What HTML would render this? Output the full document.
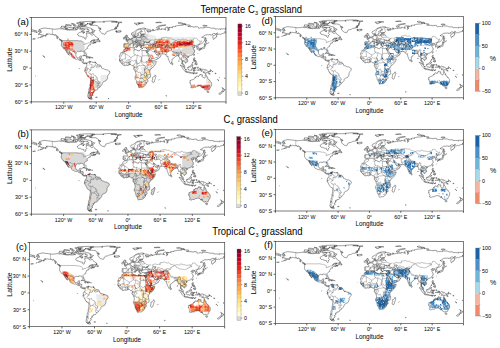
<!DOCTYPE html><html><head><meta charset="utf-8"><style>html,body{margin:0;padding:0;background:#fff;width:500px;height:348px;overflow:hidden}svg{display:block}text{font-family:"Liberation Sans", sans-serif;fill:#000}</style></head><body>
<svg width="500" height="348" viewBox="0 0 500 348">
<defs>
<pattern id="pR" patternUnits="userSpaceOnUse" width="22.20" height="22.20"><path fill="#c00225" d="M0.00,0.00h1.85v1.85h-1.85zM0.00,1.85h1.85v1.85h-1.85zM0.00,9.25h1.85v1.85h-1.85zM0.00,16.65h1.85v1.85h-1.85zM1.85,0.00h1.85v1.85h-1.85zM1.85,5.55h1.85v1.85h-1.85zM1.85,12.95h1.85v1.85h-1.85zM1.85,20.35h1.85v1.85h-1.85zM3.70,3.70h1.85v1.85h-1.85zM3.70,7.40h1.85v1.85h-1.85zM3.70,12.95h1.85v1.85h-1.85zM3.70,20.35h1.85v1.85h-1.85zM5.55,1.85h1.85v1.85h-1.85zM5.55,3.70h1.85v1.85h-1.85zM5.55,7.40h1.85v1.85h-1.85zM5.55,9.25h1.85v1.85h-1.85zM5.55,14.80h1.85v1.85h-1.85zM7.40,1.85h1.85v1.85h-1.85zM7.40,7.40h1.85v1.85h-1.85zM7.40,11.10h1.85v1.85h-1.85zM7.40,12.95h1.85v1.85h-1.85zM9.25,1.85h1.85v1.85h-1.85zM9.25,9.25h1.85v1.85h-1.85zM9.25,14.80h1.85v1.85h-1.85zM11.10,5.55h1.85v1.85h-1.85zM11.10,7.40h1.85v1.85h-1.85zM11.10,12.95h1.85v1.85h-1.85zM11.10,14.80h1.85v1.85h-1.85zM12.95,1.85h1.85v1.85h-1.85zM12.95,3.70h1.85v1.85h-1.85zM12.95,9.25h1.85v1.85h-1.85zM12.95,18.50h1.85v1.85h-1.85zM12.95,20.35h1.85v1.85h-1.85zM14.80,0.00h1.85v1.85h-1.85zM14.80,5.55h1.85v1.85h-1.85zM14.80,7.40h1.85v1.85h-1.85zM14.80,9.25h1.85v1.85h-1.85zM14.80,11.10h1.85v1.85h-1.85zM14.80,12.95h1.85v1.85h-1.85zM14.80,16.65h1.85v1.85h-1.85zM14.80,20.35h1.85v1.85h-1.85zM16.65,0.00h1.85v1.85h-1.85zM18.50,0.00h1.85v1.85h-1.85zM18.50,1.85h1.85v1.85h-1.85zM18.50,11.10h1.85v1.85h-1.85zM18.50,12.95h1.85v1.85h-1.85zM18.50,14.80h1.85v1.85h-1.85zM18.50,20.35h1.85v1.85h-1.85zM20.35,1.85h1.85v1.85h-1.85zM20.35,11.10h1.85v1.85h-1.85zM20.35,12.95h1.85v1.85h-1.85zM20.35,14.80h1.85v1.85h-1.85z"/><path fill="#e6211e" d="M0.00,3.70h1.85v1.85h-1.85zM0.00,7.40h1.85v1.85h-1.85zM0.00,12.95h1.85v1.85h-1.85zM1.85,7.40h1.85v1.85h-1.85zM1.85,11.10h1.85v1.85h-1.85zM3.70,9.25h1.85v1.85h-1.85zM3.70,11.10h1.85v1.85h-1.85zM3.70,14.80h1.85v1.85h-1.85zM5.55,0.00h1.85v1.85h-1.85zM5.55,5.55h1.85v1.85h-1.85zM5.55,11.10h1.85v1.85h-1.85zM5.55,12.95h1.85v1.85h-1.85zM5.55,16.65h1.85v1.85h-1.85zM5.55,18.50h1.85v1.85h-1.85zM7.40,0.00h1.85v1.85h-1.85zM7.40,9.25h1.85v1.85h-1.85zM7.40,16.65h1.85v1.85h-1.85zM7.40,18.50h1.85v1.85h-1.85zM7.40,20.35h1.85v1.85h-1.85zM9.25,3.70h1.85v1.85h-1.85zM9.25,5.55h1.85v1.85h-1.85zM9.25,7.40h1.85v1.85h-1.85zM9.25,16.65h1.85v1.85h-1.85zM9.25,20.35h1.85v1.85h-1.85zM11.10,0.00h1.85v1.85h-1.85zM11.10,9.25h1.85v1.85h-1.85zM11.10,20.35h1.85v1.85h-1.85zM12.95,11.10h1.85v1.85h-1.85zM14.80,14.80h1.85v1.85h-1.85zM16.65,1.85h1.85v1.85h-1.85zM16.65,5.55h1.85v1.85h-1.85zM16.65,7.40h1.85v1.85h-1.85zM16.65,9.25h1.85v1.85h-1.85zM16.65,11.10h1.85v1.85h-1.85zM16.65,16.65h1.85v1.85h-1.85zM16.65,20.35h1.85v1.85h-1.85zM18.50,5.55h1.85v1.85h-1.85zM20.35,7.40h1.85v1.85h-1.85z"/><path fill="#800026" d="M0.00,5.55h1.85v1.85h-1.85zM0.00,11.10h1.85v1.85h-1.85zM0.00,14.80h1.85v1.85h-1.85zM0.00,18.50h1.85v1.85h-1.85zM0.00,20.35h1.85v1.85h-1.85zM1.85,3.70h1.85v1.85h-1.85zM1.85,16.65h1.85v1.85h-1.85zM3.70,0.00h1.85v1.85h-1.85zM3.70,1.85h1.85v1.85h-1.85zM3.70,16.65h1.85v1.85h-1.85zM3.70,18.50h1.85v1.85h-1.85zM7.40,5.55h1.85v1.85h-1.85zM7.40,14.80h1.85v1.85h-1.85zM9.25,18.50h1.85v1.85h-1.85zM11.10,11.10h1.85v1.85h-1.85zM11.10,16.65h1.85v1.85h-1.85zM11.10,18.50h1.85v1.85h-1.85zM12.95,0.00h1.85v1.85h-1.85zM12.95,7.40h1.85v1.85h-1.85zM14.80,18.50h1.85v1.85h-1.85zM16.65,12.95h1.85v1.85h-1.85zM18.50,3.70h1.85v1.85h-1.85zM18.50,7.40h1.85v1.85h-1.85zM18.50,9.25h1.85v1.85h-1.85zM18.50,16.65h1.85v1.85h-1.85zM18.50,18.50h1.85v1.85h-1.85zM20.35,0.00h1.85v1.85h-1.85zM20.35,3.70h1.85v1.85h-1.85zM20.35,9.25h1.85v1.85h-1.85zM20.35,16.65h1.85v1.85h-1.85z"/><path fill="#fc5b2e" d="M1.85,1.85h1.85v1.85h-1.85zM1.85,18.50h1.85v1.85h-1.85zM3.70,5.55h1.85v1.85h-1.85zM5.55,20.35h1.85v1.85h-1.85zM9.25,0.00h1.85v1.85h-1.85zM9.25,11.10h1.85v1.85h-1.85zM11.10,3.70h1.85v1.85h-1.85zM12.95,5.55h1.85v1.85h-1.85zM12.95,12.95h1.85v1.85h-1.85zM12.95,14.80h1.85v1.85h-1.85zM12.95,16.65h1.85v1.85h-1.85zM14.80,1.85h1.85v1.85h-1.85zM16.65,14.80h1.85v1.85h-1.85zM16.65,18.50h1.85v1.85h-1.85zM20.35,5.55h1.85v1.85h-1.85zM20.35,18.50h1.85v1.85h-1.85z"/></pattern><pattern id="pr" patternUnits="userSpaceOnUse" width="22.20" height="22.20"><path fill="#e6211e" d="M0.00,0.00h1.85v1.85h-1.85zM0.00,1.85h1.85v1.85h-1.85zM0.00,7.40h1.85v1.85h-1.85zM0.00,9.25h1.85v1.85h-1.85zM0.00,12.95h1.85v1.85h-1.85zM0.00,20.35h1.85v1.85h-1.85zM1.85,11.10h1.85v1.85h-1.85zM1.85,12.95h1.85v1.85h-1.85zM1.85,14.80h1.85v1.85h-1.85zM3.70,0.00h1.85v1.85h-1.85zM3.70,1.85h1.85v1.85h-1.85zM3.70,14.80h1.85v1.85h-1.85zM3.70,18.50h1.85v1.85h-1.85zM5.55,1.85h1.85v1.85h-1.85zM5.55,3.70h1.85v1.85h-1.85zM5.55,9.25h1.85v1.85h-1.85zM5.55,16.65h1.85v1.85h-1.85zM5.55,18.50h1.85v1.85h-1.85zM5.55,20.35h1.85v1.85h-1.85zM7.40,0.00h1.85v1.85h-1.85zM7.40,1.85h1.85v1.85h-1.85zM7.40,9.25h1.85v1.85h-1.85zM9.25,1.85h1.85v1.85h-1.85zM9.25,3.70h1.85v1.85h-1.85zM9.25,7.40h1.85v1.85h-1.85zM9.25,12.95h1.85v1.85h-1.85zM9.25,14.80h1.85v1.85h-1.85zM9.25,20.35h1.85v1.85h-1.85zM11.10,0.00h1.85v1.85h-1.85zM11.10,1.85h1.85v1.85h-1.85zM11.10,7.40h1.85v1.85h-1.85zM11.10,14.80h1.85v1.85h-1.85zM11.10,18.50h1.85v1.85h-1.85zM12.95,7.40h1.85v1.85h-1.85zM12.95,12.95h1.85v1.85h-1.85zM12.95,14.80h1.85v1.85h-1.85zM12.95,16.65h1.85v1.85h-1.85zM12.95,18.50h1.85v1.85h-1.85zM14.80,0.00h1.85v1.85h-1.85zM14.80,1.85h1.85v1.85h-1.85zM14.80,3.70h1.85v1.85h-1.85zM14.80,7.40h1.85v1.85h-1.85zM14.80,9.25h1.85v1.85h-1.85zM14.80,14.80h1.85v1.85h-1.85zM16.65,3.70h1.85v1.85h-1.85zM16.65,5.55h1.85v1.85h-1.85zM16.65,11.10h1.85v1.85h-1.85zM16.65,12.95h1.85v1.85h-1.85zM16.65,18.50h1.85v1.85h-1.85zM18.50,7.40h1.85v1.85h-1.85zM18.50,9.25h1.85v1.85h-1.85zM18.50,20.35h1.85v1.85h-1.85zM20.35,7.40h1.85v1.85h-1.85zM20.35,11.10h1.85v1.85h-1.85zM20.35,20.35h1.85v1.85h-1.85z"/><path fill="#c00225" d="M0.00,3.70h1.85v1.85h-1.85zM0.00,5.55h1.85v1.85h-1.85zM0.00,14.80h1.85v1.85h-1.85zM1.85,1.85h1.85v1.85h-1.85zM3.70,20.35h1.85v1.85h-1.85zM5.55,0.00h1.85v1.85h-1.85zM7.40,14.80h1.85v1.85h-1.85zM11.10,20.35h1.85v1.85h-1.85zM16.65,1.85h1.85v1.85h-1.85zM16.65,7.40h1.85v1.85h-1.85zM18.50,3.70h1.85v1.85h-1.85z"/><path fill="#fd9740" d="M0.00,11.10h1.85v1.85h-1.85zM1.85,16.65h1.85v1.85h-1.85zM1.85,20.35h1.85v1.85h-1.85zM3.70,3.70h1.85v1.85h-1.85zM3.70,9.25h1.85v1.85h-1.85zM3.70,11.10h1.85v1.85h-1.85zM3.70,12.95h1.85v1.85h-1.85zM7.40,7.40h1.85v1.85h-1.85zM7.40,12.95h1.85v1.85h-1.85zM7.40,20.35h1.85v1.85h-1.85zM9.25,0.00h1.85v1.85h-1.85zM9.25,5.55h1.85v1.85h-1.85zM9.25,9.25h1.85v1.85h-1.85zM9.25,18.50h1.85v1.85h-1.85zM11.10,5.55h1.85v1.85h-1.85zM11.10,9.25h1.85v1.85h-1.85zM12.95,11.10h1.85v1.85h-1.85zM16.65,9.25h1.85v1.85h-1.85zM16.65,14.80h1.85v1.85h-1.85zM18.50,1.85h1.85v1.85h-1.85zM18.50,11.10h1.85v1.85h-1.85zM18.50,16.65h1.85v1.85h-1.85z"/><path fill="#fc5b2e" d="M0.00,18.50h1.85v1.85h-1.85zM1.85,0.00h1.85v1.85h-1.85zM1.85,3.70h1.85v1.85h-1.85zM1.85,9.25h1.85v1.85h-1.85zM1.85,18.50h1.85v1.85h-1.85zM3.70,16.65h1.85v1.85h-1.85zM5.55,5.55h1.85v1.85h-1.85zM7.40,3.70h1.85v1.85h-1.85zM7.40,11.10h1.85v1.85h-1.85zM7.40,16.65h1.85v1.85h-1.85zM11.10,12.95h1.85v1.85h-1.85zM11.10,16.65h1.85v1.85h-1.85zM12.95,1.85h1.85v1.85h-1.85zM12.95,3.70h1.85v1.85h-1.85zM12.95,20.35h1.85v1.85h-1.85zM14.80,11.10h1.85v1.85h-1.85zM14.80,18.50h1.85v1.85h-1.85zM14.80,20.35h1.85v1.85h-1.85zM16.65,0.00h1.85v1.85h-1.85zM16.65,16.65h1.85v1.85h-1.85zM16.65,20.35h1.85v1.85h-1.85zM18.50,0.00h1.85v1.85h-1.85zM18.50,5.55h1.85v1.85h-1.85zM18.50,12.95h1.85v1.85h-1.85zM18.50,14.80h1.85v1.85h-1.85zM20.35,0.00h1.85v1.85h-1.85zM20.35,1.85h1.85v1.85h-1.85zM20.35,3.70h1.85v1.85h-1.85zM20.35,5.55h1.85v1.85h-1.85zM20.35,9.25h1.85v1.85h-1.85zM20.35,14.80h1.85v1.85h-1.85z"/></pattern><pattern id="pO" patternUnits="userSpaceOnUse" width="22.20" height="22.20"><path fill="#fd9740" d="M0.00,0.00h1.85v1.85h-1.85zM0.00,16.65h1.85v1.85h-1.85zM1.85,1.85h1.85v1.85h-1.85zM1.85,3.70h1.85v1.85h-1.85zM3.70,3.70h1.85v1.85h-1.85zM3.70,11.10h1.85v1.85h-1.85zM3.70,14.80h1.85v1.85h-1.85zM5.55,0.00h1.85v1.85h-1.85zM5.55,1.85h1.85v1.85h-1.85zM7.40,11.10h1.85v1.85h-1.85zM7.40,12.95h1.85v1.85h-1.85zM7.40,18.50h1.85v1.85h-1.85zM9.25,3.70h1.85v1.85h-1.85zM9.25,18.50h1.85v1.85h-1.85zM11.10,3.70h1.85v1.85h-1.85zM12.95,0.00h1.85v1.85h-1.85zM12.95,11.10h1.85v1.85h-1.85zM12.95,12.95h1.85v1.85h-1.85zM14.80,9.25h1.85v1.85h-1.85zM14.80,11.10h1.85v1.85h-1.85zM14.80,18.50h1.85v1.85h-1.85zM14.80,20.35h1.85v1.85h-1.85zM16.65,9.25h1.85v1.85h-1.85zM16.65,20.35h1.85v1.85h-1.85zM18.50,16.65h1.85v1.85h-1.85zM20.35,9.25h1.85v1.85h-1.85zM20.35,12.95h1.85v1.85h-1.85z"/><path fill="#fed470" d="M0.00,3.70h1.85v1.85h-1.85zM0.00,18.50h1.85v1.85h-1.85zM1.85,20.35h1.85v1.85h-1.85zM5.55,7.40h1.85v1.85h-1.85zM5.55,16.65h1.85v1.85h-1.85zM7.40,3.70h1.85v1.85h-1.85zM9.25,5.55h1.85v1.85h-1.85zM11.10,18.50h1.85v1.85h-1.85zM14.80,0.00h1.85v1.85h-1.85zM14.80,5.55h1.85v1.85h-1.85zM14.80,16.65h1.85v1.85h-1.85zM16.65,16.65h1.85v1.85h-1.85z"/><path fill="#e6211e" d="M0.00,5.55h1.85v1.85h-1.85zM0.00,7.40h1.85v1.85h-1.85zM0.00,11.10h1.85v1.85h-1.85zM0.00,14.80h1.85v1.85h-1.85zM1.85,0.00h1.85v1.85h-1.85zM1.85,5.55h1.85v1.85h-1.85zM3.70,0.00h1.85v1.85h-1.85zM3.70,7.40h1.85v1.85h-1.85zM3.70,12.95h1.85v1.85h-1.85zM3.70,18.50h1.85v1.85h-1.85zM5.55,3.70h1.85v1.85h-1.85zM5.55,11.10h1.85v1.85h-1.85zM5.55,14.80h1.85v1.85h-1.85zM5.55,20.35h1.85v1.85h-1.85zM7.40,7.40h1.85v1.85h-1.85zM7.40,14.80h1.85v1.85h-1.85zM7.40,16.65h1.85v1.85h-1.85zM9.25,0.00h1.85v1.85h-1.85zM9.25,7.40h1.85v1.85h-1.85zM9.25,11.10h1.85v1.85h-1.85zM11.10,1.85h1.85v1.85h-1.85zM11.10,7.40h1.85v1.85h-1.85zM11.10,9.25h1.85v1.85h-1.85zM11.10,11.10h1.85v1.85h-1.85zM12.95,1.85h1.85v1.85h-1.85zM12.95,5.55h1.85v1.85h-1.85zM12.95,9.25h1.85v1.85h-1.85zM12.95,14.80h1.85v1.85h-1.85zM12.95,20.35h1.85v1.85h-1.85zM16.65,3.70h1.85v1.85h-1.85zM16.65,5.55h1.85v1.85h-1.85zM16.65,7.40h1.85v1.85h-1.85zM16.65,12.95h1.85v1.85h-1.85zM16.65,14.80h1.85v1.85h-1.85zM18.50,7.40h1.85v1.85h-1.85zM20.35,3.70h1.85v1.85h-1.85zM20.35,14.80h1.85v1.85h-1.85zM20.35,18.50h1.85v1.85h-1.85z"/><path fill="#fc5b2e" d="M0.00,9.25h1.85v1.85h-1.85zM0.00,12.95h1.85v1.85h-1.85zM1.85,11.10h1.85v1.85h-1.85zM1.85,14.80h1.85v1.85h-1.85zM1.85,16.65h1.85v1.85h-1.85zM3.70,1.85h1.85v1.85h-1.85zM3.70,5.55h1.85v1.85h-1.85zM3.70,9.25h1.85v1.85h-1.85zM3.70,16.65h1.85v1.85h-1.85zM3.70,20.35h1.85v1.85h-1.85zM5.55,12.95h1.85v1.85h-1.85zM5.55,18.50h1.85v1.85h-1.85zM7.40,0.00h1.85v1.85h-1.85zM7.40,5.55h1.85v1.85h-1.85zM7.40,20.35h1.85v1.85h-1.85zM9.25,14.80h1.85v1.85h-1.85zM9.25,16.65h1.85v1.85h-1.85zM11.10,0.00h1.85v1.85h-1.85zM11.10,5.55h1.85v1.85h-1.85zM11.10,12.95h1.85v1.85h-1.85zM11.10,14.80h1.85v1.85h-1.85zM11.10,16.65h1.85v1.85h-1.85zM11.10,20.35h1.85v1.85h-1.85zM12.95,3.70h1.85v1.85h-1.85zM12.95,7.40h1.85v1.85h-1.85zM12.95,16.65h1.85v1.85h-1.85zM14.80,1.85h1.85v1.85h-1.85zM14.80,3.70h1.85v1.85h-1.85zM14.80,7.40h1.85v1.85h-1.85zM14.80,14.80h1.85v1.85h-1.85zM16.65,0.00h1.85v1.85h-1.85zM16.65,1.85h1.85v1.85h-1.85zM16.65,11.10h1.85v1.85h-1.85zM18.50,0.00h1.85v1.85h-1.85zM18.50,1.85h1.85v1.85h-1.85zM18.50,3.70h1.85v1.85h-1.85zM18.50,5.55h1.85v1.85h-1.85zM18.50,9.25h1.85v1.85h-1.85zM18.50,11.10h1.85v1.85h-1.85zM18.50,18.50h1.85v1.85h-1.85zM20.35,0.00h1.85v1.85h-1.85zM20.35,1.85h1.85v1.85h-1.85zM20.35,5.55h1.85v1.85h-1.85zM20.35,7.40h1.85v1.85h-1.85zM20.35,11.10h1.85v1.85h-1.85zM20.35,16.65h1.85v1.85h-1.85zM20.35,20.35h1.85v1.85h-1.85z"/></pattern><pattern id="po" patternUnits="userSpaceOnUse" width="22.20" height="22.20"><path fill="#e6211e" d="M0.00,0.00h1.85v1.85h-1.85zM0.00,1.85h1.85v1.85h-1.85zM1.85,7.40h1.85v1.85h-1.85zM3.70,16.65h1.85v1.85h-1.85zM5.55,12.95h1.85v1.85h-1.85zM9.25,20.35h1.85v1.85h-1.85zM12.95,3.70h1.85v1.85h-1.85zM14.80,20.35h1.85v1.85h-1.85zM16.65,0.00h1.85v1.85h-1.85zM16.65,14.80h1.85v1.85h-1.85zM18.50,20.35h1.85v1.85h-1.85z"/><path fill="#fd9740" d="M0.00,3.70h1.85v1.85h-1.85zM0.00,9.25h1.85v1.85h-1.85zM0.00,18.50h1.85v1.85h-1.85zM0.00,20.35h1.85v1.85h-1.85zM1.85,20.35h1.85v1.85h-1.85zM3.70,0.00h1.85v1.85h-1.85zM3.70,20.35h1.85v1.85h-1.85zM5.55,3.70h1.85v1.85h-1.85zM5.55,11.10h1.85v1.85h-1.85zM5.55,18.50h1.85v1.85h-1.85zM5.55,20.35h1.85v1.85h-1.85zM7.40,9.25h1.85v1.85h-1.85zM7.40,18.50h1.85v1.85h-1.85zM7.40,20.35h1.85v1.85h-1.85zM9.25,0.00h1.85v1.85h-1.85zM9.25,16.65h1.85v1.85h-1.85zM9.25,18.50h1.85v1.85h-1.85zM11.10,1.85h1.85v1.85h-1.85zM11.10,9.25h1.85v1.85h-1.85zM11.10,11.10h1.85v1.85h-1.85zM11.10,12.95h1.85v1.85h-1.85zM11.10,14.80h1.85v1.85h-1.85zM12.95,5.55h1.85v1.85h-1.85zM12.95,11.10h1.85v1.85h-1.85zM12.95,12.95h1.85v1.85h-1.85zM14.80,1.85h1.85v1.85h-1.85zM14.80,9.25h1.85v1.85h-1.85zM14.80,18.50h1.85v1.85h-1.85zM16.65,1.85h1.85v1.85h-1.85zM16.65,3.70h1.85v1.85h-1.85zM16.65,5.55h1.85v1.85h-1.85zM16.65,9.25h1.85v1.85h-1.85zM16.65,11.10h1.85v1.85h-1.85zM18.50,5.55h1.85v1.85h-1.85zM18.50,7.40h1.85v1.85h-1.85zM18.50,9.25h1.85v1.85h-1.85zM18.50,14.80h1.85v1.85h-1.85zM18.50,16.65h1.85v1.85h-1.85zM18.50,18.50h1.85v1.85h-1.85zM20.35,3.70h1.85v1.85h-1.85zM20.35,9.25h1.85v1.85h-1.85zM20.35,11.10h1.85v1.85h-1.85zM20.35,14.80h1.85v1.85h-1.85z"/><path fill="#fc5b2e" d="M0.00,5.55h1.85v1.85h-1.85zM1.85,1.85h1.85v1.85h-1.85zM1.85,18.50h1.85v1.85h-1.85zM3.70,14.80h1.85v1.85h-1.85zM3.70,18.50h1.85v1.85h-1.85zM5.55,0.00h1.85v1.85h-1.85zM7.40,1.85h1.85v1.85h-1.85zM7.40,5.55h1.85v1.85h-1.85zM7.40,7.40h1.85v1.85h-1.85zM7.40,12.95h1.85v1.85h-1.85zM9.25,9.25h1.85v1.85h-1.85zM9.25,11.10h1.85v1.85h-1.85zM9.25,12.95h1.85v1.85h-1.85zM11.10,0.00h1.85v1.85h-1.85zM11.10,16.65h1.85v1.85h-1.85zM11.10,20.35h1.85v1.85h-1.85zM12.95,14.80h1.85v1.85h-1.85zM12.95,18.50h1.85v1.85h-1.85zM14.80,0.00h1.85v1.85h-1.85zM14.80,5.55h1.85v1.85h-1.85zM14.80,14.80h1.85v1.85h-1.85zM16.65,7.40h1.85v1.85h-1.85zM16.65,20.35h1.85v1.85h-1.85zM20.35,0.00h1.85v1.85h-1.85zM20.35,7.40h1.85v1.85h-1.85zM20.35,12.95h1.85v1.85h-1.85z"/><path fill="#fed470" d="M0.00,7.40h1.85v1.85h-1.85zM0.00,11.10h1.85v1.85h-1.85zM0.00,12.95h1.85v1.85h-1.85zM0.00,14.80h1.85v1.85h-1.85zM1.85,3.70h1.85v1.85h-1.85zM1.85,5.55h1.85v1.85h-1.85zM1.85,12.95h1.85v1.85h-1.85zM1.85,14.80h1.85v1.85h-1.85zM3.70,7.40h1.85v1.85h-1.85zM3.70,11.10h1.85v1.85h-1.85zM3.70,12.95h1.85v1.85h-1.85zM5.55,5.55h1.85v1.85h-1.85zM5.55,7.40h1.85v1.85h-1.85zM5.55,9.25h1.85v1.85h-1.85zM5.55,16.65h1.85v1.85h-1.85zM7.40,0.00h1.85v1.85h-1.85zM7.40,3.70h1.85v1.85h-1.85zM7.40,11.10h1.85v1.85h-1.85zM7.40,14.80h1.85v1.85h-1.85zM9.25,1.85h1.85v1.85h-1.85zM9.25,3.70h1.85v1.85h-1.85zM9.25,5.55h1.85v1.85h-1.85zM9.25,7.40h1.85v1.85h-1.85zM9.25,14.80h1.85v1.85h-1.85zM11.10,3.70h1.85v1.85h-1.85zM11.10,5.55h1.85v1.85h-1.85zM11.10,7.40h1.85v1.85h-1.85zM12.95,20.35h1.85v1.85h-1.85zM14.80,12.95h1.85v1.85h-1.85zM16.65,16.65h1.85v1.85h-1.85zM18.50,1.85h1.85v1.85h-1.85zM18.50,12.95h1.85v1.85h-1.85z"/></pattern><pattern id="py" patternUnits="userSpaceOnUse" width="22.20" height="22.20"><path fill="#ffec9d" d="M0.00,0.00h1.85v1.85h-1.85zM0.00,5.55h1.85v1.85h-1.85zM0.00,12.95h1.85v1.85h-1.85zM0.00,16.65h1.85v1.85h-1.85zM1.85,3.70h1.85v1.85h-1.85zM1.85,14.80h1.85v1.85h-1.85zM1.85,18.50h1.85v1.85h-1.85zM3.70,7.40h1.85v1.85h-1.85zM5.55,7.40h1.85v1.85h-1.85zM5.55,16.65h1.85v1.85h-1.85zM7.40,7.40h1.85v1.85h-1.85zM7.40,9.25h1.85v1.85h-1.85zM9.25,12.95h1.85v1.85h-1.85zM9.25,14.80h1.85v1.85h-1.85zM11.10,11.10h1.85v1.85h-1.85zM11.10,12.95h1.85v1.85h-1.85zM11.10,18.50h1.85v1.85h-1.85zM12.95,0.00h1.85v1.85h-1.85zM12.95,1.85h1.85v1.85h-1.85zM12.95,11.10h1.85v1.85h-1.85zM12.95,18.50h1.85v1.85h-1.85zM12.95,20.35h1.85v1.85h-1.85zM14.80,3.70h1.85v1.85h-1.85zM14.80,5.55h1.85v1.85h-1.85zM14.80,11.10h1.85v1.85h-1.85zM14.80,16.65h1.85v1.85h-1.85zM14.80,20.35h1.85v1.85h-1.85zM16.65,1.85h1.85v1.85h-1.85zM16.65,14.80h1.85v1.85h-1.85zM16.65,16.65h1.85v1.85h-1.85zM18.50,0.00h1.85v1.85h-1.85zM18.50,11.10h1.85v1.85h-1.85zM18.50,18.50h1.85v1.85h-1.85zM20.35,14.80h1.85v1.85h-1.85z"/><path fill="#fd9740" d="M0.00,9.25h1.85v1.85h-1.85zM0.00,20.35h1.85v1.85h-1.85zM3.70,20.35h1.85v1.85h-1.85zM5.55,1.85h1.85v1.85h-1.85zM7.40,0.00h1.85v1.85h-1.85zM9.25,5.55h1.85v1.85h-1.85zM9.25,7.40h1.85v1.85h-1.85zM9.25,16.65h1.85v1.85h-1.85zM12.95,3.70h1.85v1.85h-1.85zM14.80,1.85h1.85v1.85h-1.85zM14.80,12.95h1.85v1.85h-1.85zM16.65,12.95h1.85v1.85h-1.85zM18.50,5.55h1.85v1.85h-1.85z"/><path fill="#fed470" d="M0.00,18.50h1.85v1.85h-1.85zM1.85,1.85h1.85v1.85h-1.85zM1.85,5.55h1.85v1.85h-1.85zM1.85,7.40h1.85v1.85h-1.85zM1.85,12.95h1.85v1.85h-1.85zM1.85,16.65h1.85v1.85h-1.85zM1.85,20.35h1.85v1.85h-1.85zM3.70,0.00h1.85v1.85h-1.85zM3.70,1.85h1.85v1.85h-1.85zM3.70,3.70h1.85v1.85h-1.85zM3.70,9.25h1.85v1.85h-1.85zM3.70,14.80h1.85v1.85h-1.85zM3.70,16.65h1.85v1.85h-1.85zM3.70,18.50h1.85v1.85h-1.85zM5.55,0.00h1.85v1.85h-1.85zM5.55,3.70h1.85v1.85h-1.85zM5.55,5.55h1.85v1.85h-1.85zM5.55,12.95h1.85v1.85h-1.85zM5.55,14.80h1.85v1.85h-1.85zM5.55,18.50h1.85v1.85h-1.85zM5.55,20.35h1.85v1.85h-1.85zM7.40,1.85h1.85v1.85h-1.85zM7.40,5.55h1.85v1.85h-1.85zM7.40,12.95h1.85v1.85h-1.85zM7.40,14.80h1.85v1.85h-1.85zM7.40,16.65h1.85v1.85h-1.85zM7.40,18.50h1.85v1.85h-1.85zM7.40,20.35h1.85v1.85h-1.85zM9.25,18.50h1.85v1.85h-1.85zM11.10,5.55h1.85v1.85h-1.85zM11.10,7.40h1.85v1.85h-1.85zM11.10,9.25h1.85v1.85h-1.85zM12.95,7.40h1.85v1.85h-1.85zM12.95,12.95h1.85v1.85h-1.85zM12.95,14.80h1.85v1.85h-1.85zM12.95,16.65h1.85v1.85h-1.85zM14.80,0.00h1.85v1.85h-1.85zM14.80,7.40h1.85v1.85h-1.85zM14.80,9.25h1.85v1.85h-1.85zM14.80,14.80h1.85v1.85h-1.85zM16.65,3.70h1.85v1.85h-1.85zM16.65,5.55h1.85v1.85h-1.85zM16.65,11.10h1.85v1.85h-1.85zM16.65,18.50h1.85v1.85h-1.85zM16.65,20.35h1.85v1.85h-1.85zM18.50,3.70h1.85v1.85h-1.85zM18.50,7.40h1.85v1.85h-1.85zM18.50,9.25h1.85v1.85h-1.85zM18.50,12.95h1.85v1.85h-1.85zM18.50,20.35h1.85v1.85h-1.85zM20.35,1.85h1.85v1.85h-1.85zM20.35,5.55h1.85v1.85h-1.85zM20.35,7.40h1.85v1.85h-1.85zM20.35,11.10h1.85v1.85h-1.85zM20.35,16.65h1.85v1.85h-1.85zM20.35,18.50h1.85v1.85h-1.85zM20.35,20.35h1.85v1.85h-1.85z"/></pattern><pattern id="pY" patternUnits="userSpaceOnUse" width="22.20" height="22.20"><path fill="#ffec9d" d="M0.00,3.70h1.85v1.85h-1.85zM0.00,7.40h1.85v1.85h-1.85zM0.00,11.10h1.85v1.85h-1.85zM1.85,7.40h1.85v1.85h-1.85zM3.70,0.00h1.85v1.85h-1.85zM3.70,3.70h1.85v1.85h-1.85zM3.70,9.25h1.85v1.85h-1.85zM3.70,12.95h1.85v1.85h-1.85zM5.55,7.40h1.85v1.85h-1.85zM7.40,5.55h1.85v1.85h-1.85zM7.40,12.95h1.85v1.85h-1.85zM7.40,18.50h1.85v1.85h-1.85zM9.25,1.85h1.85v1.85h-1.85zM9.25,14.80h1.85v1.85h-1.85zM11.10,1.85h1.85v1.85h-1.85zM11.10,9.25h1.85v1.85h-1.85zM12.95,7.40h1.85v1.85h-1.85zM12.95,11.10h1.85v1.85h-1.85zM14.80,3.70h1.85v1.85h-1.85zM14.80,5.55h1.85v1.85h-1.85zM14.80,7.40h1.85v1.85h-1.85zM14.80,14.80h1.85v1.85h-1.85zM16.65,5.55h1.85v1.85h-1.85zM16.65,9.25h1.85v1.85h-1.85zM16.65,16.65h1.85v1.85h-1.85zM16.65,18.50h1.85v1.85h-1.85zM16.65,20.35h1.85v1.85h-1.85zM18.50,0.00h1.85v1.85h-1.85zM18.50,12.95h1.85v1.85h-1.85zM18.50,20.35h1.85v1.85h-1.85zM20.35,9.25h1.85v1.85h-1.85zM20.35,11.10h1.85v1.85h-1.85zM20.35,12.95h1.85v1.85h-1.85z"/><path fill="#fed470" d="M0.00,12.95h1.85v1.85h-1.85zM0.00,14.80h1.85v1.85h-1.85zM1.85,12.95h1.85v1.85h-1.85zM3.70,1.85h1.85v1.85h-1.85zM5.55,0.00h1.85v1.85h-1.85zM5.55,12.95h1.85v1.85h-1.85zM5.55,20.35h1.85v1.85h-1.85zM7.40,0.00h1.85v1.85h-1.85zM7.40,1.85h1.85v1.85h-1.85zM9.25,3.70h1.85v1.85h-1.85zM9.25,12.95h1.85v1.85h-1.85zM12.95,5.55h1.85v1.85h-1.85zM12.95,12.95h1.85v1.85h-1.85zM12.95,14.80h1.85v1.85h-1.85zM20.35,7.40h1.85v1.85h-1.85z"/></pattern><pattern id="pB" patternUnits="userSpaceOnUse" width="22.20" height="22.20"><path fill="#70b4d8" d="M0.00,0.00h1.85v1.85h-1.85zM5.55,7.40h1.85v1.85h-1.85zM7.40,5.55h1.85v1.85h-1.85zM12.95,20.35h1.85v1.85h-1.85zM20.35,11.10h1.85v1.85h-1.85z"/><path fill="#1d62a6" d="M0.00,1.85h1.85v1.85h-1.85zM0.00,3.70h1.85v1.85h-1.85zM0.00,9.25h1.85v1.85h-1.85zM0.00,11.10h1.85v1.85h-1.85zM0.00,14.80h1.85v1.85h-1.85zM0.00,16.65h1.85v1.85h-1.85zM0.00,18.50h1.85v1.85h-1.85zM0.00,20.35h1.85v1.85h-1.85zM1.85,0.00h1.85v1.85h-1.85zM1.85,1.85h1.85v1.85h-1.85zM1.85,5.55h1.85v1.85h-1.85zM1.85,7.40h1.85v1.85h-1.85zM1.85,9.25h1.85v1.85h-1.85zM1.85,12.95h1.85v1.85h-1.85zM1.85,14.80h1.85v1.85h-1.85zM1.85,16.65h1.85v1.85h-1.85zM1.85,20.35h1.85v1.85h-1.85zM3.70,0.00h1.85v1.85h-1.85zM3.70,1.85h1.85v1.85h-1.85zM3.70,3.70h1.85v1.85h-1.85zM3.70,5.55h1.85v1.85h-1.85zM3.70,9.25h1.85v1.85h-1.85zM3.70,11.10h1.85v1.85h-1.85zM3.70,14.80h1.85v1.85h-1.85zM3.70,16.65h1.85v1.85h-1.85zM3.70,18.50h1.85v1.85h-1.85zM5.55,0.00h1.85v1.85h-1.85zM5.55,1.85h1.85v1.85h-1.85zM5.55,3.70h1.85v1.85h-1.85zM5.55,5.55h1.85v1.85h-1.85zM5.55,11.10h1.85v1.85h-1.85zM5.55,12.95h1.85v1.85h-1.85zM5.55,16.65h1.85v1.85h-1.85zM5.55,18.50h1.85v1.85h-1.85zM7.40,0.00h1.85v1.85h-1.85zM7.40,3.70h1.85v1.85h-1.85zM7.40,7.40h1.85v1.85h-1.85zM7.40,9.25h1.85v1.85h-1.85zM7.40,11.10h1.85v1.85h-1.85zM7.40,12.95h1.85v1.85h-1.85zM7.40,18.50h1.85v1.85h-1.85zM9.25,0.00h1.85v1.85h-1.85zM9.25,1.85h1.85v1.85h-1.85zM9.25,3.70h1.85v1.85h-1.85zM9.25,5.55h1.85v1.85h-1.85zM9.25,7.40h1.85v1.85h-1.85zM9.25,11.10h1.85v1.85h-1.85zM9.25,12.95h1.85v1.85h-1.85zM9.25,18.50h1.85v1.85h-1.85zM9.25,20.35h1.85v1.85h-1.85zM11.10,3.70h1.85v1.85h-1.85zM11.10,5.55h1.85v1.85h-1.85zM11.10,9.25h1.85v1.85h-1.85zM11.10,16.65h1.85v1.85h-1.85zM11.10,20.35h1.85v1.85h-1.85zM12.95,0.00h1.85v1.85h-1.85zM12.95,5.55h1.85v1.85h-1.85zM12.95,7.40h1.85v1.85h-1.85zM12.95,9.25h1.85v1.85h-1.85zM12.95,11.10h1.85v1.85h-1.85zM12.95,12.95h1.85v1.85h-1.85zM12.95,14.80h1.85v1.85h-1.85zM12.95,16.65h1.85v1.85h-1.85zM14.80,0.00h1.85v1.85h-1.85zM14.80,1.85h1.85v1.85h-1.85zM14.80,5.55h1.85v1.85h-1.85zM14.80,9.25h1.85v1.85h-1.85zM14.80,11.10h1.85v1.85h-1.85zM14.80,12.95h1.85v1.85h-1.85zM14.80,16.65h1.85v1.85h-1.85zM14.80,18.50h1.85v1.85h-1.85zM14.80,20.35h1.85v1.85h-1.85zM16.65,0.00h1.85v1.85h-1.85zM16.65,3.70h1.85v1.85h-1.85zM16.65,5.55h1.85v1.85h-1.85zM16.65,7.40h1.85v1.85h-1.85zM16.65,11.10h1.85v1.85h-1.85zM16.65,12.95h1.85v1.85h-1.85zM16.65,18.50h1.85v1.85h-1.85zM16.65,20.35h1.85v1.85h-1.85zM18.50,0.00h1.85v1.85h-1.85zM18.50,1.85h1.85v1.85h-1.85zM18.50,3.70h1.85v1.85h-1.85zM18.50,5.55h1.85v1.85h-1.85zM18.50,7.40h1.85v1.85h-1.85zM18.50,9.25h1.85v1.85h-1.85zM18.50,11.10h1.85v1.85h-1.85zM18.50,12.95h1.85v1.85h-1.85zM18.50,16.65h1.85v1.85h-1.85zM20.35,0.00h1.85v1.85h-1.85zM20.35,1.85h1.85v1.85h-1.85zM20.35,3.70h1.85v1.85h-1.85zM20.35,5.55h1.85v1.85h-1.85zM20.35,9.25h1.85v1.85h-1.85zM20.35,18.50h1.85v1.85h-1.85z"/><path fill="#4b8fc6" d="M0.00,5.55h1.85v1.85h-1.85zM0.00,12.95h1.85v1.85h-1.85zM1.85,3.70h1.85v1.85h-1.85zM1.85,11.10h1.85v1.85h-1.85zM1.85,18.50h1.85v1.85h-1.85zM3.70,7.40h1.85v1.85h-1.85zM3.70,12.95h1.85v1.85h-1.85zM5.55,14.80h1.85v1.85h-1.85zM7.40,1.85h1.85v1.85h-1.85zM7.40,14.80h1.85v1.85h-1.85zM7.40,20.35h1.85v1.85h-1.85zM9.25,14.80h1.85v1.85h-1.85zM11.10,12.95h1.85v1.85h-1.85zM11.10,14.80h1.85v1.85h-1.85zM11.10,18.50h1.85v1.85h-1.85zM12.95,1.85h1.85v1.85h-1.85zM12.95,3.70h1.85v1.85h-1.85zM12.95,18.50h1.85v1.85h-1.85zM14.80,3.70h1.85v1.85h-1.85zM14.80,7.40h1.85v1.85h-1.85zM14.80,14.80h1.85v1.85h-1.85zM16.65,1.85h1.85v1.85h-1.85zM16.65,9.25h1.85v1.85h-1.85zM16.65,14.80h1.85v1.85h-1.85zM16.65,16.65h1.85v1.85h-1.85zM18.50,14.80h1.85v1.85h-1.85zM18.50,18.50h1.85v1.85h-1.85zM18.50,20.35h1.85v1.85h-1.85zM20.35,14.80h1.85v1.85h-1.85zM20.35,16.65h1.85v1.85h-1.85z"/></pattern><pattern id="pb" patternUnits="userSpaceOnUse" width="22.20" height="22.20"><path fill="#4b8fc6" d="M0.00,0.00h1.85v1.85h-1.85zM0.00,12.95h1.85v1.85h-1.85zM1.85,3.70h1.85v1.85h-1.85zM1.85,11.10h1.85v1.85h-1.85zM1.85,12.95h1.85v1.85h-1.85zM3.70,9.25h1.85v1.85h-1.85zM3.70,12.95h1.85v1.85h-1.85zM3.70,16.65h1.85v1.85h-1.85zM3.70,18.50h1.85v1.85h-1.85zM5.55,5.55h1.85v1.85h-1.85zM5.55,12.95h1.85v1.85h-1.85zM5.55,14.80h1.85v1.85h-1.85zM5.55,18.50h1.85v1.85h-1.85zM7.40,11.10h1.85v1.85h-1.85zM7.40,14.80h1.85v1.85h-1.85zM9.25,0.00h1.85v1.85h-1.85zM9.25,1.85h1.85v1.85h-1.85zM9.25,3.70h1.85v1.85h-1.85zM9.25,16.65h1.85v1.85h-1.85zM9.25,20.35h1.85v1.85h-1.85zM11.10,1.85h1.85v1.85h-1.85zM11.10,3.70h1.85v1.85h-1.85zM11.10,9.25h1.85v1.85h-1.85zM12.95,3.70h1.85v1.85h-1.85zM12.95,11.10h1.85v1.85h-1.85zM12.95,12.95h1.85v1.85h-1.85zM12.95,16.65h1.85v1.85h-1.85zM14.80,5.55h1.85v1.85h-1.85zM14.80,7.40h1.85v1.85h-1.85zM14.80,16.65h1.85v1.85h-1.85zM16.65,1.85h1.85v1.85h-1.85zM16.65,3.70h1.85v1.85h-1.85zM16.65,11.10h1.85v1.85h-1.85zM16.65,12.95h1.85v1.85h-1.85zM18.50,5.55h1.85v1.85h-1.85zM18.50,9.25h1.85v1.85h-1.85zM18.50,18.50h1.85v1.85h-1.85zM20.35,7.40h1.85v1.85h-1.85zM20.35,9.25h1.85v1.85h-1.85zM20.35,12.95h1.85v1.85h-1.85z"/><path fill="#1d62a6" d="M0.00,5.55h1.85v1.85h-1.85zM0.00,11.10h1.85v1.85h-1.85zM0.00,16.65h1.85v1.85h-1.85zM0.00,20.35h1.85v1.85h-1.85zM1.85,1.85h1.85v1.85h-1.85zM1.85,7.40h1.85v1.85h-1.85zM1.85,9.25h1.85v1.85h-1.85zM1.85,14.80h1.85v1.85h-1.85zM1.85,16.65h1.85v1.85h-1.85zM1.85,18.50h1.85v1.85h-1.85zM3.70,3.70h1.85v1.85h-1.85zM3.70,7.40h1.85v1.85h-1.85zM5.55,0.00h1.85v1.85h-1.85zM5.55,9.25h1.85v1.85h-1.85zM5.55,20.35h1.85v1.85h-1.85zM7.40,1.85h1.85v1.85h-1.85zM7.40,5.55h1.85v1.85h-1.85zM7.40,16.65h1.85v1.85h-1.85zM7.40,18.50h1.85v1.85h-1.85zM7.40,20.35h1.85v1.85h-1.85zM9.25,7.40h1.85v1.85h-1.85zM9.25,9.25h1.85v1.85h-1.85zM9.25,12.95h1.85v1.85h-1.85zM9.25,14.80h1.85v1.85h-1.85zM9.25,18.50h1.85v1.85h-1.85zM11.10,0.00h1.85v1.85h-1.85zM11.10,5.55h1.85v1.85h-1.85zM11.10,11.10h1.85v1.85h-1.85zM11.10,14.80h1.85v1.85h-1.85zM11.10,16.65h1.85v1.85h-1.85zM11.10,18.50h1.85v1.85h-1.85zM12.95,5.55h1.85v1.85h-1.85zM12.95,7.40h1.85v1.85h-1.85zM14.80,0.00h1.85v1.85h-1.85zM14.80,3.70h1.85v1.85h-1.85zM14.80,9.25h1.85v1.85h-1.85zM14.80,11.10h1.85v1.85h-1.85zM14.80,14.80h1.85v1.85h-1.85zM14.80,20.35h1.85v1.85h-1.85zM16.65,0.00h1.85v1.85h-1.85zM16.65,9.25h1.85v1.85h-1.85zM16.65,14.80h1.85v1.85h-1.85zM18.50,0.00h1.85v1.85h-1.85zM18.50,11.10h1.85v1.85h-1.85zM18.50,12.95h1.85v1.85h-1.85zM18.50,14.80h1.85v1.85h-1.85zM18.50,16.65h1.85v1.85h-1.85zM20.35,5.55h1.85v1.85h-1.85zM20.35,14.80h1.85v1.85h-1.85zM20.35,20.35h1.85v1.85h-1.85z"/><path fill="#70b4d8" d="M0.00,14.80h1.85v1.85h-1.85zM3.70,0.00h1.85v1.85h-1.85zM3.70,11.10h1.85v1.85h-1.85zM5.55,3.70h1.85v1.85h-1.85zM7.40,0.00h1.85v1.85h-1.85zM7.40,7.40h1.85v1.85h-1.85zM7.40,12.95h1.85v1.85h-1.85zM9.25,11.10h1.85v1.85h-1.85zM11.10,7.40h1.85v1.85h-1.85zM11.10,20.35h1.85v1.85h-1.85zM12.95,9.25h1.85v1.85h-1.85zM12.95,14.80h1.85v1.85h-1.85zM12.95,20.35h1.85v1.85h-1.85zM16.65,5.55h1.85v1.85h-1.85zM16.65,20.35h1.85v1.85h-1.85zM18.50,3.70h1.85v1.85h-1.85zM18.50,7.40h1.85v1.85h-1.85zM18.50,20.35h1.85v1.85h-1.85zM20.35,0.00h1.85v1.85h-1.85zM20.35,3.70h1.85v1.85h-1.85zM20.35,16.65h1.85v1.85h-1.85z"/></pattern><pattern id="pc" patternUnits="userSpaceOnUse" width="22.20" height="22.20"><path fill="#1d62a6" d="M0.00,1.85h1.85v1.85h-1.85zM3.70,3.70h1.85v1.85h-1.85zM3.70,9.25h1.85v1.85h-1.85zM3.70,11.10h1.85v1.85h-1.85zM3.70,18.50h1.85v1.85h-1.85zM3.70,20.35h1.85v1.85h-1.85zM5.55,7.40h1.85v1.85h-1.85zM5.55,18.50h1.85v1.85h-1.85zM7.40,3.70h1.85v1.85h-1.85zM7.40,7.40h1.85v1.85h-1.85zM7.40,9.25h1.85v1.85h-1.85zM9.25,0.00h1.85v1.85h-1.85zM9.25,1.85h1.85v1.85h-1.85zM9.25,11.10h1.85v1.85h-1.85zM11.10,7.40h1.85v1.85h-1.85zM12.95,1.85h1.85v1.85h-1.85zM12.95,7.40h1.85v1.85h-1.85zM12.95,14.80h1.85v1.85h-1.85zM14.80,18.50h1.85v1.85h-1.85zM16.65,0.00h1.85v1.85h-1.85zM16.65,16.65h1.85v1.85h-1.85zM16.65,20.35h1.85v1.85h-1.85z"/><path fill="#4b8fc6" d="M0.00,3.70h1.85v1.85h-1.85zM0.00,5.55h1.85v1.85h-1.85zM0.00,12.95h1.85v1.85h-1.85zM0.00,16.65h1.85v1.85h-1.85zM0.00,18.50h1.85v1.85h-1.85zM1.85,20.35h1.85v1.85h-1.85zM3.70,0.00h1.85v1.85h-1.85zM3.70,7.40h1.85v1.85h-1.85zM3.70,14.80h1.85v1.85h-1.85zM3.70,16.65h1.85v1.85h-1.85zM5.55,11.10h1.85v1.85h-1.85zM7.40,5.55h1.85v1.85h-1.85zM7.40,20.35h1.85v1.85h-1.85zM9.25,5.55h1.85v1.85h-1.85zM9.25,7.40h1.85v1.85h-1.85zM9.25,12.95h1.85v1.85h-1.85zM9.25,14.80h1.85v1.85h-1.85zM9.25,18.50h1.85v1.85h-1.85zM9.25,20.35h1.85v1.85h-1.85zM11.10,14.80h1.85v1.85h-1.85zM11.10,20.35h1.85v1.85h-1.85zM12.95,5.55h1.85v1.85h-1.85zM12.95,9.25h1.85v1.85h-1.85zM14.80,0.00h1.85v1.85h-1.85zM14.80,3.70h1.85v1.85h-1.85zM14.80,7.40h1.85v1.85h-1.85zM14.80,11.10h1.85v1.85h-1.85zM14.80,12.95h1.85v1.85h-1.85zM16.65,9.25h1.85v1.85h-1.85zM18.50,0.00h1.85v1.85h-1.85zM18.50,1.85h1.85v1.85h-1.85zM18.50,11.10h1.85v1.85h-1.85zM20.35,0.00h1.85v1.85h-1.85zM20.35,1.85h1.85v1.85h-1.85zM20.35,3.70h1.85v1.85h-1.85zM20.35,11.10h1.85v1.85h-1.85zM20.35,18.50h1.85v1.85h-1.85z"/><path fill="#a9d8e7" d="M1.85,0.00h1.85v1.85h-1.85zM1.85,18.50h1.85v1.85h-1.85zM3.70,1.85h1.85v1.85h-1.85zM5.55,1.85h1.85v1.85h-1.85zM5.55,9.25h1.85v1.85h-1.85zM7.40,14.80h1.85v1.85h-1.85zM7.40,18.50h1.85v1.85h-1.85zM11.10,5.55h1.85v1.85h-1.85zM14.80,20.35h1.85v1.85h-1.85zM16.65,7.40h1.85v1.85h-1.85zM18.50,20.35h1.85v1.85h-1.85zM20.35,16.65h1.85v1.85h-1.85z"/><path fill="#70b4d8" d="M1.85,7.40h1.85v1.85h-1.85zM1.85,14.80h1.85v1.85h-1.85zM9.25,9.25h1.85v1.85h-1.85zM11.10,1.85h1.85v1.85h-1.85zM11.10,9.25h1.85v1.85h-1.85zM11.10,11.10h1.85v1.85h-1.85zM11.10,18.50h1.85v1.85h-1.85zM12.95,16.65h1.85v1.85h-1.85zM12.95,18.50h1.85v1.85h-1.85zM14.80,1.85h1.85v1.85h-1.85zM14.80,16.65h1.85v1.85h-1.85zM16.65,11.10h1.85v1.85h-1.85zM16.65,12.95h1.85v1.85h-1.85zM18.50,5.55h1.85v1.85h-1.85zM18.50,7.40h1.85v1.85h-1.85zM18.50,12.95h1.85v1.85h-1.85zM18.50,14.80h1.85v1.85h-1.85zM20.35,12.95h1.85v1.85h-1.85zM20.35,20.35h1.85v1.85h-1.85z"/></pattern>
<clipPath id="land" clipPathUnits="userSpaceOnUse"><path d="M-168,-65.6 -166,-66.2 -163.7,-66.6 -161.8,-66.1 -163.8,-67.7 -166.2,-68.3 -164,-69 -163,-69.6 -160.5,-70.3 -156.6,-71.3 -152.5,-70.9 -149,-70.5 -145,-70.1 -141,-69.6 -137,-69 -134.5,-69.6 -132,-69.6 -129.5,-70 -127,-70.2 -125,-69.5 -122,-69.8 -118.5,-69 -114.5,-68.3 -111,-67.8 -108.5,-67.4 -106.5,-68.2 -104.5,-67.8 -101,-67.8 -98.5,-67.8 -97,-68.5 -95.5,-68.2 -94,-69.5 -94.5,-71.8 -92.5,-71.5 -91.5,-70 -89.5,-69 -88,-68.4 -85.8,-69.5 -84.5,-69.8 -82,-69.4 -81.3,-68.4 -83,-67.3 -85.5,-66.5 -87.5,-66 -86.5,-64.8 -88.5,-64 -90.5,-63.4 -92.5,-62.2 -94.2,-61 -94.7,-59.5 -93,-58.5 -92.3,-57.1 -90,-57 -88,-56.3 -85.5,-55.3 -82.4,-55.1 -82.2,-53.3 -81.4,-52.2 -80,-51.3 -79,-51.8 -78.8,-53.5 -79.2,-54.6 -77.3,-55.6 -76.6,-56.8 -77.3,-58 -78.3,-58.8 -77.5,-60.1 -78,-61.3 -77.8,-62.4 -75,-62.2 -72.5,-61.6 -71.2,-61 -69.7,-60.8 -69.3,-59.2 -68.2,-58.6 -66.5,-58.8 -65.2,-59.8 -64.5,-60.3 -63.5,-58.7 -62,-57.6 -61.3,-56.2 -59.3,-55.2 -57.8,-54.2 -56,-53.2 -55.8,-52 -57.2,-51.4 -59.2,-50.6 -61.5,-50.1 -64.5,-50.2 -66.5,-49.9 -68.5,-49 -70,-47.8 -71,-46.9 -69.5,-47.6 -68,-48.6 -65,-49.2 -64.3,-48.6 -65.3,-47.9 -64.8,-46.9 -64.3,-46.1 -62.8,-45.7 -61.2,-45.6 -60.2,-46 -61,-45.3 -63.5,-44.6 -65.6,-43.6 -66.1,-44.3 -64.5,-45.3 -66.2,-45.2 -67.2,-44.6 -68.8,-44.3 -70.2,-43.6 -70.8,-42.8 -70.6,-42 -70,-41.8 -70.6,-41.5 -72,-41.3 -73.8,-40.8 -74,-40.2 -74.5,-39.3 -75.5,-38.9 -75.1,-38.3 -75.9,-37.3 -76.3,-36.9 -75.8,-36 -75.5,-35.2 -76.5,-34.8 -77.6,-34.2 -78.9,-33.6 -80,-32.7 -81.2,-31.5 -81.4,-30.2 -80.5,-28.3 -80,-26.5 -80.3,-25.3 -81.1,-25.2 -81.7,-25.9 -82.2,-26.8 -82.7,-27.9 -82.6,-28.9 -83.4,-29.7 -84.3,-30 -85.3,-29.7 -86.3,-30.4 -88,-30.5 -89.4,-30.2 -89.2,-29.3 -90,-29.1 -91.4,-29.4 -92.8,-29.7 -94,-29.7 -95.1,-29.2 -96.5,-28.4 -97.3,-27.5 -97.4,-26 -97.7,-24.5 -97.8,-22.8 -97.4,-21.4 -96.5,-19.8 -95.9,-18.8 -94.6,-18.2 -93,-18.4 -91.6,-18.5 -90.7,-19.3 -90.4,-20.8 -89.5,-21.3 -87.8,-21.5 -86.8,-21.2 -87.4,-20.3 -87.6,-19.3 -87.8,-18.3 -88.3,-18.5 -88.3,-17.5 -88.2,-16.6 -88.9,-15.9 -88.1,-15.7 -87.2,-15.8 -86,-15.9 -84.5,-15.8 -83.4,-15.2 -83.3,-14.2 -83.6,-12.9 -83.7,-11.6 -83.7,-10.9 -83,-10 -82.2,-9.2 -81.4,-8.8 -80.4,-9.2 -79.5,-9.6 -78.4,-9.4 -77.4,-8.7 -77.9,-7.2 -78.4,-8 -78.9,-8.5 -79.7,-8.7 -80.4,-8 -80.4,-7.3 -81.3,-7.7 -81.8,-8.2 -82.9,-8 -83.6,-8.4 -84,-9.3 -84.8,-9.6 -85.7,-9.9 -85.7,-11 -86.5,-11.8 -87.4,-12.9 -87.8,-13.4 -88.6,-13.3 -89.6,-13.5 -90.6,-13.9 -91.7,-14.1 -92.3,-14.6 -93.4,-15.6 -94.7,-16.2 -96.5,-15.7 -98.2,-16.1 -99.7,-16.7 -101.4,-17.6 -102.7,-18 -104,-18.8 -105.3,-19.9 -105.4,-21 -105.7,-22.3 -106.6,-23.3 -107.9,-24.5 -109,-25.6 -109.4,-26.6 -110.6,-27.7 -111.2,-28.6 -112.2,-29.1 -112.9,-30.4 -113.8,-31.4 -114.8,-31.8 -114.6,-30.2 -113.6,-29.1 -112.8,-28 -111.8,-26.7 -111.2,-25.5 -110.7,-24.3 -109.9,-23.9 -109.4,-23.2 -110.2,-22.9 -111.4,-24.4 -112.2,-24.7 -112.2,-26 -113.5,-26.8 -114.5,-27.7 -114.1,-28.6 -115.5,-29.7 -116.3,-30.8 -116.8,-31.7 -117.1,-32.5 -117.4,-33.3 -118.5,-34 -119.6,-34.4 -120.6,-34.6 -120.8,-35.5 -121.9,-36.6 -122.4,-37.4 -123,-38.2 -123.8,-39.4 -124.3,-40.4 -124.2,-41.9 -124.5,-42.8 -124.1,-44.3 -123.9,-46 -124.1,-47.3 -124.7,-48.4 -123.2,-48.1 -122.6,-47.3 -122.4,-48.2 -122.8,-49 -123.9,-49.7 -125,-50.4 -126.7,-50.9 -127.5,-51.7 -128.1,-52.6 -129.2,-53.6 -130.4,-54.5 -130.9,-55.3 -131.8,-56.1 -133.2,-57.2 -134.2,-58.2 -135.5,-59 -136.5,-58.4 -138,-59 -139.5,-59.7 -141,-60 -143.5,-60 -146,-60.6 -148,-60.8 -149,-60 -150.6,-59.4 -151.7,-59.2 -151.8,-60.7 -150,-61.2 -152.3,-60.4 -153.8,-59 -154.2,-58.2 -156.3,-57.4 -157.6,-56.6 -159.5,-55.6 -161.4,-55.3 -163,-54.7 -164.7,-54.4 -163,-55.2 -161,-55.9 -159,-56.9 -157.5,-57.8 -157.2,-58.8 -158.5,-58.8 -160.3,-59 -161.9,-58.7 -162.1,-59.9 -163.8,-59.8 -165.3,-60.5 -165,-61.4 -166,-61.6 -165.2,-62.5 -164.4,-63.2 -162.5,-63.5 -161,-64 -161.3,-64.6 -163,-64.6 -165,-64.5 -166.5,-64.8 -166.6,-65.3 -168,-65.6ZM-77.4,-8.7 -76.7,-8.6 -76,-9.5 -75.5,-10.6 -74.6,-11 -73.5,-11.3 -72.4,-11.9 -71.6,-12.4 -71.1,-12 -71.9,-11.6 -71.6,-10.9 -71.9,-10.4 -71.6,-9.4 -71,-9.9 -71.3,-11.1 -70.2,-11.5 -69.8,-12.4 -69,-11.5 -68.1,-10.6 -66.2,-10.6 -65,-10.1 -63.5,-10.6 -62,-10.7 -62.7,-10.2 -61.6,-9.9 -60.8,-9.4 -60,-8.6 -59.1,-8 -58.4,-7.3 -57.6,-6.5 -57.1,-5.9 -55.9,-5.8 -54,-5.7 -52.9,-5.4 -51.8,-4.6 -51.3,-4.2 -50.5,-2 -49.9,-1.7 -50.2,-0.5 -49.2,0.1 -48.5,1 -47,0.8 -45.5,1.3 -44.4,2.2 -43.4,2.4 -41.5,2.9 -39.8,2.9 -38.5,3.7 -37.2,4.8 -35.6,5.1 -35,6.7 -34.8,7.5 -35.1,9 -36.2,10.3 -37.2,11.3 -38,12.6 -38.9,13.8 -39,15 -38.9,16.5 -39.3,17.9 -39.8,19.6 -40.8,20.9 -41.8,22.4 -43.1,22.9 -44.6,23.4 -45.4,23.8 -46.9,24.5 -48.1,25.5 -48.6,26.6 -48.5,28 -49.6,29.2 -50.7,30.9 -51.6,31.8 -52.5,33 -53.4,33.8 -54.6,34.9 -56.2,34.9 -57.2,35.2 -57.1,36.3 -56.7,36.9 -57.7,38.2 -59.2,38.7 -61.2,38.9 -62.3,38.8 -62.1,39.9 -62.3,40.7 -63.8,41.2 -65.1,41.1 -65,42.1 -64.3,42.4 -63.7,42.8 -64.8,43 -65.3,44.5 -65.6,45 -67.3,45.6 -67.6,46.3 -66.6,47 -65.6,47.2 -66.1,48.1 -67.8,49.9 -68.7,50.3 -69.1,51 -68.6,52.3 -69.5,52.2 -70.8,52.9 -70.8,53.6 -71.4,53.9 -72.6,53.5 -73.7,52.8 -74.9,52.3 -75.3,51.6 -75.5,50.4 -75.6,48.7 -74.7,48.2 -75.6,46.6 -74.7,45.8 -74.4,44.1 -73.2,44.5 -72.7,42.4 -73.4,42.1 -73.7,43.4 -74.3,43.2 -73.7,39.9 -73.2,39.3 -73.5,38.3 -73.6,37.2 -73.2,37.1 -72.6,35.5 -71.9,33.9 -71.4,32.4 -71.7,30.9 -71.4,28.9 -70.9,27.6 -70.7,25.7 -70.4,23.6 -70.1,21.4 -70.2,19.8 -70.4,18.3 -71.4,17.8 -71.5,17.4 -73.4,16.4 -75.2,15.3 -76,14.6 -76.4,13.8 -76.3,13.5 -77.1,12.2 -78.1,10.4 -79,8.4 -79.8,7.2 -80.5,6.5 -81.2,6.1 -80.9,5.7 -81.4,4.7 -81.1,4 -80.3,3.4 -79.8,2.7 -80.4,2.7 -81,2.2 -80.8,1 -80.1,0 -80,-0.8 -79.5,-1 -78.9,-1.4 -78.7,-1.8 -78.4,-2.6 -77.9,-2.7 -77.1,-3.8 -77.5,-4.1 -77.3,-4.7 -77.5,-5.6 -77.3,-6.7 -77.9,-7.2 -77.4,-8.7ZM-5.9,-35.8 -6.2,-35.1 -6.8,-34 -7.7,-33.6 -8.7,-33.2 -9.3,-32.6 -9.8,-31.2 -9.6,-30 -10.4,-29.1 -11.7,-28.1 -12.9,-27.9 -13.6,-27.3 -14.4,-26.3 -14.8,-25.1 -15.4,-24.4 -16,-23.7 -16.3,-22.7 -16.9,-21.9 -17,-21 -16.7,-20.1 -16.3,-19.6 -16.1,-18.5 -16.3,-17.2 -16.5,-16.1 -17.1,-14.9 -17.6,-14.7 -17.2,-14.4 -16.7,-13.6 -16.6,-12.2 -16.1,-11.5 -15.1,-10.9 -14.6,-10.2 -13.3,-9.5 -13.2,-8.5 -12.4,-7.3 -11.4,-6.8 -10.2,-5.9 -9,-4.8 -7.5,-4.4 -5.8,-5 -4.6,-5.2 -3.3,-5 -2,-4.7 -0.5,-5.3 1.1,-5.9 2.7,-6.3 4.3,-6.3 5,-5.6 5.6,-4.9 6.7,-4.2 7.5,-4.4 8.5,-4.5 9,-3.9 9.6,-3.5 9.8,-2.2 9.5,-1 9.3,0.4 9,0.6 9.6,2 11.1,3.9 11.9,5 12.3,6.1 12.7,6.9 13.2,8.6 13.2,9.8 13.7,10.7 13.7,12 13.1,12.9 12.6,13.6 12.1,14.9 11.7,16.7 11.8,18.1 12.6,19 13.4,20.9 14.3,22.1 14.4,23.9 14.8,25.4 15.2,27.1 16.3,28.6 17.1,29.9 17.6,30.7 18.2,31.7 18.2,32.4 18.4,33.1 18.4,34.1 18.9,34.4 19.6,34.8 20.7,34.4 22.6,33.9 24.7,34 25.8,33.7 26.4,33.6 27.5,33.2 28.2,32.8 29.4,31.6 30.1,31.1 30.9,29.9 31.3,29.4 32.2,28.8 32.6,27.5 32.5,26 33,25.4 34.8,24.8 35.5,24.1 35.6,23.1 35.4,21.8 35.2,21.3 34.8,20.4 35.2,19.6 36.3,18.7 37.4,17.6 38.5,17.1 39.7,16.7 40.5,15.4 40.6,14.2 40.5,12.6 40.5,10.8 39.9,10.1 39.4,9 39.2,7.7 39.4,6.4 38.8,6.5 38.7,5.9 39.2,4.7 39.6,4.3 40.3,2.6 40.6,2.5 41.6,1.7 42,0.9 43.1,-0.3 44.1,-1.1 45.6,-2 46.6,-2.9 47.7,-4.2 48.6,-5.3 49.5,-6.8 50.1,-8.1 50.6,-9.2 50.7,-10.3 51.1,-10.6 51,-11.2 51.1,-11.9 50.7,-12 49.5,-11.4 48.4,-11.4 47.5,-11.1 46.6,-10.8 45.6,-10.7 44.6,-10.4 43.5,-11.3 42.8,-11.7 43.3,-12.4 42.7,-13 42.3,-13.3 41.6,-13.5 40.9,-14.1 40,-15 39.3,-15.9 38.5,-18 37.9,-18.4 37.5,-19.6 37.1,-21.2 36.8,-22 36,-22.8 35.5,-23.8 35,-25 34.6,-25.8 34.1,-26.9 33.6,-27.8 33.1,-28.4 32.4,-29.9 32.3,-31.3 31.6,-31.4 31,-31.6 30,-31.5 29,-30.9 28,-31 26.5,-31.6 25.2,-31.6 24.1,-32 23.2,-32.2 22.9,-32.6 21.5,-32.8 20.1,-31.9 19.8,-30.9 19,-30.3 18,-30.8 16.6,-31.2 15.7,-31.4 15.2,-32.3 13.9,-32.7 12.7,-32.8 11.4,-33.1 10.9,-33.8 10.3,-33.8 10.1,-34.3 10.8,-35.7 10.6,-36.4 11,-37.1 10.2,-37.2 9.5,-37.3 8.4,-36.9 7.3,-37.1 6.3,-37.1 5.3,-36.7 4.8,-36.9 3.2,-36.8 1.5,-36.6 0.5,-36.3 -1.2,-35.7 -2.2,-35.2 -3.6,-35.4 -4.6,-35.3 -5.2,-35.8 -5.9,-35.8ZM49.2,12 49.8,12.9 50.1,13.6 50.5,15.2 50.2,16 49.8,16.9 49.5,17.1 49.4,18 49,19.1 48.5,20.5 47.9,22.4 47.5,24.1 47.1,24.9 45.4,25.6 44.8,25.3 44,24.9 43.8,24.5 43.7,23.6 43.3,22.8 43.3,22.1 43.4,21.3 43.9,21.2 43.9,20.8 44.4,20.1 44.5,19.4 44.2,18.9 44,18.3 44,17.4 44.3,16.9 44.4,16.2 44.9,16.2 45.5,16 45.9,15.8 46.3,15.8 46.9,15.2 47.7,14.6 48,14.1 48,13.7 48.7,13.1 48.9,12.5 49.2,12ZM-5.6,-36 -6.3,-36.8 -7.4,-37.2 -8.9,-37 -8.8,-38.3 -9.5,-38.7 -9,-39.7 -8.8,-40.8 -8.8,-41.9 -9,-42.6 -9.3,-43 -8,-43.7 -6.8,-43.6 -5.4,-43.6 -4.3,-43.4 -3,-43.3 -1.9,-43.4 -1.4,-44 -1.2,-45.5 -1.1,-46.2 -2.1,-47 -2.9,-47.6 -4.5,-47.9 -4.6,-48.7 -3.2,-48.9 -1.6,-48.6 -1.9,-49.7 -1,-49.3 0.2,-49.7 1.3,-50.1 1.6,-50.9 2.5,-51.1 3.3,-51.3 3.8,-51.6 4.3,-52 4.7,-53.1 5.5,-53.4 6.9,-53.5 7.9,-53.7 8.5,-53.6 8.8,-54 8.6,-54.9 8.1,-55.6 8.1,-56.5 8.5,-57.1 9.4,-57.2 10.6,-57.7 10.5,-57.2 10.2,-56.9 10.3,-56.2 10.9,-56.5 10.7,-56.1 9.6,-55.5 9.9,-55.1 9.9,-54.8 10.9,-54.4 11.9,-54.2 12.5,-54.5 13.6,-54.1 14.3,-53.9 15.7,-54.2 17,-54.7 18.6,-54.7 18.7,-54.4 19.7,-54.4 20.9,-54.9 21.3,-55.2 21.1,-56.8 21.6,-57.4 22.5,-57.8 23.3,-57 24.1,-57 24.4,-58.4 23.4,-58.6 23.3,-59.2 24.6,-59.5 26,-59.6 27.5,-59.6 28,-59.5 29.1,-60 28.1,-60.5 26.3,-60.4 24.5,-60.1 22.9,-59.8 22.3,-60.4 21.3,-60.7 21.5,-61.7 21.1,-62.6 21.5,-63.2 22.4,-63.8 24.7,-64.9 25.4,-65.1 25.3,-65.5 24.7,-65.9 23.9,-66 22.2,-65.7 21.2,-65 21.4,-64.4 19.8,-63.6 17.8,-62.7 17.1,-61.3 17.8,-60.6 18.8,-60.1 17.9,-59 16.8,-58.7 16.4,-57 15.9,-56.1 14.7,-56.2 14.1,-55.4 12.9,-55.4 12.6,-56.3 11.8,-57.4 11,-58.9 10.4,-59.5 8.4,-58.3 7,-58.1 5.7,-58.6 5.3,-59.7 5,-61 5.9,-62.6 8.6,-63.5 10.5,-64.5 12.4,-65.9 14.8,-67.8 16.4,-68.6 19.2,-69.8 21.4,-70.3 23,-70.2 24.5,-71 26.4,-71 28.2,-71.2 31.3,-70.5 30,-70.2 31.1,-69.6 32.1,-69.9 33.8,-69.3 36.5,-69.1 40.3,-67.9 41.1,-67.5 41.1,-66.8 40,-66.3 38.4,-66 33.9,-66.8 33.2,-66.6 34.8,-65.9 34.9,-64.4 37,-63.8 37.1,-64.3 36.5,-64.8 37.2,-65.1 39.6,-64.5 40.4,-64.8 39.8,-65.5 42.1,-66.5 43.9,-66.1 44.5,-66.8 43.7,-67.4 44.2,-68 43.5,-68.6 46.2,-68.2 46.8,-67.7 45.6,-67.6 45.6,-67 46.3,-66.7 47.9,-66.9 48.1,-67.5 50.2,-67.9 53.7,-68.9 54.5,-68.8 53.5,-68.2 54.7,-68.1 55.4,-68.4 57.3,-68.5 58.8,-68.9 59.9,-68.3 61.1,-68.9 60,-69.5 60.6,-69.9 63.5,-69.5 64.9,-69.2 68.5,-68.1 69.2,-68.6 68.2,-69.1 68.1,-69.4 66.9,-69.5 67.3,-70 66.7,-71 68.5,-71.9 69.2,-72.8 69.9,-73 72.6,-72.8 72.8,-72.2 71.8,-71.4 72.5,-71.1 72.8,-70.4 72.6,-69 73.7,-68.4 73.2,-67.7 72,-66.5 72.4,-66.2 74.2,-67.3 75.1,-67.8 74.5,-68.3 74.9,-69 73.8,-69.1 73.6,-69.6 74.4,-70.6 73.1,-71.4 74.9,-72.1 74.7,-72.8 75.2,-72.9 75.7,-72.3 75.3,-71.3 76.4,-71.2 75.9,-71.9 77.6,-72.3 79.7,-72.3 81.5,-71.8 80.6,-72.6 80.5,-73.6 82.3,-73.9 84.7,-73.8 86.8,-73.9 86,-74.5 87.2,-75.1 88.3,-75.1 90.3,-75.6 92.9,-75.8 93.2,-76 95.9,-76.1 96.7,-75.9 98.9,-76.4 100.8,-76.4 101,-76.9 102,-77.3 104.4,-77.7 106.1,-77.4 104.7,-77.1 107,-77 107.2,-76.5 108.2,-76.7 111.1,-76.7 113.3,-76.2 114.1,-75.8 113.9,-75.3 112.8,-75 110.2,-74.5 109.4,-74.2 110.6,-74 112.1,-73.8 113,-74 113.5,-73.3 114,-73.6 115.6,-73.8 118.8,-73.6 119,-73.1 123.2,-73 123.3,-73.7 125.4,-73.6 127,-73.6 128.6,-73 129.1,-72.4 128.5,-72 129.7,-71.2 131.3,-70.8 132.3,-71.8 133.9,-71.4 135.6,-71.7 137.5,-71.3 138.2,-71.6 139.9,-71.5 139.1,-72.4 140.5,-72.8 149.5,-72.2 150.4,-71.6 153,-70.8 157,-71 159,-70.9 159.8,-70.5 159.7,-69.7 160.9,-69.4 162.3,-69.6 164.1,-69.7 165.9,-69.5 167.8,-69.6 169.6,-68.7 170.8,-69 170,-69.7 170.5,-70.1 173.6,-69.8 175.7,-69.9 178.6,-69.4 180,-69 180,-65 178.7,-64.5 177.4,-64.6 178.3,-64.1 178.9,-63.3 179.4,-63 179.2,-62.3 177.4,-62.5 174.6,-61.8 173.7,-61.7 172.2,-61 170.7,-60.3 170.3,-59.9 168.9,-60.6 166.3,-59.8 165.8,-60.2 164.9,-59.7 163.5,-59.9 163.2,-59.2 162,-58.2 162.1,-57.8 163.2,-57.6 163.1,-56.2 162.1,-56.1 161.7,-55.3 162.1,-54.9 160.4,-54.3 160,-53.2 158.5,-53 158.2,-51.9 156.8,-51 156.4,-51.7 156,-53.2 155.4,-55.4 155.9,-56.8 156.8,-57.4 156.8,-57.8 158.4,-58.1 160.2,-59.3 161.9,-60.3 163.7,-61.1 164.5,-62.6 163.3,-62.5 162.7,-61.6 160.1,-60.5 159.3,-61.8 156.7,-61.4 154.2,-59.8 155,-59.1 152.8,-58.9 151.3,-58.8 151.3,-59.5 149.8,-59.7 148.5,-59.2 145.5,-59.3 142.2,-59 139,-57.1 135.1,-54.7 136.7,-54.6 137.2,-54 138.2,-53.8 138.8,-54.3 139.9,-54.2 141.3,-53.1 141.4,-52.2 140.6,-51.2 140.5,-50 140.1,-48.4 138.6,-47 138.2,-46.3 136.9,-45.1 135.5,-44 134.9,-43.4 133.5,-42.8 132.9,-42.8 132.3,-43.3 130.8,-42.2 130.6,-42.4 130.6,-42 130,-41.9 129.6,-41.6 129.7,-41 129.2,-40.7 128.6,-40.2 128,-40 127.5,-39.8 127.4,-39.3 127.8,-39.1 128.3,-38.6 129.2,-37.4 129.5,-36.8 129.5,-35.6 129.1,-35.1 128.2,-34.9 127.4,-34.5 126.5,-34.4 126.4,-34.9 126.6,-35.7 126.1,-36.7 126.9,-36.9 126.2,-37.7 125.7,-37.9 125.2,-37.7 125.3,-37.9 124.7,-38.1 125.2,-38.6 125.1,-38.8 125.4,-39.4 125.3,-39.6 124.7,-39.7 124.3,-39.9 122.9,-39.6 122.1,-39.2 121.1,-38.9 121.6,-39.4 121.4,-39.8 122.2,-40.4 121.6,-40.9 120.8,-40.6 119.6,-39.9 119,-39.3 118,-39.2 117.5,-38.7 118.1,-38.1 118.9,-37.9 118.9,-37.4 119.7,-37.2 120.8,-37.9 121.7,-37.5 122.4,-37.5 122.5,-36.9 121.1,-36.7 120.6,-36.1 119.7,-35.6 119.2,-35 120.2,-34.4 120.6,-33.4 121.2,-32.5 121.9,-31.7 121.9,-30.9 121.3,-30.7 121.5,-30.1 122.1,-29.8 121.9,-29 121.7,-28.2 121.1,-28.1 120.4,-27.1 119.6,-25.7 118.7,-24.5 117.3,-23.6 116,-22.9 114.8,-22.7 114.2,-22.2 113.8,-22.5 113.2,-22.1 111.8,-21.6 110.8,-21.4 110.4,-20.3 109.9,-20.3 109.6,-21 109.9,-21.4 108.5,-21.7 108.1,-21.6 107,-21.8 106.6,-21 105.9,-19.8 105.7,-19.1 106.4,-18 107.4,-16.7 108.3,-16.1 108.9,-15.3 109.3,-13.4 109.2,-11.7 108.4,-11 107.2,-10.4 106.4,-9.5 105.2,-8.6 104.8,-9.2 105.1,-9.9 104.3,-10.5 103.5,-10.6 103.1,-11.2 102.6,-12.2 102.3,-12 101,-12.6 100.8,-13.5 100.1,-13.4 100,-12.3 99.2,-11 99.2,-9.2 99.9,-9.2 100.3,-8.3 100.5,-7.4 101,-6.9 101.6,-6.7 102.1,-6.2 102.4,-6 103,-5.5 103.4,-4.9 103.3,-3.7 103.4,-3.4 103.5,-2.8 103.9,-2.5 104.2,-1.6 103.5,-1.2 102.6,-2 101.4,-2.8 101.3,-3.3 100.7,-3.9 100.6,-4.8 100.2,-5.3 100.3,-6 100.1,-6.5 99.7,-6.8 99.5,-7.3 99,-7.9 98.5,-8.4 98.3,-7.8 98.2,-8.4 98.3,-9 98.6,-9.9 98.5,-10.7 98.8,-11.4 98.4,-12 98.5,-13.1 98.1,-13.6 97.8,-14.8 97.6,-16.1 97.2,-16.9 96.5,-16.4 95.4,-15.7 94.8,-15.8 94.2,-16 94.5,-17.3 94.3,-18.2 93.5,-19.4 93.7,-19.7 93.1,-19.9 92.4,-20.7 92.1,-21.2 92,-21.7 91.8,-22.2 91.4,-22.8 90.5,-22.8 90.6,-22.4 90.3,-21.8 89.8,-22 89.7,-21.9 89.4,-22 89,-22.1 88.9,-21.7 88.2,-21.7 87,-21.5 87,-20.7 86.5,-20.2 85.1,-19.5 83.9,-18.3 83.2,-17.7 82.2,-17 82.2,-16.6 81.7,-16.3 80.8,-15.9 80.3,-15.9 80,-15.1 80.2,-13.8 80.3,-13 79.9,-12.1 79.9,-10.4 79.3,-10.3 78.9,-9.5 79.2,-9.2 78.3,-8.9 77.9,-8.3 77.5,-8 76.6,-8.9 76.1,-10.3 75.7,-11.3 75.4,-11.8 74.9,-12.7 74.6,-14 74.4,-14.6 73.5,-16 73.1,-17.9 72.8,-19.2 72.8,-20.4 72.6,-21.4 71.2,-20.8 70.5,-20.9 69.2,-22.1 69.6,-22.5 69.3,-22.8 68.2,-23.7 67.4,-23.9 67.1,-24.7 66.4,-25.4 64.5,-25.2 62.9,-25.2 61.5,-25.1 59.6,-25.4 58.5,-25.6 57.4,-25.7 57,-27 56.5,-27.1 55.7,-27 54.7,-26.5 53.5,-26.8 52.5,-27.6 51.5,-27.9 50.9,-28.8 50.1,-30.1 49.6,-30 48.9,-30.3 48.6,-29.9 48,-30 48.2,-29.5 48.1,-29.3 48.4,-28.6 48.8,-27.7 49.3,-27.5 49.5,-27.1 50.2,-26.7 50.1,-25.9 50.2,-25.6 50.5,-25.3 50.7,-25 50.8,-24.8 51.1,-24.6 51.4,-24.6 51.6,-24.2 51.8,-24 52.6,-24.2 54,-24.1 54.7,-24.8 55.4,-25.4 56.1,-26.1 56.4,-26.4 56.5,-26.3 56.4,-25.9 56.3,-25.7 56.4,-24.9 57.4,-23.9 58.1,-23.7 58.7,-23.6 59.5,-22.7 59.8,-22.5 59.8,-22.3 59.3,-21.4 58.9,-21.1 58.5,-20.4 58,-20.5 57.8,-20.2 57.7,-19.7 57.8,-19.1 57.7,-18.9 57.2,-18.9 56.6,-18.6 56.5,-18.1 56.3,-17.9 55.7,-17.9 55.3,-17.6 55.3,-17.2 54.8,-16.9 54.2,-17 53.6,-16.7 53.1,-16.7 52.4,-16.4 52.2,-15.9 52.2,-15.6 51.2,-15.2 49.6,-14.7 48.7,-14 48.2,-13.9 47.9,-14 47.4,-13.6 46.7,-13.4 45.9,-13.3 45.6,-13.3 45.4,-13 45.1,-12.9 45,-12.7 44.5,-12.7 44.2,-12.6 43.5,-12.6 43.2,-13.2 43.3,-13.8 43.1,-14.1 42.9,-14.8 42.6,-15.2 42.8,-15.3 42.7,-15.7 42.8,-15.9 42.8,-16.3 42.6,-16.8 42.3,-17.1 42.3,-17.5 41.8,-17.8 41.2,-18.7 40.9,-19.5 40.2,-20.2 39.8,-20.3 39.1,-21.3 39,-22.6 38.5,-23.7 38,-24.1 37.5,-24.3 37.2,-24.9 37.2,-25.1 36.9,-25.6 36.6,-25.8 36.2,-26.6 35.6,-27.4 35.1,-28.1 34.6,-28.1 34.8,-28.6 34.8,-29.1 34.6,-28.4 34.3,-28 33.9,-27.6 33.1,-28.4 32.4,-29.9 32.3,-31.3 33,-31 33.8,-31 34.3,-31.2 34.9,-32.8 35.1,-33.1 35.5,-33.9 35.9,-34.5 35.9,-35.4 36.1,-35.8 35.8,-36.3 36.2,-36.7 35.6,-36.6 34.7,-36.8 34,-36.2 32.5,-36.1 31.7,-36.6 30.6,-36.7 30.4,-36.3 29.7,-36.1 28.7,-36.7 27.6,-36.7 27,-37.7 26.3,-38.2 26.8,-39 26.2,-39.5 26.1,-40 26.5,-40.4 27.3,-40.4 28.8,-40.5 29.2,-41.2 31.1,-41.1 32.3,-41.7 33.5,-42 35.2,-42 36.9,-41.3 38.3,-40.9 39.5,-41.1 40.4,-41 41.6,-41.5 41.7,-42 41.5,-42.6 40.9,-43 40.3,-43.1 40,-43.4 38.7,-44.3 37.5,-44.7 36.7,-45.2 37.4,-45.4 38.2,-46.2 37.7,-46.6 39.1,-47 39.1,-47.3 38.2,-47.1 37.4,-47 36.8,-46.7 35.8,-46.6 35,-46.3 35,-45.7 35.5,-45.5 36.5,-45.5 36.3,-45.1 35.2,-44.9 33.9,-44.4 33.3,-44.6 33.5,-45 32.5,-45.3 32.6,-45.5 33.6,-45.9 33.3,-46.1 31.7,-46.3 31.7,-46.7 30.7,-46.6 30.4,-46 29.6,-45.3 29.6,-45 29.1,-44.8 28.8,-44.9 28.6,-44.3 28,-43.3 27.7,-42.6 28,-42 28.1,-41.6 29,-41.3 28.8,-41.1 27.6,-41 27.2,-40.7 26.4,-40.2 26,-40.6 26.1,-40.8 25.4,-40.9 24.9,-40.9 23.7,-40.7 24.4,-40.1 23.9,-40 23.3,-40 22.8,-40.5 22.6,-40.3 22.8,-39.7 23.4,-39.2 23,-39 23.5,-38.5 24,-38.2 24,-37.7 23.1,-37.9 23.4,-37.4 22.8,-37.3 23.2,-36.4 22.5,-36.4 21.7,-36.8 21.3,-37.6 21.1,-38.3 20.2,-39.3 20.2,-39.6 20,-39.7 20,-40 19.4,-40.3 19.3,-40.7 19.4,-41.4 19.5,-41.7 19.4,-41.9 18.9,-42.3 18.5,-42.5 17.5,-42.8 16.9,-43.2 16,-43.5 15.2,-44.2 15.4,-44.4 14.9,-44.7 14.9,-45.1 14.3,-45.2 13.9,-44.8 13.7,-45.1 13.7,-45.5 13.9,-45.6 13.1,-45.7 12.3,-45.4 12.4,-44.9 12.3,-44.6 12.6,-44.1 13.5,-43.6 14,-42.8 15.1,-42 15.9,-42 16.2,-41.7 15.9,-41.5 17.5,-40.9 18.4,-40.4 18.5,-40.2 18.3,-39.8 17.7,-40.3 16.9,-40.4 16.4,-39.8 17.2,-39.4 17.1,-39 16.6,-38.8 16.1,-38 15.7,-37.9 15.7,-38.2 15.9,-38.8 16.1,-39 15.7,-39.5 15.4,-40 15,-40.2 14.7,-40.6 14.1,-40.8 13.6,-41.2 12.9,-41.3 12.1,-41.7 11.2,-42.4 10.5,-42.9 10.2,-43.9 9.7,-44 8.9,-44.4 8.4,-44.2 7.9,-43.8 7.4,-43.7 6.5,-43.1 4.6,-43.4 3.1,-43.1 3,-42.5 3,-41.9 2.1,-41.2 0.8,-41 0.7,-40.7 0.1,-40.1 -0.3,-39.3 0.1,-38.7 -0.5,-38.3 -0.7,-37.6 -1.4,-37.4 -2.1,-36.7 -4.4,-36.7 -5,-36.3 -5.4,-35.9 -5.6,-36ZM-180,-69 -177.6,-68.2 -174.9,-67.2 -175,-66.6 -174.3,-66.3 -174.6,-67.1 -171.9,-66.9 -169.9,-66 -170.9,-65.5 -172.5,-65.4 -173,-64.2 -174.7,-64.6 -176,-64.9 -176.2,-65.4 -177.2,-65.5 -178.4,-65.4 -178.9,-65.7 -178.7,-66.1 -179.9,-65.9 -180,-65ZM-46.8,-82.6 -43.4,-83.2 -39.9,-83.2 -38.6,-83.5 -35.1,-83.6 -27.1,-83.5 -20.8,-82.7 -22.7,-82.3 -26.5,-82.3 -31.9,-82.2 -31.4,-82 -27.9,-82.1 -24.8,-81.8 -22.9,-82.1 -22.1,-81.7 -23.2,-81.2 -20.6,-81.5 -15.8,-81.9 -12.8,-81.7 -12.2,-81.3 -16.3,-80.6 -16.9,-80.3 -20,-80.2 -17.7,-80.1 -18.9,-79.4 -19.7,-78.8 -19.7,-77.6 -18.5,-77 -20,-76.9 -21.7,-76.6 -19.8,-76.1 -19.6,-75.2 -20.7,-75.2 -19.4,-74.3 -21.6,-74.2 -20.4,-73.8 -20.8,-73.5 -22.2,-73.3 -23.6,-73.3 -22.3,-72.6 -22.3,-72.2 -24.3,-72.6 -24.8,-72.3 -23.4,-72.1 -22.1,-71.5 -21.8,-70.7 -23.5,-70.5 -24.3,-70.9 -25.5,-71.4 -25.2,-70.8 -26.4,-70.2 -23.7,-70.2 -22.3,-70.1 -25,-69.3 -27.7,-68.5 -30.7,-68.1 -31.8,-68.1 -32.8,-67.7 -34.2,-66.7 -36.4,-66 -37,-65.9 -38.4,-65.7 -39.8,-65.5 -40.7,-64.8 -40.7,-64.1 -41.2,-63.5 -42.8,-62.7 -42.4,-61.9 -43.4,-60.1 -44.8,-60 -46.3,-60.9 -48.3,-60.9 -49.2,-61.4 -49.9,-62.4 -51.6,-63.6 -52.1,-64.3 -52.3,-65.2 -53.7,-66.1 -53.3,-66.8 -54,-67.2 -53,-68.4 -51.5,-68.7 -51.1,-69.1 -50.9,-69.9 -52.6,-69.4 -53.5,-69.3 -54.7,-69.6 -54.8,-70.3 -54.4,-70.8 -53.4,-70.8 -51.4,-70.6 -53.1,-71.2 -54,-71.5 -55,-71.4 -55.8,-71.7 -54.7,-72.6 -55.3,-73 -56.1,-73.6 -57.3,-74.7 -58.6,-75.1 -58.6,-75.5 -61.3,-76.1 -63.4,-76.2 -66.1,-76.1 -68.5,-76.1 -69.7,-76.4 -71.4,-77 -68.8,-77.3 -66.8,-77.4 -71,-77.6 -73.3,-78 -73.2,-78.4 -69.4,-78.9 -65.7,-79.4 -65.3,-79.8 -68,-80.1 -67.2,-80.5 -63.7,-81.2 -62.2,-81.3 -62.7,-81.8 -60.3,-82 -57.2,-82.2 -54.1,-82.2 -53,-81.9 -50.4,-82.4 -48,-82.1 -46.6,-82 -44.5,-81.7 -46.9,-82.2 -46.8,-82.6ZM-80.3,-73.7 -77,-72.9 -74.2,-71.8 -72.2,-71.6 -70.6,-71.1 -68.8,-70.5 -67.9,-70.1 -67,-69.2 -68.8,-68.7 -66.4,-68.1 -64.9,-67.8 -63.4,-66.9 -61.9,-66.9 -62.2,-66.2 -63.9,-65 -65.1,-65.4 -66.7,-66.4 -68,-66.3 -67.1,-65.1 -65.7,-64.6 -65.3,-64.4 -64.7,-63.4 -65,-62.7 -66.3,-62.9 -68.8,-63.7 -66.3,-61.9 -71,-62.9 -72.2,-63.4 -74.8,-64.7 -77.7,-64.2 -78.6,-64.6 -77.9,-65.3 -73.9,-65.5 -74.3,-66.5 -72.7,-67.3 -73.3,-68.1 -74.8,-68.6 -76.9,-69 -75.6,-69.5 -77.3,-69.8 -78.2,-70 -79.5,-69.9 -81.3,-69.7 -84.9,-70 -88.7,-70.4 -89.5,-70.8 -88.5,-71.2 -89.9,-71.2 -90.2,-72.2 -89.4,-73.1 -85.8,-73.8 -86.6,-73 -85.3,-73.1 -82.3,-73.8 -80.6,-72.7 -80.3,-73.7ZM-85.2,-79.3 -86.5,-79.7 -86.9,-80.3 -84.2,-80.2 -81.8,-80.5 -83.4,-80.1 -87.7,-80.4 -90,-81 -91.4,-81.6 -90.1,-82.1 -85,-82.4 -81.7,-82.8 -77.3,-82.9 -70.7,-83.1 -65,-82.8 -61.9,-82.6 -61.9,-82.4 -64.3,-81.9 -66.8,-81.7 -67.7,-81.5 -65.5,-81.5 -67.8,-80.9 -69.5,-80.6 -71.2,-79.8 -73.9,-79.4 -76.9,-79.3 -75.5,-79.2 -76.2,-79 -75.4,-78.5 -76.3,-78.2 -77.9,-77.9 -78.4,-77.5 -79.8,-77.2 -79.6,-77 -77.9,-77 -80.6,-76.2 -83.2,-76.5 -86.1,-76.3 -87.6,-76.4 -89.5,-76.5 -89.6,-77 -87.8,-77.2 -88.3,-77.9 -87.7,-78 -85,-77.5 -86.3,-78.2 -88,-78.4 -87.2,-78.8 -85.4,-79 -85.2,-79.3ZM-80.1,-74.6 -85.6,-74.4 -88.2,-74.4 -92.4,-74.8 -92.8,-75.4 -92.9,-75.9 -93.9,-76.3 -91.6,-76.8 -89.2,-76.3 -87.2,-76.4 -83.2,-76.5 -80.4,-76 -79.3,-75.5 -80.1,-74.6ZM-93.2,-81 -94.8,-81.2 -96.4,-80.3 -96,-79.7 -93.3,-79.4 -94.2,-79 -92.5,-78.6 -89,-78.3 -87.8,-78.9 -90,-79.3 -88.8,-80.2 -91,-80.8 -93.2,-81ZM-100.4,-70.7 -102.5,-70.5 -101.1,-69.6 -104.9,-69 -107.1,-69 -108.9,-68.8 -113.3,-68.5 -117.3,-70 -112.4,-70.4 -116.5,-70.9 -117.9,-71 -119,-71.5 -117.9,-72.7 -115.2,-73.3 -114.2,-72.7 -112.4,-73 -108.2,-71.7 -107.9,-72.7 -105.4,-72.7 -104.8,-71.7 -102.8,-71 -100.4,-70.7ZM-125.9,-71.9 -124.8,-73 -123.9,-73.7 -124.9,-74.3 -121.5,-74.5 -117.6,-74.2 -115.5,-73.5 -119.2,-72.5 -120.5,-71.4 -123.1,-71 -125.9,-71.9ZM-116.2,-77.6 -116.3,-76.2 -117.1,-75.5 -113.7,-75.8 -110.8,-75.5 -106,-75.5 -105.9,-76.6 -108,-76.6 -110.1,-77.2 -116.2,-77.6ZM-98.5,-76.7 -102.5,-76.3 -101.5,-75.6 -99,-75 -96.8,-75.5 -98.5,-76.7ZM-96.8,-72 -98.2,-71 -102.5,-72.5 -101.9,-73.1 -97.8,-73.3 -96.8,-72ZM-94.2,-72 -95.4,-72.1 -96,-73.4 -92.5,-74.1 -90.5,-73.9 -92.4,-72.7 -94.2,-72ZM-84,-65.2 -81.6,-64.5 -80.8,-64 -81.9,-63.2 -85.2,-63.1 -86.4,-64 -85.6,-65.9 -84,-65.2ZM-55.9,-51.6 -55.4,-51.6 -56.8,-49.8 -56.1,-50.2 -55.5,-49.9 -55.8,-49.6 -54.5,-49.6 -53.5,-49.2 -53.8,-48.5 -53.1,-48.7 -52.7,-47.5 -53.1,-46.7 -54.2,-46.8 -53.9,-47.6 -54.2,-47.8 -55.4,-46.9 -56,-47.6 -59.3,-47.6 -59.4,-48 -58.4,-49.1 -57.4,-50.7 -55.9,-51.6ZM-123.5,-48.5 -124,-48.4 -125.7,-48.8 -126,-49.2 -126.9,-49.5 -127.9,-50.1 -128.4,-50.8 -127.2,-50.6 -125.8,-50.3 -124.9,-49.5 -123.9,-49.1 -123.5,-48.5ZM-14.5,-66.5 -15.4,-66 -14.5,-65.1 -13.6,-65.1 -14.9,-64.4 -18.7,-63.5 -22.8,-64 -21.8,-64.4 -23.9,-64.9 -22.2,-65.1 -22.2,-65.4 -24.3,-65.6 -23.6,-66.3 -22.1,-66.4 -20.6,-65.7 -19.1,-66.3 -17.8,-66 -16.2,-66.5 -14.5,-66.5ZM-5.7,-50.1 -3.6,-50.3 -1,-50.8 1.4,-51.3 1.7,-52.7 0.5,-52.9 0.2,-53.3 -0.4,-54.5 -1.2,-54.6 -2,-55.9 -3.1,-56 -2.2,-56.9 -1.8,-57.6 -3.3,-57.7 -4.1,-57.6 -3.1,-58.6 -5,-58.6 -5.6,-57.9 -5.8,-57.3 -5.6,-56.3 -6.1,-56.1 -5.3,-55.1 -4.7,-54.8 -3.4,-54.8 -3.5,-54.1 -2.9,-53.8 -3.1,-53.3 -4.6,-53.4 -4.1,-52.9 -4.6,-52.3 -5.2,-51.9 -3.4,-51.4 -4.8,-51.2 -5.7,-50.1ZM-6.2,-53.9 -6,-53 -6.8,-52.3 -8.5,-51.7 -10,-51.8 -9.5,-52.6 -10,-53.4 -9.7,-54.1 -8.3,-54.7 -7.6,-55.1 -6.7,-55.2 -5.7,-54.6 -6.2,-53.9ZM15.1,-79.7 15.5,-80 17,-80.1 18.3,-79.9 21.5,-79 19,-78.6 18.5,-77.8 17.6,-77.6 17.1,-76.8 15.9,-76.8 13.8,-77.4 14.7,-77.7 13.2,-78 11.2,-78.9 10.4,-79.7 13.2,-80 13.7,-79.7 15.1,-79.7ZM27.4,-80.1 25.4,-80.4 22.9,-80.7 20.1,-80.4 17.4,-80.3 18.6,-79.9 22,-79.6 25,-79.8 27.4,-80.1ZM53.5,-73.7 55.9,-74.6 55.6,-75.1 58.5,-75.7 61.2,-76.3 64.5,-76.4 66.2,-76.8 68.2,-76.9 68.9,-76.5 68.2,-76.2 64.6,-75.7 61.6,-75.3 58.5,-74.3 57,-73.3 55.4,-72.4 55.6,-71.5 57.5,-70.7 56.9,-70.6 53.7,-70.8 53.4,-71.2 51.6,-71.5 51.5,-72 52.5,-72.2 52.4,-73 53.5,-73.7ZM102.8,-79.3 105.4,-78.7 105.1,-78.3 99.4,-77.9 101.3,-79.2 102.1,-79.3 102.8,-79.3ZM93.8,-81 95.9,-81.2 97.9,-80.7 100.2,-79.8 99.9,-78.9 97.8,-78.8 95,-79 93.3,-79.4 92.5,-80.1 91.2,-80.3 93.8,-81ZM138.8,-76.1 141.5,-76.1 145.1,-75.6 144.3,-74.8 140.6,-74.8 139,-74.6 137,-75.3 137.5,-75.9 138.8,-76.1ZM-178.7,-70.9 -180,-71.5 -180,-70.8 -178.7,-70.9ZM178.7,-71.1 180,-71.5 180,-70.8 178.7,-71.1ZM143.6,-50.7 144.7,-49 143.2,-49.3 142.6,-47.9 143.5,-46.8 143.5,-46.1 142.7,-46.7 142.1,-46 141.9,-46.8 142,-48 141.4,-52.2 141.9,-53.4 142.6,-53.8 142.2,-54.2 142.7,-54.4 142.9,-53.7 143.3,-52.7 143.2,-51.8 143.6,-50.7ZM141.4,-41.4 140,-41.4 139.8,-42.6 141.6,-45.2 143,-44.7 143.9,-44.2 144.6,-44 145.3,-44.4 145.5,-43.3 144.1,-43 143.2,-42 141.6,-42.7 141.1,-41.6 141.4,-41.4ZM141.9,-39.2 142,-40 141.4,-41.4 140,-40.6 139.9,-40 140.3,-38.9 139.9,-37.9 138.9,-37.8 137.8,-37 137.2,-36.8 136.7,-37.3 136.4,-36.4 135.4,-35.6 134.2,-35.6 132.6,-35.4 131.6,-34.7 130.9,-34.3 131.1,-33.9 132,-33.9 133,-34.3 133.5,-34.4 134.6,-34.7 135.1,-34.6 135.1,-33.9 135.8,-33.5 136.8,-34.3 137.2,-34.6 138.2,-34.7 138.9,-35 139.4,-35 139.9,-35.3 140.3,-35.1 140.6,-35.8 140.7,-36.9 141,-38.2 141.9,-39.2ZM130.9,-33.9 131.9,-33.2 131.9,-32.3 131.3,-31.4 130.6,-31 130.2,-31.4 130.4,-32.3 129.8,-32.6 129.4,-33.3 130.4,-33.6 130.9,-33.9ZM132.4,-33.5 132.9,-32.8 133.9,-33.5 134.6,-33.8 134.7,-34.2 133.3,-34.1 132.4,-33.5ZM121.8,-24.4 121.2,-22.8 120.7,-22 120.2,-22.8 120.1,-23.6 120.7,-24.5 121.5,-25.3 122,-25 121.8,-24.4ZM110.3,-18.7 109.5,-18.2 108.7,-18.5 108.6,-19.4 109.1,-19.8 110.2,-20.1 110.8,-20.1 111,-19.7 110.6,-19.3 110.3,-18.7ZM120.8,-18.5 121.3,-18.5 122.2,-18.5 122.5,-17.1 122,-16.3 121.7,-15.9 121.5,-15.1 121.7,-14.3 122.7,-14.3 124,-13.8 123.9,-13.2 124.2,-12.6 123.3,-13 122.9,-13.6 122.5,-13.9 121.7,-13.9 121.1,-13.6 120.6,-13.9 120.7,-14.3 121,-14.5 120.7,-14.8 120.6,-14.4 120.1,-15 119.9,-15.4 119.9,-16.4 120.3,-16 120.4,-17.6 120.7,-18.5 120.8,-18.5ZM126.4,-8.4 126.5,-7.8 126.2,-6.3 125.8,-7.3 125.4,-6.8 125.7,-6 125.4,-5.6 124.2,-6.2 123.9,-6.9 124.2,-7.4 123.6,-7.8 123.3,-7.4 122.8,-7.5 122.1,-6.9 121.9,-7.2 122.3,-8 122.9,-8.3 123.5,-8.7 123.8,-8.2 124.6,-8.5 124.8,-9 125.5,-9 125.4,-9.8 126.2,-9.3 126.4,-8.4ZM122,-11.4 122.9,-10.9 123.5,-10.9 124,-10.3 125,-11.3 125,-12.5 124.3,-12.6 123.1,-11.2 122.5,-11.6 122,-11.4ZM117.9,-1.8 119,-0.9 117.8,-0.8 117.5,-0.1 117.5,0.8 116.6,1.5 116.5,2.5 116.1,4 116,3.7 114.9,4.1 114.5,3.5 113.8,3.4 113.3,3.1 112.1,3.5 111.7,3 111,3 110.2,2.9 110.1,1.6 109.6,1.3 109.1,0.5 109,-0.4 109.1,-1.3 109.7,-2 109.8,-1.3 110.5,-1.7 111.2,-1.9 111.4,-2.7 111.8,-2.9 113,-3.1 113.7,-3.9 114.9,-4.3 115.5,-5.4 116.2,-6.1 116.7,-6.9 117.1,-6.9 117.6,-6.4 117.7,-6 118.3,-5.7 119.2,-5.4 119.1,-5 118.4,-5 118.6,-4.5 117.9,-4.1 117.3,-3.2 118,-2.3 117.9,-1.8ZM95.3,-5.5 97.5,-5.2 98.4,-4.3 99.7,-3.2 100.6,-2.1 101.7,-2.1 102.5,-1.4 103.1,-0.6 103.8,-0.1 103.4,0.7 104,1.1 104.4,1.1 104.5,1.8 104.9,2.3 105.6,2.4 106.1,3.1 105.9,4.3 105.8,5.9 104.7,5.9 103.9,5 102.6,4.2 102.2,3.6 101.4,2.8 100.9,2.1 100.1,0.7 99.3,-0.2 99,-1 98.6,-1.8 97.7,-2.5 97.2,-3.3 96.4,-3.9 95.4,-5 95.3,-5.5ZM106.1,6 107.3,6 108.3,6.3 108.5,6.4 108.6,6.8 110.5,6.9 110.8,6.5 112.6,6.9 113,7.6 114.5,7.8 115.7,8.4 114.6,8.8 113.5,8.3 112.6,8.4 111.5,8.3 110.6,8.1 109.4,7.7 108.7,7.6 108.3,7.8 106.5,7.4 106.3,6.9 105.4,6.8 106.1,6ZM116,8.5 117.5,8.4 118.9,8.3 119.9,8.6 121.3,8.5 122.9,8.1 122.8,8.6 121.3,8.9 119.9,8.9 118.3,8.9 116.7,9 116,8.5ZM125.1,8.6 126.6,8.4 127.3,8.4 126.6,8.9 125,9.4 123.6,10.4 123.5,10.2 124,9.3 125.1,8.6ZM125.2,-1.4 124.4,-0.4 123.7,-0.2 122.7,-0.4 120.2,-0.2 120,0.5 120.9,1.4 121.5,1 123.3,0.6 123.3,1.1 122.5,1 121.5,1.9 122.5,3.2 122.3,3.5 123.2,4.7 122.6,5.3 122.2,5.3 122.7,4.5 121.7,4.9 121.5,4.6 121.6,4.2 120.9,3.6 121,2.6 120.3,2.9 120.4,5.5 119.8,5.7 119.4,5.4 119.7,4.5 119.5,3.5 119.1,3.5 118.8,2.8 119.2,2.1 119.3,1.4 119.8,-0.2 120,-0.6 120.9,-1.3 121.5,-1.1 122.9,-0.9 124.1,-0.9 125.1,-1.6 125.2,-1.4ZM127.9,-2.2 128,-1.6 128.6,-1.5 128.7,-1.1 128.1,-0.4 128.4,0.8 127.7,0.3 127.4,-1 127.6,-1.8 127.9,-2.2ZM128.7,3.4 130.5,3.1 130.8,3.9 130,3.4 128.1,3.4 128.7,3.4ZM134.1,1.2 134.4,2.8 135.5,3.4 136.3,2.3 137.4,1.7 138.3,1.7 139.2,2.1 139.9,2.4 141,2.6 142.7,3.3 144.6,3.9 145.3,4.4 145.8,4.9 146,5.5 147.6,6.1 147.9,6.6 147,6.7 147.2,7.4 148.1,8 148.7,9.1 149.3,9.1 149.3,9.5 150,9.7 149.7,9.9 150.8,10.3 150,10.7 149.8,10.4 148.9,10.3 147.9,10.1 147.1,9.5 146.6,8.9 146,8.1 144.7,7.6 143.9,7.9 143.3,8.2 143.4,9 142.6,9.3 142.1,9.2 141,9.1 140.1,8.3 139.1,8.1 138.9,8.4 137.6,8.4 138,7.6 138.7,7.3 138.4,6.2 137.9,5.4 136,4.5 135.2,4.5 133.7,3.5 133.4,4 133,4.1 132.8,3.7 132.8,3.3 132,2.8 133.1,2.5 133.8,2.5 133.7,2.2 132.2,2.2 131.8,1.6 130.9,1.4 130.5,0.9 131.9,0.7 132.4,0.4 134,0.8 134.1,1.2ZM152,5.5 150.8,6.1 150.2,6.3 149,6 148.3,5.6 149.3,5.6 150.1,5 150.9,5.5 151.6,4.8 152.3,4.3 152,5.5ZM81.8,-7.5 81.6,-6.5 81.2,-6.2 80.3,-6 79.9,-6.8 79.7,-8.2 80.1,-9.8 80.8,-9.3 81.3,-8.6 81.8,-7.5ZM142.5,10.7 142.8,11.2 143.1,11.9 143.2,12.3 143.5,12.8 143.6,13.4 143.6,14 144.6,14.2 145.4,15 145.3,15.4 145.5,16.3 145.6,16.8 146.2,17.8 146.1,18.3 146.4,19 148.2,20.1 148.8,20.4 149.7,22.3 150.1,22.1 150.6,22.6 150.7,23.5 151.6,24.1 152.1,24.5 152.9,25.3 153.1,26.1 153.2,26.6 153.1,27.3 153.6,28.1 153.5,29 153.1,30.4 153.1,30.9 152.9,31.6 152.5,32.6 151.7,33 151.3,33.8 151,34.3 150.7,35.2 150.3,35.7 150.1,36.4 149.9,37.1 150,37.4 149.4,37.8 148.3,37.8 147.4,38.2 146.9,38.6 146.3,39 145.5,38.6 144.9,38.4 145,37.9 144.5,38.1 143.6,38.8 142.7,38.5 142.2,38.4 141.6,38.3 140.6,38 140,37.4 139.8,36.6 139.6,36.1 138.9,35.5 138.2,35.6 138.4,35.1 138.6,34.4 138.1,34 137.7,35.1 136.8,35.3 137.4,34.7 137.5,34.1 137.9,33.6 137.8,32.9 137,33.8 136.4,34.1 136,34.9 135.2,34.5 135.2,33.9 134.6,33.2 134.1,32.8 134.3,32.6 133,32 132.3,32 131.3,31.5 129.5,31.6 128.2,32 127.1,32.3 126.1,32.2 125.1,32.7 124.2,33.5 124,34 123.7,33.9 122.8,33.9 122.2,34 121.3,33.8 120.6,33.9 119.9,34 119.3,34.5 119,34.5 118.5,34.7 118,35.1 117.3,35 116.6,35 115.6,34.4 115,34.2 115,33.6 115.5,33.5 115.7,33.3 115.7,32.9 115.7,32.3 115.8,31.6 115.4,30.6 115,30 115,29.5 114.6,28.8 114.6,28.5 114.2,28.1 114,27.3 113.5,26.5 113.3,26.1 113.8,26.5 113.4,25.6 113.9,25.9 113.7,25.3 113.5,24.4 113.8,23.1 113.7,22.5 114.1,21.8 114.2,22.5 114.6,21.8 115.5,21.5 116.7,20.7 117.4,20.7 118.2,20.4 118.8,20.3 119.3,20 120.9,19.7 121.4,19.2 121.7,18.7 122.2,18.2 122.3,17.3 123,16.4 123.4,17.3 123.9,17.1 123.5,16.6 123.8,16.1 124.3,16.3 124.4,15.6 125.2,15.3 125.2,14.7 125.7,14.5 126.1,14.3 126.1,14.1 127.1,13.8 127.8,14.3 128.4,14.9 129,14.9 129.6,15 129.4,14.4 129.9,13.6 130.3,13.4 130.2,13.1 130.6,12.5 131.2,12.2 131.7,12.3 132.6,12.1 132.6,11.6 131.8,11.3 132.4,11.1 133,11.4 133.6,11.8 134.4,12 134.7,11.9 135.3,12.2 135.9,12 136.3,12 136.5,11.9 136.9,12.3 136.7,12.9 136.3,13.3 136,13.3 136.1,13.7 135.8,14.2 135.4,14.7 135.5,15 136.3,15.6 137.1,15.9 137.6,16.2 138.3,16.8 138.6,16.8 139.1,17.1 139.3,17.4 140.2,17.7 140.9,17.4 141.1,16.8 141.3,16.4 141.4,15.8 141.7,15 141.6,14.6 141.5,13.7 141.7,12.9 141.8,12.7 141.7,12.4 141.9,11.9 142.1,11.3 142.1,11 142.5,10.7ZM147.7,40.8 148.3,40.9 148.4,42.1 148,42.4 147.9,43.2 147.6,42.9 146.9,43.6 146.7,43.6 146,43.5 145.4,42.7 145.3,42 144.7,41.2 144.7,40.7 145.4,40.8 146.4,41.1 146.9,41 147.7,40.8ZM173,34.5 174.3,35.3 174.6,36.2 175.3,37.2 175.4,36.5 175.8,36.8 176.8,37.9 177.4,38 178,37.6 178.5,37.7 178.3,38.6 178,39.2 177.2,39.1 176.9,39.4 177,39.9 176,41.3 175.2,41.7 175.1,41.4 174.7,41.3 175.2,40.5 174.9,39.9 173.8,39.5 173.9,39.1 174.6,38.8 174.7,38 174.7,37.4 174.3,36.7 174.3,36.5 173.8,36.1 173.1,35.2 172.6,34.5 173,34.5ZM173,40.9 173.2,41.3 174.2,41.3 174.2,41.8 173.9,42.2 173.2,43 172.7,43.4 173.1,43.9 172.3,43.9 171.5,44.2 171.2,44.9 170.6,45.9 169.8,46.4 169.3,46.6 168.4,46.6 167.8,46.3 166.7,46.2 166.5,45.9 167,45.1 168.3,44.1 168.9,43.9 169.7,43.6 170.5,43 171.1,42.5 171.6,41.8 171.9,41.5 172.1,41 172.8,40.5 173,40.9ZM-82.3,-23.2 -80.6,-23.1 -79.7,-22.8 -79.3,-22.4 -78.3,-22.5 -77.1,-21.7 -76.5,-21.2 -75.6,-21 -75.7,-20.7 -74.9,-20.7 -74.2,-20.3 -74.3,-20.1 -75,-19.9 -75.6,-19.9 -77.8,-19.9 -77.1,-20.4 -77.5,-20.7 -78.1,-20.7 -78.5,-21 -78.7,-21.6 -79.3,-21.6 -80.2,-21.8 -80.5,-22 -81.8,-22.2 -82.2,-22.4 -81.8,-22.6 -82.8,-22.7 -83.5,-22.2 -83.9,-22.2 -84.1,-21.9 -84.5,-21.8 -85,-21.9 -84.4,-22.2 -84.2,-22.6 -83.8,-22.8 -82.3,-23.2ZM-71.7,-19.7 -71.6,-19.9 -70.8,-19.9 -70.2,-19.6 -69.9,-19.6 -69.8,-19.3 -69.2,-19.3 -69.3,-19 -68.8,-19 -68.3,-18.6 -68.7,-18.2 -69.2,-18.4 -70,-18.4 -70.1,-18.2 -70.5,-18.2 -70.7,-18.4 -71,-18.3 -71.4,-17.6 -71.7,-17.8 -71.7,-18 -72.4,-18.2 -72.8,-18.1 -73.5,-18.2 -74.5,-18.3 -74.4,-18.7 -73.4,-18.5 -72.7,-18.4 -72.3,-18.7 -72.8,-19.1 -72.8,-19.5 -73.4,-19.6 -73.2,-19.9 -72.6,-19.9 -71.7,-19.7ZM-77.6,-18.5 -76.9,-18.4 -76.4,-18.2 -76.2,-17.9 -76.9,-17.9 -77.2,-17.7 -77.8,-17.9 -78.3,-18.2 -78.2,-18.5 -77.6,-18.5ZM-66.3,-18.5 -65.6,-18.2 -65.8,-18 -66.6,-18 -67.2,-17.9 -67.1,-18.5 -66.3,-18.5ZM-61.2,51.9 -60,51.3 -59.2,51.5 -57.8,51.6 -58.1,51.9 -58.6,52.1 -59.6,52.2 -60.7,52.3 -61.2,51.9ZM-68.6,52.3 -68.3,53.1 -67.6,54 -67,54.9 -67.3,55.3 -68.1,55.6 -69.2,55.5 -70,55.2 -71,55.1 -72.3,54.5 -73.3,54 -74.7,52.8 -73.8,53 -72.4,53.7 -71.1,54.1 -70.6,53.6 -70.3,52.9 -69.3,52.5 -68.6,52.3ZM-155.5,-19.1 -155.7,-18.9 -155.9,-19.1 -156.1,-19.7 -155.9,-20.2 -155.2,-20 -154.8,-19.5 -155.5,-19.1ZM-156.1,-20.6 -156.7,-20.9 -157.3,-21.1 -158,-21.7 -158.3,-21.6 -157.7,-21.3 -156.7,-20.5 -156.1,-20.6ZM-159.3,-22.2 -159.8,-22.1 -159.6,-21.9 -159.3,-22.2ZM-153.2,-58 -152.6,-57.9 -152.1,-57.6 -153,-57.1 -154,-56.7 -154.5,-57 -154.7,-57.5 -153.2,-58ZM9.4,-43 9.6,-42.2 9.2,-41.4 8.8,-41.6 8.5,-42.3 8.7,-42.6 9.4,-43ZM9.2,-41.2 9.8,-40.5 9.7,-39.2 9.2,-39.2 8.8,-38.9 8.4,-39.2 8.4,-40.4 8.2,-41 8.7,-40.9 9.2,-41.2ZM15.5,-38.2 15.2,-37.4 15.3,-37.1 15.1,-36.6 14.3,-37 13.8,-37.1 12.4,-37.6 12.6,-38.1 13.7,-38 14.8,-38.1 15.5,-38.2ZM23.7,-35.7 24.2,-35.4 25,-35.4 25.8,-35.4 25.7,-35.1 26.3,-35.3 26.2,-34.9 24.7,-35 24.7,-35.1 23.5,-35.3 23.7,-35.7ZM34,-35.1 34.6,-35.7 33.9,-35.2 33.5,-35.2 32.7,-35.1 32.3,-35.1 32.8,-34.6 33.7,-34.9 34,-35.1ZM12.7,-55.6 12.1,-54.8 10.9,-55.8 12.4,-56.1 12.7,-55.6ZM18.7,-57.9 18.2,-57.2 18.2,-57.6 18.7,-57.9ZM148,-45.3 147,-44.6 146.9,-44.9 148,-45.3ZM165.8,21.1 167.1,22.2 166.7,22.4 165.5,21.7 164.2,20.4 164,20.1 164.5,20.1 165.8,21.1ZM178.4,17.3 178.7,17.6 178.6,18.2 177.9,18.3 177.4,18.2 177.3,17.7 177.7,17.4 178.4,17.3ZM167.2,15.9 167.8,16.5 167.5,16.6 167.2,15.9ZM160.9,9.9 160.5,9.4 159.8,9.2 159.6,9.6 160.4,9.9 160.9,9.9ZM161.7,9.6 161.5,9.8 160.8,8.9 160.6,8.5 161.3,9.1 161.7,9.6ZM155.9,6.8 155.2,6.5 154.7,5.9 154.5,5.1 154.9,5.2 155.5,6.2 155.9,6.8ZM152.3,3.8 151.9,3.5 151.2,3 150.7,2.7 151.3,2.9 152,3.5 152.6,4.1 152.8,4.8 152.3,3.8ZM92.7,-12.8 92.9,-13.4 93,-12.6 92.6,-11.7 92.7,-12.8ZM-15.4,-28.1 -15.6,-27.9 -15.8,-28.2 -15.4,-28.1ZM-23.5,-15 -23.8,-15.2 -23.6,-14.9 -23.5,-15ZM-166.5,-53.9 -167.1,-53.5 -168.1,-53.4 -167.5,-53.9 -166.5,-53.9ZM-172.5,-52 -174.5,-52.1 -176.5,-51.9 -177.6,-51.7 -176.5,-51.6 -174.4,-51.9 -172.5,-52ZM-168.9,-63.2 -170.7,-63.4 -171.5,-63.3 -171.8,-63.7 -170.1,-63.6 -168.9,-63.2ZM-165.6,-59.9 -166.8,-59.9 -167.2,-60.2 -165.6,-60.3 -165.6,-59.9ZM-36.4,54.2 -37.8,54 -38.1,54.1 -36.5,54.6 -36.4,54.2ZM68.9,48.6 69.6,48.9 70.5,49.1 69.6,49.7 68.7,49.2 68.9,48.6ZM57.6,20.2 57.3,20.5 57.7,20.5 57.6,20.2ZM55.5,20.9 55.2,21.2 55.8,21.3 55.5,20.9ZM-105.5,-79.3 -100.1,-78.3 -99.7,-77.9 -101.3,-78 -102.9,-78.3 -105.2,-78.4 -104.2,-78.7 -105.5,-79.3ZM-96,-69 -98.4,-69 -99,-69.7 -97.5,-69.9 -96.3,-69.6 -96,-69ZM-82,-62.9 -83,-62.2 -84,-62.3 -82,-62.9ZM50,-80.9 51.5,-80.7 55,-80.8 57,-81 59,-80.8 61,-80.9 60,-81.5 56,-81.7 52,-81.3 50,-80.9ZM127.9,-26.1 128.2,-26.6 127.7,-26.4 127.9,-26.1ZM126.2,-33.5 126.9,-33.4 126.5,-33.2 126.2,-33.5ZM3.1,-39.8 3.3,-39.4 2.4,-39.5 3.1,-39.8ZM119.5,-11.4 119,-10.4 118.5,-9.3 117.2,-8.4 117.7,-9.1 118.4,-9.7 119,-10.6 119.5,-11.4ZM121.3,-12.2 120.8,-12.7 120.3,-13.5 121.2,-13.4 121.5,-13 121.3,-12.2ZM105.8,1.5 106.2,2 106.8,3 106.1,2.8 105.3,2 105.8,1.5ZM119,9.6 120.8,9.9 120.4,10.3 119,9.6ZM134.2,5.8 134.7,6.2 134.2,6.9 134.2,5.8ZM126,3.1 127.2,3.4 126.9,3.8 126.2,3.6 126,3.1ZM-172,13.6 -172.7,13.7 -172.4,13.9 -172,13.6ZM-91.3,0.3 -91.6,0.9 -91,0.9 -91.3,0.3ZM-77.5,-26.8 -77.8,-26.6 -77.9,-26.9 -77.5,-26.8ZM-77.8,-24.7 -78.3,-24.3 -77.8,-23.7 -77.8,-24.7ZM-61.7,-10.8 -60.9,-10.9 -61,-10.1 -61.9,-10 -61.7,-10.8ZM-63.7,-49.9 -62,-49.4 -63.6,-49.4 -64.5,-49.9 -63.7,-49.9ZM-63.8,-46.4 -62,-46.5 -62.5,-46 -64.2,-46.4 -63.8,-46.4ZM-60.4,-47 -61.5,-46.3 -60.6,-45.6 -59.8,-46 -60.4,-47ZM-132.7,-54 -131.7,-54.1 -132,-53 -131.2,-52.2 -132.2,-52.5 -133.1,-53.4 -132.7,-54ZM-132.7,-56.1 -133.6,-55.9 -133.2,-55 -132.1,-55 -132.7,-56.1Z"/></clipPath>
<g id="coast" fill="none" stroke="#222" stroke-width="0.8" stroke-linejoin="round"><path d="M-168,-65.6 -166,-66.2 -163.7,-66.6 -161.8,-66.1 -163.8,-67.7 -166.2,-68.3 -164,-69 -163,-69.6 -160.5,-70.3 -156.6,-71.3 -152.5,-70.9 -149,-70.5 -145,-70.1 -141,-69.6 -137,-69 -134.5,-69.6 -132,-69.6 -129.5,-70 -127,-70.2 -125,-69.5 -122,-69.8 -118.5,-69 -114.5,-68.3 -111,-67.8 -108.5,-67.4 -106.5,-68.2 -104.5,-67.8 -101,-67.8 -98.5,-67.8 -97,-68.5 -95.5,-68.2 -94,-69.5 -94.5,-71.8 -92.5,-71.5 -91.5,-70 -89.5,-69 -88,-68.4 -85.8,-69.5 -84.5,-69.8 -82,-69.4 -81.3,-68.4 -83,-67.3 -85.5,-66.5 -87.5,-66 -86.5,-64.8 -88.5,-64 -90.5,-63.4 -92.5,-62.2 -94.2,-61 -94.7,-59.5 -93,-58.5 -92.3,-57.1 -90,-57 -88,-56.3 -85.5,-55.3 -82.4,-55.1 -82.2,-53.3 -81.4,-52.2 -80,-51.3 -79,-51.8 -78.8,-53.5 -79.2,-54.6 -77.3,-55.6 -76.6,-56.8 -77.3,-58 -78.3,-58.8 -77.5,-60.1 -78,-61.3 -77.8,-62.4 -75,-62.2 -72.5,-61.6 -71.2,-61 -69.7,-60.8 -69.3,-59.2 -68.2,-58.6 -66.5,-58.8 -65.2,-59.8 -64.5,-60.3 -63.5,-58.7 -62,-57.6 -61.3,-56.2 -59.3,-55.2 -57.8,-54.2 -56,-53.2 -55.8,-52 -57.2,-51.4 -59.2,-50.6 -61.5,-50.1 -64.5,-50.2 -66.5,-49.9 -68.5,-49 -70,-47.8 -71,-46.9 -69.5,-47.6 -68,-48.6 -65,-49.2 -64.3,-48.6 -65.3,-47.9 -64.8,-46.9 -64.3,-46.1 -62.8,-45.7 -61.2,-45.6 -60.2,-46 -61,-45.3 -63.5,-44.6 -65.6,-43.6 -66.1,-44.3 -64.5,-45.3 -66.2,-45.2 -67.2,-44.6 -68.8,-44.3 -70.2,-43.6 -70.8,-42.8 -70.6,-42 -70,-41.8 -70.6,-41.5 -72,-41.3 -73.8,-40.8 -74,-40.2 -74.5,-39.3 -75.5,-38.9 -75.1,-38.3 -75.9,-37.3 -76.3,-36.9 -75.8,-36 -75.5,-35.2 -76.5,-34.8 -77.6,-34.2 -78.9,-33.6 -80,-32.7 -81.2,-31.5 -81.4,-30.2 -80.5,-28.3 -80,-26.5 -80.3,-25.3 -81.1,-25.2 -81.7,-25.9 -82.2,-26.8 -82.7,-27.9 -82.6,-28.9 -83.4,-29.7 -84.3,-30 -85.3,-29.7 -86.3,-30.4 -88,-30.5 -89.4,-30.2 -89.2,-29.3 -90,-29.1 -91.4,-29.4 -92.8,-29.7 -94,-29.7 -95.1,-29.2 -96.5,-28.4 -97.3,-27.5 -97.4,-26 -97.7,-24.5 -97.8,-22.8 -97.4,-21.4 -96.5,-19.8 -95.9,-18.8 -94.6,-18.2 -93,-18.4 -91.6,-18.5 -90.7,-19.3 -90.4,-20.8 -89.5,-21.3 -87.8,-21.5 -86.8,-21.2 -87.4,-20.3 -87.6,-19.3 -87.8,-18.3 -88.3,-18.5 -88.3,-17.5 -88.2,-16.6 -88.9,-15.9 -88.1,-15.7 -87.2,-15.8 -86,-15.9 -84.5,-15.8 -83.4,-15.2 -83.3,-14.2 -83.6,-12.9 -83.7,-11.6 -83.7,-10.9 -83,-10 -82.2,-9.2 -81.4,-8.8 -80.4,-9.2 -79.5,-9.6 -78.4,-9.4 -77.4,-8.7 -77.9,-7.2 -78.4,-8 -78.9,-8.5 -79.7,-8.7 -80.4,-8 -80.4,-7.3 -81.3,-7.7 -81.8,-8.2 -82.9,-8 -83.6,-8.4 -84,-9.3 -84.8,-9.6 -85.7,-9.9 -85.7,-11 -86.5,-11.8 -87.4,-12.9 -87.8,-13.4 -88.6,-13.3 -89.6,-13.5 -90.6,-13.9 -91.7,-14.1 -92.3,-14.6 -93.4,-15.6 -94.7,-16.2 -96.5,-15.7 -98.2,-16.1 -99.7,-16.7 -101.4,-17.6 -102.7,-18 -104,-18.8 -105.3,-19.9 -105.4,-21 -105.7,-22.3 -106.6,-23.3 -107.9,-24.5 -109,-25.6 -109.4,-26.6 -110.6,-27.7 -111.2,-28.6 -112.2,-29.1 -112.9,-30.4 -113.8,-31.4 -114.8,-31.8 -114.6,-30.2 -113.6,-29.1 -112.8,-28 -111.8,-26.7 -111.2,-25.5 -110.7,-24.3 -109.9,-23.9 -109.4,-23.2 -110.2,-22.9 -111.4,-24.4 -112.2,-24.7 -112.2,-26 -113.5,-26.8 -114.5,-27.7 -114.1,-28.6 -115.5,-29.7 -116.3,-30.8 -116.8,-31.7 -117.1,-32.5 -117.4,-33.3 -118.5,-34 -119.6,-34.4 -120.6,-34.6 -120.8,-35.5 -121.9,-36.6 -122.4,-37.4 -123,-38.2 -123.8,-39.4 -124.3,-40.4 -124.2,-41.9 -124.5,-42.8 -124.1,-44.3 -123.9,-46 -124.1,-47.3 -124.7,-48.4 -123.2,-48.1 -122.6,-47.3 -122.4,-48.2 -122.8,-49 -123.9,-49.7 -125,-50.4 -126.7,-50.9 -127.5,-51.7 -128.1,-52.6 -129.2,-53.6 -130.4,-54.5 -130.9,-55.3 -131.8,-56.1 -133.2,-57.2 -134.2,-58.2 -135.5,-59 -136.5,-58.4 -138,-59 -139.5,-59.7 -141,-60 -143.5,-60 -146,-60.6 -148,-60.8 -149,-60 -150.6,-59.4 -151.7,-59.2 -151.8,-60.7 -150,-61.2 -152.3,-60.4 -153.8,-59 -154.2,-58.2 -156.3,-57.4 -157.6,-56.6 -159.5,-55.6 -161.4,-55.3 -163,-54.7 -164.7,-54.4 -163,-55.2 -161,-55.9 -159,-56.9 -157.5,-57.8 -157.2,-58.8 -158.5,-58.8 -160.3,-59 -161.9,-58.7 -162.1,-59.9 -163.8,-59.8 -165.3,-60.5 -165,-61.4 -166,-61.6 -165.2,-62.5 -164.4,-63.2 -162.5,-63.5 -161,-64 -161.3,-64.6 -163,-64.6 -165,-64.5 -166.5,-64.8 -166.6,-65.3 -168,-65.6ZM-77.4,-8.7 -76.7,-8.6 -76,-9.5 -75.5,-10.6 -74.6,-11 -73.5,-11.3 -72.4,-11.9 -71.6,-12.4 -71.1,-12 -71.9,-11.6 -71.6,-10.9 -71.9,-10.4 -71.6,-9.4 -71,-9.9 -71.3,-11.1 -70.2,-11.5 -69.8,-12.4 -69,-11.5 -68.1,-10.6 -66.2,-10.6 -65,-10.1 -63.5,-10.6 -62,-10.7 -62.7,-10.2 -61.6,-9.9 -60.8,-9.4 -60,-8.6 -59.1,-8 -58.4,-7.3 -57.6,-6.5 -57.1,-5.9 -55.9,-5.8 -54,-5.7 -52.9,-5.4 -51.8,-4.6 -51.3,-4.2 -50.5,-2 -49.9,-1.7 -50.2,-0.5 -49.2,0.1 -48.5,1 -47,0.8 -45.5,1.3 -44.4,2.2 -43.4,2.4 -41.5,2.9 -39.8,2.9 -38.5,3.7 -37.2,4.8 -35.6,5.1 -35,6.7 -34.8,7.5 -35.1,9 -36.2,10.3 -37.2,11.3 -38,12.6 -38.9,13.8 -39,15 -38.9,16.5 -39.3,17.9 -39.8,19.6 -40.8,20.9 -41.8,22.4 -43.1,22.9 -44.6,23.4 -45.4,23.8 -46.9,24.5 -48.1,25.5 -48.6,26.6 -48.5,28 -49.6,29.2 -50.7,30.9 -51.6,31.8 -52.5,33 -53.4,33.8 -54.6,34.9 -56.2,34.9 -57.2,35.2 -57.1,36.3 -56.7,36.9 -57.7,38.2 -59.2,38.7 -61.2,38.9 -62.3,38.8 -62.1,39.9 -62.3,40.7 -63.8,41.2 -65.1,41.1 -65,42.1 -64.3,42.4 -63.7,42.8 -64.8,43 -65.3,44.5 -65.6,45 -67.3,45.6 -67.6,46.3 -66.6,47 -65.6,47.2 -66.1,48.1 -67.8,49.9 -68.7,50.3 -69.1,51 -68.6,52.3 -69.5,52.2 -70.8,52.9 -70.8,53.6 -71.4,53.9 -72.6,53.5 -73.7,52.8 -74.9,52.3 -75.3,51.6 -75.5,50.4 -75.6,48.7 -74.7,48.2 -75.6,46.6 -74.7,45.8 -74.4,44.1 -73.2,44.5 -72.7,42.4 -73.4,42.1 -73.7,43.4 -74.3,43.2 -73.7,39.9 -73.2,39.3 -73.5,38.3 -73.6,37.2 -73.2,37.1 -72.6,35.5 -71.9,33.9 -71.4,32.4 -71.7,30.9 -71.4,28.9 -70.9,27.6 -70.7,25.7 -70.4,23.6 -70.1,21.4 -70.2,19.8 -70.4,18.3 -71.4,17.8 -71.5,17.4 -73.4,16.4 -75.2,15.3 -76,14.6 -76.4,13.8 -76.3,13.5 -77.1,12.2 -78.1,10.4 -79,8.4 -79.8,7.2 -80.5,6.5 -81.2,6.1 -80.9,5.7 -81.4,4.7 -81.1,4 -80.3,3.4 -79.8,2.7 -80.4,2.7 -81,2.2 -80.8,1 -80.1,0 -80,-0.8 -79.5,-1 -78.9,-1.4 -78.7,-1.8 -78.4,-2.6 -77.9,-2.7 -77.1,-3.8 -77.5,-4.1 -77.3,-4.7 -77.5,-5.6 -77.3,-6.7 -77.9,-7.2 -77.4,-8.7ZM-5.9,-35.8 -6.2,-35.1 -6.8,-34 -7.7,-33.6 -8.7,-33.2 -9.3,-32.6 -9.8,-31.2 -9.6,-30 -10.4,-29.1 -11.7,-28.1 -12.9,-27.9 -13.6,-27.3 -14.4,-26.3 -14.8,-25.1 -15.4,-24.4 -16,-23.7 -16.3,-22.7 -16.9,-21.9 -17,-21 -16.7,-20.1 -16.3,-19.6 -16.1,-18.5 -16.3,-17.2 -16.5,-16.1 -17.1,-14.9 -17.6,-14.7 -17.2,-14.4 -16.7,-13.6 -16.6,-12.2 -16.1,-11.5 -15.1,-10.9 -14.6,-10.2 -13.3,-9.5 -13.2,-8.5 -12.4,-7.3 -11.4,-6.8 -10.2,-5.9 -9,-4.8 -7.5,-4.4 -5.8,-5 -4.6,-5.2 -3.3,-5 -2,-4.7 -0.5,-5.3 1.1,-5.9 2.7,-6.3 4.3,-6.3 5,-5.6 5.6,-4.9 6.7,-4.2 7.5,-4.4 8.5,-4.5 9,-3.9 9.6,-3.5 9.8,-2.2 9.5,-1 9.3,0.4 9,0.6 9.6,2 11.1,3.9 11.9,5 12.3,6.1 12.7,6.9 13.2,8.6 13.2,9.8 13.7,10.7 13.7,12 13.1,12.9 12.6,13.6 12.1,14.9 11.7,16.7 11.8,18.1 12.6,19 13.4,20.9 14.3,22.1 14.4,23.9 14.8,25.4 15.2,27.1 16.3,28.6 17.1,29.9 17.6,30.7 18.2,31.7 18.2,32.4 18.4,33.1 18.4,34.1 18.9,34.4 19.6,34.8 20.7,34.4 22.6,33.9 24.7,34 25.8,33.7 26.4,33.6 27.5,33.2 28.2,32.8 29.4,31.6 30.1,31.1 30.9,29.9 31.3,29.4 32.2,28.8 32.6,27.5 32.5,26 33,25.4 34.8,24.8 35.5,24.1 35.6,23.1 35.4,21.8 35.2,21.3 34.8,20.4 35.2,19.6 36.3,18.7 37.4,17.6 38.5,17.1 39.7,16.7 40.5,15.4 40.6,14.2 40.5,12.6 40.5,10.8 39.9,10.1 39.4,9 39.2,7.7 39.4,6.4 38.8,6.5 38.7,5.9 39.2,4.7 39.6,4.3 40.3,2.6 40.6,2.5 41.6,1.7 42,0.9 43.1,-0.3 44.1,-1.1 45.6,-2 46.6,-2.9 47.7,-4.2 48.6,-5.3 49.5,-6.8 50.1,-8.1 50.6,-9.2 50.7,-10.3 51.1,-10.6 51,-11.2 51.1,-11.9 50.7,-12 49.5,-11.4 48.4,-11.4 47.5,-11.1 46.6,-10.8 45.6,-10.7 44.6,-10.4 43.5,-11.3 42.8,-11.7 43.3,-12.4 42.7,-13 42.3,-13.3 41.6,-13.5 40.9,-14.1 40,-15 39.3,-15.9 38.5,-18 37.9,-18.4 37.5,-19.6 37.1,-21.2 36.8,-22 36,-22.8 35.5,-23.8 35,-25 34.6,-25.8 34.1,-26.9 33.6,-27.8 33.1,-28.4 32.4,-29.9 32.3,-31.3 31.6,-31.4 31,-31.6 30,-31.5 29,-30.9 28,-31 26.5,-31.6 25.2,-31.6 24.1,-32 23.2,-32.2 22.9,-32.6 21.5,-32.8 20.1,-31.9 19.8,-30.9 19,-30.3 18,-30.8 16.6,-31.2 15.7,-31.4 15.2,-32.3 13.9,-32.7 12.7,-32.8 11.4,-33.1 10.9,-33.8 10.3,-33.8 10.1,-34.3 10.8,-35.7 10.6,-36.4 11,-37.1 10.2,-37.2 9.5,-37.3 8.4,-36.9 7.3,-37.1 6.3,-37.1 5.3,-36.7 4.8,-36.9 3.2,-36.8 1.5,-36.6 0.5,-36.3 -1.2,-35.7 -2.2,-35.2 -3.6,-35.4 -4.6,-35.3 -5.2,-35.8 -5.9,-35.8ZM49.2,12 49.8,12.9 50.1,13.6 50.5,15.2 50.2,16 49.8,16.9 49.5,17.1 49.4,18 49,19.1 48.5,20.5 47.9,22.4 47.5,24.1 47.1,24.9 45.4,25.6 44.8,25.3 44,24.9 43.8,24.5 43.7,23.6 43.3,22.8 43.3,22.1 43.4,21.3 43.9,21.2 43.9,20.8 44.4,20.1 44.5,19.4 44.2,18.9 44,18.3 44,17.4 44.3,16.9 44.4,16.2 44.9,16.2 45.5,16 45.9,15.8 46.3,15.8 46.9,15.2 47.7,14.6 48,14.1 48,13.7 48.7,13.1 48.9,12.5 49.2,12ZM-5.6,-36 -6.3,-36.8 -7.4,-37.2 -8.9,-37 -8.8,-38.3 -9.5,-38.7 -9,-39.7 -8.8,-40.8 -8.8,-41.9 -9,-42.6 -9.3,-43 -8,-43.7 -6.8,-43.6 -5.4,-43.6 -4.3,-43.4 -3,-43.3 -1.9,-43.4 -1.4,-44 -1.2,-45.5 -1.1,-46.2 -2.1,-47 -2.9,-47.6 -4.5,-47.9 -4.6,-48.7 -3.2,-48.9 -1.6,-48.6 -1.9,-49.7 -1,-49.3 0.2,-49.7 1.3,-50.1 1.6,-50.9 2.5,-51.1 3.3,-51.3 3.8,-51.6 4.3,-52 4.7,-53.1 5.5,-53.4 6.9,-53.5 7.9,-53.7 8.5,-53.6 8.8,-54 8.6,-54.9 8.1,-55.6 8.1,-56.5 8.5,-57.1 9.4,-57.2 10.6,-57.7 10.5,-57.2 10.2,-56.9 10.3,-56.2 10.9,-56.5 10.7,-56.1 9.6,-55.5 9.9,-55.1 9.9,-54.8 10.9,-54.4 11.9,-54.2 12.5,-54.5 13.6,-54.1 14.3,-53.9 15.7,-54.2 17,-54.7 18.6,-54.7 18.7,-54.4 19.7,-54.4 20.9,-54.9 21.3,-55.2 21.1,-56.8 21.6,-57.4 22.5,-57.8 23.3,-57 24.1,-57 24.4,-58.4 23.4,-58.6 23.3,-59.2 24.6,-59.5 26,-59.6 27.5,-59.6 28,-59.5 29.1,-60 28.1,-60.5 26.3,-60.4 24.5,-60.1 22.9,-59.8 22.3,-60.4 21.3,-60.7 21.5,-61.7 21.1,-62.6 21.5,-63.2 22.4,-63.8 24.7,-64.9 25.4,-65.1 25.3,-65.5 24.7,-65.9 23.9,-66 22.2,-65.7 21.2,-65 21.4,-64.4 19.8,-63.6 17.8,-62.7 17.1,-61.3 17.8,-60.6 18.8,-60.1 17.9,-59 16.8,-58.7 16.4,-57 15.9,-56.1 14.7,-56.2 14.1,-55.4 12.9,-55.4 12.6,-56.3 11.8,-57.4 11,-58.9 10.4,-59.5 8.4,-58.3 7,-58.1 5.7,-58.6 5.3,-59.7 5,-61 5.9,-62.6 8.6,-63.5 10.5,-64.5 12.4,-65.9 14.8,-67.8 16.4,-68.6 19.2,-69.8 21.4,-70.3 23,-70.2 24.5,-71 26.4,-71 28.2,-71.2 31.3,-70.5 30,-70.2 31.1,-69.6 32.1,-69.9 33.8,-69.3 36.5,-69.1 40.3,-67.9 41.1,-67.5 41.1,-66.8 40,-66.3 38.4,-66 33.9,-66.8 33.2,-66.6 34.8,-65.9 34.9,-64.4 37,-63.8 37.1,-64.3 36.5,-64.8 37.2,-65.1 39.6,-64.5 40.4,-64.8 39.8,-65.5 42.1,-66.5 43.9,-66.1 44.5,-66.8 43.7,-67.4 44.2,-68 43.5,-68.6 46.2,-68.2 46.8,-67.7 45.6,-67.6 45.6,-67 46.3,-66.7 47.9,-66.9 48.1,-67.5 50.2,-67.9 53.7,-68.9 54.5,-68.8 53.5,-68.2 54.7,-68.1 55.4,-68.4 57.3,-68.5 58.8,-68.9 59.9,-68.3 61.1,-68.9 60,-69.5 60.6,-69.9 63.5,-69.5 64.9,-69.2 68.5,-68.1 69.2,-68.6 68.2,-69.1 68.1,-69.4 66.9,-69.5 67.3,-70 66.7,-71 68.5,-71.9 69.2,-72.8 69.9,-73 72.6,-72.8 72.8,-72.2 71.8,-71.4 72.5,-71.1 72.8,-70.4 72.6,-69 73.7,-68.4 73.2,-67.7 72,-66.5 72.4,-66.2 74.2,-67.3 75.1,-67.8 74.5,-68.3 74.9,-69 73.8,-69.1 73.6,-69.6 74.4,-70.6 73.1,-71.4 74.9,-72.1 74.7,-72.8 75.2,-72.9 75.7,-72.3 75.3,-71.3 76.4,-71.2 75.9,-71.9 77.6,-72.3 79.7,-72.3 81.5,-71.8 80.6,-72.6 80.5,-73.6 82.3,-73.9 84.7,-73.8 86.8,-73.9 86,-74.5 87.2,-75.1 88.3,-75.1 90.3,-75.6 92.9,-75.8 93.2,-76 95.9,-76.1 96.7,-75.9 98.9,-76.4 100.8,-76.4 101,-76.9 102,-77.3 104.4,-77.7 106.1,-77.4 104.7,-77.1 107,-77 107.2,-76.5 108.2,-76.7 111.1,-76.7 113.3,-76.2 114.1,-75.8 113.9,-75.3 112.8,-75 110.2,-74.5 109.4,-74.2 110.6,-74 112.1,-73.8 113,-74 113.5,-73.3 114,-73.6 115.6,-73.8 118.8,-73.6 119,-73.1 123.2,-73 123.3,-73.7 125.4,-73.6 127,-73.6 128.6,-73 129.1,-72.4 128.5,-72 129.7,-71.2 131.3,-70.8 132.3,-71.8 133.9,-71.4 135.6,-71.7 137.5,-71.3 138.2,-71.6 139.9,-71.5 139.1,-72.4 140.5,-72.8 149.5,-72.2 150.4,-71.6 153,-70.8 157,-71 159,-70.9 159.8,-70.5 159.7,-69.7 160.9,-69.4 162.3,-69.6 164.1,-69.7 165.9,-69.5 167.8,-69.6 169.6,-68.7 170.8,-69 170,-69.7 170.5,-70.1 173.6,-69.8 175.7,-69.9 178.6,-69.4 180,-69 180,-65 178.7,-64.5 177.4,-64.6 178.3,-64.1 178.9,-63.3 179.4,-63 179.2,-62.3 177.4,-62.5 174.6,-61.8 173.7,-61.7 172.2,-61 170.7,-60.3 170.3,-59.9 168.9,-60.6 166.3,-59.8 165.8,-60.2 164.9,-59.7 163.5,-59.9 163.2,-59.2 162,-58.2 162.1,-57.8 163.2,-57.6 163.1,-56.2 162.1,-56.1 161.7,-55.3 162.1,-54.9 160.4,-54.3 160,-53.2 158.5,-53 158.2,-51.9 156.8,-51 156.4,-51.7 156,-53.2 155.4,-55.4 155.9,-56.8 156.8,-57.4 156.8,-57.8 158.4,-58.1 160.2,-59.3 161.9,-60.3 163.7,-61.1 164.5,-62.6 163.3,-62.5 162.7,-61.6 160.1,-60.5 159.3,-61.8 156.7,-61.4 154.2,-59.8 155,-59.1 152.8,-58.9 151.3,-58.8 151.3,-59.5 149.8,-59.7 148.5,-59.2 145.5,-59.3 142.2,-59 139,-57.1 135.1,-54.7 136.7,-54.6 137.2,-54 138.2,-53.8 138.8,-54.3 139.9,-54.2 141.3,-53.1 141.4,-52.2 140.6,-51.2 140.5,-50 140.1,-48.4 138.6,-47 138.2,-46.3 136.9,-45.1 135.5,-44 134.9,-43.4 133.5,-42.8 132.9,-42.8 132.3,-43.3 130.8,-42.2 130.6,-42.4 130.6,-42 130,-41.9 129.6,-41.6 129.7,-41 129.2,-40.7 128.6,-40.2 128,-40 127.5,-39.8 127.4,-39.3 127.8,-39.1 128.3,-38.6 129.2,-37.4 129.5,-36.8 129.5,-35.6 129.1,-35.1 128.2,-34.9 127.4,-34.5 126.5,-34.4 126.4,-34.9 126.6,-35.7 126.1,-36.7 126.9,-36.9 126.2,-37.7 125.7,-37.9 125.2,-37.7 125.3,-37.9 124.7,-38.1 125.2,-38.6 125.1,-38.8 125.4,-39.4 125.3,-39.6 124.7,-39.7 124.3,-39.9 122.9,-39.6 122.1,-39.2 121.1,-38.9 121.6,-39.4 121.4,-39.8 122.2,-40.4 121.6,-40.9 120.8,-40.6 119.6,-39.9 119,-39.3 118,-39.2 117.5,-38.7 118.1,-38.1 118.9,-37.9 118.9,-37.4 119.7,-37.2 120.8,-37.9 121.7,-37.5 122.4,-37.5 122.5,-36.9 121.1,-36.7 120.6,-36.1 119.7,-35.6 119.2,-35 120.2,-34.4 120.6,-33.4 121.2,-32.5 121.9,-31.7 121.9,-30.9 121.3,-30.7 121.5,-30.1 122.1,-29.8 121.9,-29 121.7,-28.2 121.1,-28.1 120.4,-27.1 119.6,-25.7 118.7,-24.5 117.3,-23.6 116,-22.9 114.8,-22.7 114.2,-22.2 113.8,-22.5 113.2,-22.1 111.8,-21.6 110.8,-21.4 110.4,-20.3 109.9,-20.3 109.6,-21 109.9,-21.4 108.5,-21.7 108.1,-21.6 107,-21.8 106.6,-21 105.9,-19.8 105.7,-19.1 106.4,-18 107.4,-16.7 108.3,-16.1 108.9,-15.3 109.3,-13.4 109.2,-11.7 108.4,-11 107.2,-10.4 106.4,-9.5 105.2,-8.6 104.8,-9.2 105.1,-9.9 104.3,-10.5 103.5,-10.6 103.1,-11.2 102.6,-12.2 102.3,-12 101,-12.6 100.8,-13.5 100.1,-13.4 100,-12.3 99.2,-11 99.2,-9.2 99.9,-9.2 100.3,-8.3 100.5,-7.4 101,-6.9 101.6,-6.7 102.1,-6.2 102.4,-6 103,-5.5 103.4,-4.9 103.3,-3.7 103.4,-3.4 103.5,-2.8 103.9,-2.5 104.2,-1.6 103.5,-1.2 102.6,-2 101.4,-2.8 101.3,-3.3 100.7,-3.9 100.6,-4.8 100.2,-5.3 100.3,-6 100.1,-6.5 99.7,-6.8 99.5,-7.3 99,-7.9 98.5,-8.4 98.3,-7.8 98.2,-8.4 98.3,-9 98.6,-9.9 98.5,-10.7 98.8,-11.4 98.4,-12 98.5,-13.1 98.1,-13.6 97.8,-14.8 97.6,-16.1 97.2,-16.9 96.5,-16.4 95.4,-15.7 94.8,-15.8 94.2,-16 94.5,-17.3 94.3,-18.2 93.5,-19.4 93.7,-19.7 93.1,-19.9 92.4,-20.7 92.1,-21.2 92,-21.7 91.8,-22.2 91.4,-22.8 90.5,-22.8 90.6,-22.4 90.3,-21.8 89.8,-22 89.7,-21.9 89.4,-22 89,-22.1 88.9,-21.7 88.2,-21.7 87,-21.5 87,-20.7 86.5,-20.2 85.1,-19.5 83.9,-18.3 83.2,-17.7 82.2,-17 82.2,-16.6 81.7,-16.3 80.8,-15.9 80.3,-15.9 80,-15.1 80.2,-13.8 80.3,-13 79.9,-12.1 79.9,-10.4 79.3,-10.3 78.9,-9.5 79.2,-9.2 78.3,-8.9 77.9,-8.3 77.5,-8 76.6,-8.9 76.1,-10.3 75.7,-11.3 75.4,-11.8 74.9,-12.7 74.6,-14 74.4,-14.6 73.5,-16 73.1,-17.9 72.8,-19.2 72.8,-20.4 72.6,-21.4 71.2,-20.8 70.5,-20.9 69.2,-22.1 69.6,-22.5 69.3,-22.8 68.2,-23.7 67.4,-23.9 67.1,-24.7 66.4,-25.4 64.5,-25.2 62.9,-25.2 61.5,-25.1 59.6,-25.4 58.5,-25.6 57.4,-25.7 57,-27 56.5,-27.1 55.7,-27 54.7,-26.5 53.5,-26.8 52.5,-27.6 51.5,-27.9 50.9,-28.8 50.1,-30.1 49.6,-30 48.9,-30.3 48.6,-29.9 48,-30 48.2,-29.5 48.1,-29.3 48.4,-28.6 48.8,-27.7 49.3,-27.5 49.5,-27.1 50.2,-26.7 50.1,-25.9 50.2,-25.6 50.5,-25.3 50.7,-25 50.8,-24.8 51.1,-24.6 51.4,-24.6 51.6,-24.2 51.8,-24 52.6,-24.2 54,-24.1 54.7,-24.8 55.4,-25.4 56.1,-26.1 56.4,-26.4 56.5,-26.3 56.4,-25.9 56.3,-25.7 56.4,-24.9 57.4,-23.9 58.1,-23.7 58.7,-23.6 59.5,-22.7 59.8,-22.5 59.8,-22.3 59.3,-21.4 58.9,-21.1 58.5,-20.4 58,-20.5 57.8,-20.2 57.7,-19.7 57.8,-19.1 57.7,-18.9 57.2,-18.9 56.6,-18.6 56.5,-18.1 56.3,-17.9 55.7,-17.9 55.3,-17.6 55.3,-17.2 54.8,-16.9 54.2,-17 53.6,-16.7 53.1,-16.7 52.4,-16.4 52.2,-15.9 52.2,-15.6 51.2,-15.2 49.6,-14.7 48.7,-14 48.2,-13.9 47.9,-14 47.4,-13.6 46.7,-13.4 45.9,-13.3 45.6,-13.3 45.4,-13 45.1,-12.9 45,-12.7 44.5,-12.7 44.2,-12.6 43.5,-12.6 43.2,-13.2 43.3,-13.8 43.1,-14.1 42.9,-14.8 42.6,-15.2 42.8,-15.3 42.7,-15.7 42.8,-15.9 42.8,-16.3 42.6,-16.8 42.3,-17.1 42.3,-17.5 41.8,-17.8 41.2,-18.7 40.9,-19.5 40.2,-20.2 39.8,-20.3 39.1,-21.3 39,-22.6 38.5,-23.7 38,-24.1 37.5,-24.3 37.2,-24.9 37.2,-25.1 36.9,-25.6 36.6,-25.8 36.2,-26.6 35.6,-27.4 35.1,-28.1 34.6,-28.1 34.8,-28.6 34.8,-29.1 34.6,-28.4 34.3,-28 33.9,-27.6 33.1,-28.4 32.4,-29.9 32.3,-31.3 33,-31 33.8,-31 34.3,-31.2 34.9,-32.8 35.1,-33.1 35.5,-33.9 35.9,-34.5 35.9,-35.4 36.1,-35.8 35.8,-36.3 36.2,-36.7 35.6,-36.6 34.7,-36.8 34,-36.2 32.5,-36.1 31.7,-36.6 30.6,-36.7 30.4,-36.3 29.7,-36.1 28.7,-36.7 27.6,-36.7 27,-37.7 26.3,-38.2 26.8,-39 26.2,-39.5 26.1,-40 26.5,-40.4 27.3,-40.4 28.8,-40.5 29.2,-41.2 31.1,-41.1 32.3,-41.7 33.5,-42 35.2,-42 36.9,-41.3 38.3,-40.9 39.5,-41.1 40.4,-41 41.6,-41.5 41.7,-42 41.5,-42.6 40.9,-43 40.3,-43.1 40,-43.4 38.7,-44.3 37.5,-44.7 36.7,-45.2 37.4,-45.4 38.2,-46.2 37.7,-46.6 39.1,-47 39.1,-47.3 38.2,-47.1 37.4,-47 36.8,-46.7 35.8,-46.6 35,-46.3 35,-45.7 35.5,-45.5 36.5,-45.5 36.3,-45.1 35.2,-44.9 33.9,-44.4 33.3,-44.6 33.5,-45 32.5,-45.3 32.6,-45.5 33.6,-45.9 33.3,-46.1 31.7,-46.3 31.7,-46.7 30.7,-46.6 30.4,-46 29.6,-45.3 29.6,-45 29.1,-44.8 28.8,-44.9 28.6,-44.3 28,-43.3 27.7,-42.6 28,-42 28.1,-41.6 29,-41.3 28.8,-41.1 27.6,-41 27.2,-40.7 26.4,-40.2 26,-40.6 26.1,-40.8 25.4,-40.9 24.9,-40.9 23.7,-40.7 24.4,-40.1 23.9,-40 23.3,-40 22.8,-40.5 22.6,-40.3 22.8,-39.7 23.4,-39.2 23,-39 23.5,-38.5 24,-38.2 24,-37.7 23.1,-37.9 23.4,-37.4 22.8,-37.3 23.2,-36.4 22.5,-36.4 21.7,-36.8 21.3,-37.6 21.1,-38.3 20.2,-39.3 20.2,-39.6 20,-39.7 20,-40 19.4,-40.3 19.3,-40.7 19.4,-41.4 19.5,-41.7 19.4,-41.9 18.9,-42.3 18.5,-42.5 17.5,-42.8 16.9,-43.2 16,-43.5 15.2,-44.2 15.4,-44.4 14.9,-44.7 14.9,-45.1 14.3,-45.2 13.9,-44.8 13.7,-45.1 13.7,-45.5 13.9,-45.6 13.1,-45.7 12.3,-45.4 12.4,-44.9 12.3,-44.6 12.6,-44.1 13.5,-43.6 14,-42.8 15.1,-42 15.9,-42 16.2,-41.7 15.9,-41.5 17.5,-40.9 18.4,-40.4 18.5,-40.2 18.3,-39.8 17.7,-40.3 16.9,-40.4 16.4,-39.8 17.2,-39.4 17.1,-39 16.6,-38.8 16.1,-38 15.7,-37.9 15.7,-38.2 15.9,-38.8 16.1,-39 15.7,-39.5 15.4,-40 15,-40.2 14.7,-40.6 14.1,-40.8 13.6,-41.2 12.9,-41.3 12.1,-41.7 11.2,-42.4 10.5,-42.9 10.2,-43.9 9.7,-44 8.9,-44.4 8.4,-44.2 7.9,-43.8 7.4,-43.7 6.5,-43.1 4.6,-43.4 3.1,-43.1 3,-42.5 3,-41.9 2.1,-41.2 0.8,-41 0.7,-40.7 0.1,-40.1 -0.3,-39.3 0.1,-38.7 -0.5,-38.3 -0.7,-37.6 -1.4,-37.4 -2.1,-36.7 -4.4,-36.7 -5,-36.3 -5.4,-35.9 -5.6,-36ZM-180,-69 -177.6,-68.2 -174.9,-67.2 -175,-66.6 -174.3,-66.3 -174.6,-67.1 -171.9,-66.9 -169.9,-66 -170.9,-65.5 -172.5,-65.4 -173,-64.2 -174.7,-64.6 -176,-64.9 -176.2,-65.4 -177.2,-65.5 -178.4,-65.4 -178.9,-65.7 -178.7,-66.1 -179.9,-65.9 -180,-65ZM-46.8,-82.6 -43.4,-83.2 -39.9,-83.2 -38.6,-83.5 -35.1,-83.6 -27.1,-83.5 -20.8,-82.7 -22.7,-82.3 -26.5,-82.3 -31.9,-82.2 -31.4,-82 -27.9,-82.1 -24.8,-81.8 -22.9,-82.1 -22.1,-81.7 -23.2,-81.2 -20.6,-81.5 -15.8,-81.9 -12.8,-81.7 -12.2,-81.3 -16.3,-80.6 -16.9,-80.3 -20,-80.2 -17.7,-80.1 -18.9,-79.4 -19.7,-78.8 -19.7,-77.6 -18.5,-77 -20,-76.9 -21.7,-76.6 -19.8,-76.1 -19.6,-75.2 -20.7,-75.2 -19.4,-74.3 -21.6,-74.2 -20.4,-73.8 -20.8,-73.5 -22.2,-73.3 -23.6,-73.3 -22.3,-72.6 -22.3,-72.2 -24.3,-72.6 -24.8,-72.3 -23.4,-72.1 -22.1,-71.5 -21.8,-70.7 -23.5,-70.5 -24.3,-70.9 -25.5,-71.4 -25.2,-70.8 -26.4,-70.2 -23.7,-70.2 -22.3,-70.1 -25,-69.3 -27.7,-68.5 -30.7,-68.1 -31.8,-68.1 -32.8,-67.7 -34.2,-66.7 -36.4,-66 -37,-65.9 -38.4,-65.7 -39.8,-65.5 -40.7,-64.8 -40.7,-64.1 -41.2,-63.5 -42.8,-62.7 -42.4,-61.9 -43.4,-60.1 -44.8,-60 -46.3,-60.9 -48.3,-60.9 -49.2,-61.4 -49.9,-62.4 -51.6,-63.6 -52.1,-64.3 -52.3,-65.2 -53.7,-66.1 -53.3,-66.8 -54,-67.2 -53,-68.4 -51.5,-68.7 -51.1,-69.1 -50.9,-69.9 -52.6,-69.4 -53.5,-69.3 -54.7,-69.6 -54.8,-70.3 -54.4,-70.8 -53.4,-70.8 -51.4,-70.6 -53.1,-71.2 -54,-71.5 -55,-71.4 -55.8,-71.7 -54.7,-72.6 -55.3,-73 -56.1,-73.6 -57.3,-74.7 -58.6,-75.1 -58.6,-75.5 -61.3,-76.1 -63.4,-76.2 -66.1,-76.1 -68.5,-76.1 -69.7,-76.4 -71.4,-77 -68.8,-77.3 -66.8,-77.4 -71,-77.6 -73.3,-78 -73.2,-78.4 -69.4,-78.9 -65.7,-79.4 -65.3,-79.8 -68,-80.1 -67.2,-80.5 -63.7,-81.2 -62.2,-81.3 -62.7,-81.8 -60.3,-82 -57.2,-82.2 -54.1,-82.2 -53,-81.9 -50.4,-82.4 -48,-82.1 -46.6,-82 -44.5,-81.7 -46.9,-82.2 -46.8,-82.6ZM-80.3,-73.7 -77,-72.9 -74.2,-71.8 -72.2,-71.6 -70.6,-71.1 -68.8,-70.5 -67.9,-70.1 -67,-69.2 -68.8,-68.7 -66.4,-68.1 -64.9,-67.8 -63.4,-66.9 -61.9,-66.9 -62.2,-66.2 -63.9,-65 -65.1,-65.4 -66.7,-66.4 -68,-66.3 -67.1,-65.1 -65.7,-64.6 -65.3,-64.4 -64.7,-63.4 -65,-62.7 -66.3,-62.9 -68.8,-63.7 -66.3,-61.9 -71,-62.9 -72.2,-63.4 -74.8,-64.7 -77.7,-64.2 -78.6,-64.6 -77.9,-65.3 -73.9,-65.5 -74.3,-66.5 -72.7,-67.3 -73.3,-68.1 -74.8,-68.6 -76.9,-69 -75.6,-69.5 -77.3,-69.8 -78.2,-70 -79.5,-69.9 -81.3,-69.7 -84.9,-70 -88.7,-70.4 -89.5,-70.8 -88.5,-71.2 -89.9,-71.2 -90.2,-72.2 -89.4,-73.1 -85.8,-73.8 -86.6,-73 -85.3,-73.1 -82.3,-73.8 -80.6,-72.7 -80.3,-73.7ZM-85.2,-79.3 -86.5,-79.7 -86.9,-80.3 -84.2,-80.2 -81.8,-80.5 -83.4,-80.1 -87.7,-80.4 -90,-81 -91.4,-81.6 -90.1,-82.1 -85,-82.4 -81.7,-82.8 -77.3,-82.9 -70.7,-83.1 -65,-82.8 -61.9,-82.6 -61.9,-82.4 -64.3,-81.9 -66.8,-81.7 -67.7,-81.5 -65.5,-81.5 -67.8,-80.9 -69.5,-80.6 -71.2,-79.8 -73.9,-79.4 -76.9,-79.3 -75.5,-79.2 -76.2,-79 -75.4,-78.5 -76.3,-78.2 -77.9,-77.9 -78.4,-77.5 -79.8,-77.2 -79.6,-77 -77.9,-77 -80.6,-76.2 -83.2,-76.5 -86.1,-76.3 -87.6,-76.4 -89.5,-76.5 -89.6,-77 -87.8,-77.2 -88.3,-77.9 -87.7,-78 -85,-77.5 -86.3,-78.2 -88,-78.4 -87.2,-78.8 -85.4,-79 -85.2,-79.3ZM-80.1,-74.6 -85.6,-74.4 -88.2,-74.4 -92.4,-74.8 -92.8,-75.4 -92.9,-75.9 -93.9,-76.3 -91.6,-76.8 -89.2,-76.3 -87.2,-76.4 -83.2,-76.5 -80.4,-76 -79.3,-75.5 -80.1,-74.6ZM-93.2,-81 -94.8,-81.2 -96.4,-80.3 -96,-79.7 -93.3,-79.4 -94.2,-79 -92.5,-78.6 -89,-78.3 -87.8,-78.9 -90,-79.3 -88.8,-80.2 -91,-80.8 -93.2,-81ZM-100.4,-70.7 -102.5,-70.5 -101.1,-69.6 -104.9,-69 -107.1,-69 -108.9,-68.8 -113.3,-68.5 -117.3,-70 -112.4,-70.4 -116.5,-70.9 -117.9,-71 -119,-71.5 -117.9,-72.7 -115.2,-73.3 -114.2,-72.7 -112.4,-73 -108.2,-71.7 -107.9,-72.7 -105.4,-72.7 -104.8,-71.7 -102.8,-71 -100.4,-70.7ZM-125.9,-71.9 -124.8,-73 -123.9,-73.7 -124.9,-74.3 -121.5,-74.5 -117.6,-74.2 -115.5,-73.5 -119.2,-72.5 -120.5,-71.4 -123.1,-71 -125.9,-71.9ZM-116.2,-77.6 -116.3,-76.2 -117.1,-75.5 -113.7,-75.8 -110.8,-75.5 -106,-75.5 -105.9,-76.6 -108,-76.6 -110.1,-77.2 -116.2,-77.6ZM-98.5,-76.7 -102.5,-76.3 -101.5,-75.6 -99,-75 -96.8,-75.5 -98.5,-76.7ZM-96.8,-72 -98.2,-71 -102.5,-72.5 -101.9,-73.1 -97.8,-73.3 -96.8,-72ZM-94.2,-72 -95.4,-72.1 -96,-73.4 -92.5,-74.1 -90.5,-73.9 -92.4,-72.7 -94.2,-72ZM-84,-65.2 -81.6,-64.5 -80.8,-64 -81.9,-63.2 -85.2,-63.1 -86.4,-64 -85.6,-65.9 -84,-65.2ZM-55.9,-51.6 -55.4,-51.6 -56.8,-49.8 -56.1,-50.2 -55.5,-49.9 -55.8,-49.6 -54.5,-49.6 -53.5,-49.2 -53.8,-48.5 -53.1,-48.7 -52.7,-47.5 -53.1,-46.7 -54.2,-46.8 -53.9,-47.6 -54.2,-47.8 -55.4,-46.9 -56,-47.6 -59.3,-47.6 -59.4,-48 -58.4,-49.1 -57.4,-50.7 -55.9,-51.6ZM-123.5,-48.5 -124,-48.4 -125.7,-48.8 -126,-49.2 -126.9,-49.5 -127.9,-50.1 -128.4,-50.8 -127.2,-50.6 -125.8,-50.3 -124.9,-49.5 -123.9,-49.1 -123.5,-48.5ZM-14.5,-66.5 -15.4,-66 -14.5,-65.1 -13.6,-65.1 -14.9,-64.4 -18.7,-63.5 -22.8,-64 -21.8,-64.4 -23.9,-64.9 -22.2,-65.1 -22.2,-65.4 -24.3,-65.6 -23.6,-66.3 -22.1,-66.4 -20.6,-65.7 -19.1,-66.3 -17.8,-66 -16.2,-66.5 -14.5,-66.5ZM-5.7,-50.1 -3.6,-50.3 -1,-50.8 1.4,-51.3 1.7,-52.7 0.5,-52.9 0.2,-53.3 -0.4,-54.5 -1.2,-54.6 -2,-55.9 -3.1,-56 -2.2,-56.9 -1.8,-57.6 -3.3,-57.7 -4.1,-57.6 -3.1,-58.6 -5,-58.6 -5.6,-57.9 -5.8,-57.3 -5.6,-56.3 -6.1,-56.1 -5.3,-55.1 -4.7,-54.8 -3.4,-54.8 -3.5,-54.1 -2.9,-53.8 -3.1,-53.3 -4.6,-53.4 -4.1,-52.9 -4.6,-52.3 -5.2,-51.9 -3.4,-51.4 -4.8,-51.2 -5.7,-50.1ZM-6.2,-53.9 -6,-53 -6.8,-52.3 -8.5,-51.7 -10,-51.8 -9.5,-52.6 -10,-53.4 -9.7,-54.1 -8.3,-54.7 -7.6,-55.1 -6.7,-55.2 -5.7,-54.6 -6.2,-53.9ZM15.1,-79.7 15.5,-80 17,-80.1 18.3,-79.9 21.5,-79 19,-78.6 18.5,-77.8 17.6,-77.6 17.1,-76.8 15.9,-76.8 13.8,-77.4 14.7,-77.7 13.2,-78 11.2,-78.9 10.4,-79.7 13.2,-80 13.7,-79.7 15.1,-79.7ZM27.4,-80.1 25.4,-80.4 22.9,-80.7 20.1,-80.4 17.4,-80.3 18.6,-79.9 22,-79.6 25,-79.8 27.4,-80.1ZM53.5,-73.7 55.9,-74.6 55.6,-75.1 58.5,-75.7 61.2,-76.3 64.5,-76.4 66.2,-76.8 68.2,-76.9 68.9,-76.5 68.2,-76.2 64.6,-75.7 61.6,-75.3 58.5,-74.3 57,-73.3 55.4,-72.4 55.6,-71.5 57.5,-70.7 56.9,-70.6 53.7,-70.8 53.4,-71.2 51.6,-71.5 51.5,-72 52.5,-72.2 52.4,-73 53.5,-73.7ZM102.8,-79.3 105.4,-78.7 105.1,-78.3 99.4,-77.9 101.3,-79.2 102.1,-79.3 102.8,-79.3ZM93.8,-81 95.9,-81.2 97.9,-80.7 100.2,-79.8 99.9,-78.9 97.8,-78.8 95,-79 93.3,-79.4 92.5,-80.1 91.2,-80.3 93.8,-81ZM138.8,-76.1 141.5,-76.1 145.1,-75.6 144.3,-74.8 140.6,-74.8 139,-74.6 137,-75.3 137.5,-75.9 138.8,-76.1ZM-178.7,-70.9 -180,-71.5 -180,-70.8 -178.7,-70.9ZM178.7,-71.1 180,-71.5 180,-70.8 178.7,-71.1ZM143.6,-50.7 144.7,-49 143.2,-49.3 142.6,-47.9 143.5,-46.8 143.5,-46.1 142.7,-46.7 142.1,-46 141.9,-46.8 142,-48 141.4,-52.2 141.9,-53.4 142.6,-53.8 142.2,-54.2 142.7,-54.4 142.9,-53.7 143.3,-52.7 143.2,-51.8 143.6,-50.7ZM141.4,-41.4 140,-41.4 139.8,-42.6 141.6,-45.2 143,-44.7 143.9,-44.2 144.6,-44 145.3,-44.4 145.5,-43.3 144.1,-43 143.2,-42 141.6,-42.7 141.1,-41.6 141.4,-41.4ZM141.9,-39.2 142,-40 141.4,-41.4 140,-40.6 139.9,-40 140.3,-38.9 139.9,-37.9 138.9,-37.8 137.8,-37 137.2,-36.8 136.7,-37.3 136.4,-36.4 135.4,-35.6 134.2,-35.6 132.6,-35.4 131.6,-34.7 130.9,-34.3 131.1,-33.9 132,-33.9 133,-34.3 133.5,-34.4 134.6,-34.7 135.1,-34.6 135.1,-33.9 135.8,-33.5 136.8,-34.3 137.2,-34.6 138.2,-34.7 138.9,-35 139.4,-35 139.9,-35.3 140.3,-35.1 140.6,-35.8 140.7,-36.9 141,-38.2 141.9,-39.2ZM130.9,-33.9 131.9,-33.2 131.9,-32.3 131.3,-31.4 130.6,-31 130.2,-31.4 130.4,-32.3 129.8,-32.6 129.4,-33.3 130.4,-33.6 130.9,-33.9ZM132.4,-33.5 132.9,-32.8 133.9,-33.5 134.6,-33.8 134.7,-34.2 133.3,-34.1 132.4,-33.5ZM121.8,-24.4 121.2,-22.8 120.7,-22 120.2,-22.8 120.1,-23.6 120.7,-24.5 121.5,-25.3 122,-25 121.8,-24.4ZM110.3,-18.7 109.5,-18.2 108.7,-18.5 108.6,-19.4 109.1,-19.8 110.2,-20.1 110.8,-20.1 111,-19.7 110.6,-19.3 110.3,-18.7ZM120.8,-18.5 121.3,-18.5 122.2,-18.5 122.5,-17.1 122,-16.3 121.7,-15.9 121.5,-15.1 121.7,-14.3 122.7,-14.3 124,-13.8 123.9,-13.2 124.2,-12.6 123.3,-13 122.9,-13.6 122.5,-13.9 121.7,-13.9 121.1,-13.6 120.6,-13.9 120.7,-14.3 121,-14.5 120.7,-14.8 120.6,-14.4 120.1,-15 119.9,-15.4 119.9,-16.4 120.3,-16 120.4,-17.6 120.7,-18.5 120.8,-18.5ZM126.4,-8.4 126.5,-7.8 126.2,-6.3 125.8,-7.3 125.4,-6.8 125.7,-6 125.4,-5.6 124.2,-6.2 123.9,-6.9 124.2,-7.4 123.6,-7.8 123.3,-7.4 122.8,-7.5 122.1,-6.9 121.9,-7.2 122.3,-8 122.9,-8.3 123.5,-8.7 123.8,-8.2 124.6,-8.5 124.8,-9 125.5,-9 125.4,-9.8 126.2,-9.3 126.4,-8.4ZM122,-11.4 122.9,-10.9 123.5,-10.9 124,-10.3 125,-11.3 125,-12.5 124.3,-12.6 123.1,-11.2 122.5,-11.6 122,-11.4ZM117.9,-1.8 119,-0.9 117.8,-0.8 117.5,-0.1 117.5,0.8 116.6,1.5 116.5,2.5 116.1,4 116,3.7 114.9,4.1 114.5,3.5 113.8,3.4 113.3,3.1 112.1,3.5 111.7,3 111,3 110.2,2.9 110.1,1.6 109.6,1.3 109.1,0.5 109,-0.4 109.1,-1.3 109.7,-2 109.8,-1.3 110.5,-1.7 111.2,-1.9 111.4,-2.7 111.8,-2.9 113,-3.1 113.7,-3.9 114.9,-4.3 115.5,-5.4 116.2,-6.1 116.7,-6.9 117.1,-6.9 117.6,-6.4 117.7,-6 118.3,-5.7 119.2,-5.4 119.1,-5 118.4,-5 118.6,-4.5 117.9,-4.1 117.3,-3.2 118,-2.3 117.9,-1.8ZM95.3,-5.5 97.5,-5.2 98.4,-4.3 99.7,-3.2 100.6,-2.1 101.7,-2.1 102.5,-1.4 103.1,-0.6 103.8,-0.1 103.4,0.7 104,1.1 104.4,1.1 104.5,1.8 104.9,2.3 105.6,2.4 106.1,3.1 105.9,4.3 105.8,5.9 104.7,5.9 103.9,5 102.6,4.2 102.2,3.6 101.4,2.8 100.9,2.1 100.1,0.7 99.3,-0.2 99,-1 98.6,-1.8 97.7,-2.5 97.2,-3.3 96.4,-3.9 95.4,-5 95.3,-5.5ZM106.1,6 107.3,6 108.3,6.3 108.5,6.4 108.6,6.8 110.5,6.9 110.8,6.5 112.6,6.9 113,7.6 114.5,7.8 115.7,8.4 114.6,8.8 113.5,8.3 112.6,8.4 111.5,8.3 110.6,8.1 109.4,7.7 108.7,7.6 108.3,7.8 106.5,7.4 106.3,6.9 105.4,6.8 106.1,6ZM116,8.5 117.5,8.4 118.9,8.3 119.9,8.6 121.3,8.5 122.9,8.1 122.8,8.6 121.3,8.9 119.9,8.9 118.3,8.9 116.7,9 116,8.5ZM125.1,8.6 126.6,8.4 127.3,8.4 126.6,8.9 125,9.4 123.6,10.4 123.5,10.2 124,9.3 125.1,8.6ZM125.2,-1.4 124.4,-0.4 123.7,-0.2 122.7,-0.4 120.2,-0.2 120,0.5 120.9,1.4 121.5,1 123.3,0.6 123.3,1.1 122.5,1 121.5,1.9 122.5,3.2 122.3,3.5 123.2,4.7 122.6,5.3 122.2,5.3 122.7,4.5 121.7,4.9 121.5,4.6 121.6,4.2 120.9,3.6 121,2.6 120.3,2.9 120.4,5.5 119.8,5.7 119.4,5.4 119.7,4.5 119.5,3.5 119.1,3.5 118.8,2.8 119.2,2.1 119.3,1.4 119.8,-0.2 120,-0.6 120.9,-1.3 121.5,-1.1 122.9,-0.9 124.1,-0.9 125.1,-1.6 125.2,-1.4ZM127.9,-2.2 128,-1.6 128.6,-1.5 128.7,-1.1 128.1,-0.4 128.4,0.8 127.7,0.3 127.4,-1 127.6,-1.8 127.9,-2.2ZM128.7,3.4 130.5,3.1 130.8,3.9 130,3.4 128.1,3.4 128.7,3.4ZM134.1,1.2 134.4,2.8 135.5,3.4 136.3,2.3 137.4,1.7 138.3,1.7 139.2,2.1 139.9,2.4 141,2.6 142.7,3.3 144.6,3.9 145.3,4.4 145.8,4.9 146,5.5 147.6,6.1 147.9,6.6 147,6.7 147.2,7.4 148.1,8 148.7,9.1 149.3,9.1 149.3,9.5 150,9.7 149.7,9.9 150.8,10.3 150,10.7 149.8,10.4 148.9,10.3 147.9,10.1 147.1,9.5 146.6,8.9 146,8.1 144.7,7.6 143.9,7.9 143.3,8.2 143.4,9 142.6,9.3 142.1,9.2 141,9.1 140.1,8.3 139.1,8.1 138.9,8.4 137.6,8.4 138,7.6 138.7,7.3 138.4,6.2 137.9,5.4 136,4.5 135.2,4.5 133.7,3.5 133.4,4 133,4.1 132.8,3.7 132.8,3.3 132,2.8 133.1,2.5 133.8,2.5 133.7,2.2 132.2,2.2 131.8,1.6 130.9,1.4 130.5,0.9 131.9,0.7 132.4,0.4 134,0.8 134.1,1.2ZM152,5.5 150.8,6.1 150.2,6.3 149,6 148.3,5.6 149.3,5.6 150.1,5 150.9,5.5 151.6,4.8 152.3,4.3 152,5.5ZM81.8,-7.5 81.6,-6.5 81.2,-6.2 80.3,-6 79.9,-6.8 79.7,-8.2 80.1,-9.8 80.8,-9.3 81.3,-8.6 81.8,-7.5ZM142.5,10.7 142.8,11.2 143.1,11.9 143.2,12.3 143.5,12.8 143.6,13.4 143.6,14 144.6,14.2 145.4,15 145.3,15.4 145.5,16.3 145.6,16.8 146.2,17.8 146.1,18.3 146.4,19 148.2,20.1 148.8,20.4 149.7,22.3 150.1,22.1 150.6,22.6 150.7,23.5 151.6,24.1 152.1,24.5 152.9,25.3 153.1,26.1 153.2,26.6 153.1,27.3 153.6,28.1 153.5,29 153.1,30.4 153.1,30.9 152.9,31.6 152.5,32.6 151.7,33 151.3,33.8 151,34.3 150.7,35.2 150.3,35.7 150.1,36.4 149.9,37.1 150,37.4 149.4,37.8 148.3,37.8 147.4,38.2 146.9,38.6 146.3,39 145.5,38.6 144.9,38.4 145,37.9 144.5,38.1 143.6,38.8 142.7,38.5 142.2,38.4 141.6,38.3 140.6,38 140,37.4 139.8,36.6 139.6,36.1 138.9,35.5 138.2,35.6 138.4,35.1 138.6,34.4 138.1,34 137.7,35.1 136.8,35.3 137.4,34.7 137.5,34.1 137.9,33.6 137.8,32.9 137,33.8 136.4,34.1 136,34.9 135.2,34.5 135.2,33.9 134.6,33.2 134.1,32.8 134.3,32.6 133,32 132.3,32 131.3,31.5 129.5,31.6 128.2,32 127.1,32.3 126.1,32.2 125.1,32.7 124.2,33.5 124,34 123.7,33.9 122.8,33.9 122.2,34 121.3,33.8 120.6,33.9 119.9,34 119.3,34.5 119,34.5 118.5,34.7 118,35.1 117.3,35 116.6,35 115.6,34.4 115,34.2 115,33.6 115.5,33.5 115.7,33.3 115.7,32.9 115.7,32.3 115.8,31.6 115.4,30.6 115,30 115,29.5 114.6,28.8 114.6,28.5 114.2,28.1 114,27.3 113.5,26.5 113.3,26.1 113.8,26.5 113.4,25.6 113.9,25.9 113.7,25.3 113.5,24.4 113.8,23.1 113.7,22.5 114.1,21.8 114.2,22.5 114.6,21.8 115.5,21.5 116.7,20.7 117.4,20.7 118.2,20.4 118.8,20.3 119.3,20 120.9,19.7 121.4,19.2 121.7,18.7 122.2,18.2 122.3,17.3 123,16.4 123.4,17.3 123.9,17.1 123.5,16.6 123.8,16.1 124.3,16.3 124.4,15.6 125.2,15.3 125.2,14.7 125.7,14.5 126.1,14.3 126.1,14.1 127.1,13.8 127.8,14.3 128.4,14.9 129,14.9 129.6,15 129.4,14.4 129.9,13.6 130.3,13.4 130.2,13.1 130.6,12.5 131.2,12.2 131.7,12.3 132.6,12.1 132.6,11.6 131.8,11.3 132.4,11.1 133,11.4 133.6,11.8 134.4,12 134.7,11.9 135.3,12.2 135.9,12 136.3,12 136.5,11.9 136.9,12.3 136.7,12.9 136.3,13.3 136,13.3 136.1,13.7 135.8,14.2 135.4,14.7 135.5,15 136.3,15.6 137.1,15.9 137.6,16.2 138.3,16.8 138.6,16.8 139.1,17.1 139.3,17.4 140.2,17.7 140.9,17.4 141.1,16.8 141.3,16.4 141.4,15.8 141.7,15 141.6,14.6 141.5,13.7 141.7,12.9 141.8,12.7 141.7,12.4 141.9,11.9 142.1,11.3 142.1,11 142.5,10.7ZM147.7,40.8 148.3,40.9 148.4,42.1 148,42.4 147.9,43.2 147.6,42.9 146.9,43.6 146.7,43.6 146,43.5 145.4,42.7 145.3,42 144.7,41.2 144.7,40.7 145.4,40.8 146.4,41.1 146.9,41 147.7,40.8ZM173,34.5 174.3,35.3 174.6,36.2 175.3,37.2 175.4,36.5 175.8,36.8 176.8,37.9 177.4,38 178,37.6 178.5,37.7 178.3,38.6 178,39.2 177.2,39.1 176.9,39.4 177,39.9 176,41.3 175.2,41.7 175.1,41.4 174.7,41.3 175.2,40.5 174.9,39.9 173.8,39.5 173.9,39.1 174.6,38.8 174.7,38 174.7,37.4 174.3,36.7 174.3,36.5 173.8,36.1 173.1,35.2 172.6,34.5 173,34.5ZM173,40.9 173.2,41.3 174.2,41.3 174.2,41.8 173.9,42.2 173.2,43 172.7,43.4 173.1,43.9 172.3,43.9 171.5,44.2 171.2,44.9 170.6,45.9 169.8,46.4 169.3,46.6 168.4,46.6 167.8,46.3 166.7,46.2 166.5,45.9 167,45.1 168.3,44.1 168.9,43.9 169.7,43.6 170.5,43 171.1,42.5 171.6,41.8 171.9,41.5 172.1,41 172.8,40.5 173,40.9ZM-82.3,-23.2 -80.6,-23.1 -79.7,-22.8 -79.3,-22.4 -78.3,-22.5 -77.1,-21.7 -76.5,-21.2 -75.6,-21 -75.7,-20.7 -74.9,-20.7 -74.2,-20.3 -74.3,-20.1 -75,-19.9 -75.6,-19.9 -77.8,-19.9 -77.1,-20.4 -77.5,-20.7 -78.1,-20.7 -78.5,-21 -78.7,-21.6 -79.3,-21.6 -80.2,-21.8 -80.5,-22 -81.8,-22.2 -82.2,-22.4 -81.8,-22.6 -82.8,-22.7 -83.5,-22.2 -83.9,-22.2 -84.1,-21.9 -84.5,-21.8 -85,-21.9 -84.4,-22.2 -84.2,-22.6 -83.8,-22.8 -82.3,-23.2ZM-71.7,-19.7 -71.6,-19.9 -70.8,-19.9 -70.2,-19.6 -69.9,-19.6 -69.8,-19.3 -69.2,-19.3 -69.3,-19 -68.8,-19 -68.3,-18.6 -68.7,-18.2 -69.2,-18.4 -70,-18.4 -70.1,-18.2 -70.5,-18.2 -70.7,-18.4 -71,-18.3 -71.4,-17.6 -71.7,-17.8 -71.7,-18 -72.4,-18.2 -72.8,-18.1 -73.5,-18.2 -74.5,-18.3 -74.4,-18.7 -73.4,-18.5 -72.7,-18.4 -72.3,-18.7 -72.8,-19.1 -72.8,-19.5 -73.4,-19.6 -73.2,-19.9 -72.6,-19.9 -71.7,-19.7ZM-77.6,-18.5 -76.9,-18.4 -76.4,-18.2 -76.2,-17.9 -76.9,-17.9 -77.2,-17.7 -77.8,-17.9 -78.3,-18.2 -78.2,-18.5 -77.6,-18.5ZM-66.3,-18.5 -65.6,-18.2 -65.8,-18 -66.6,-18 -67.2,-17.9 -67.1,-18.5 -66.3,-18.5ZM-61.2,51.9 -60,51.3 -59.2,51.5 -57.8,51.6 -58.1,51.9 -58.6,52.1 -59.6,52.2 -60.7,52.3 -61.2,51.9ZM-68.6,52.3 -68.3,53.1 -67.6,54 -67,54.9 -67.3,55.3 -68.1,55.6 -69.2,55.5 -70,55.2 -71,55.1 -72.3,54.5 -73.3,54 -74.7,52.8 -73.8,53 -72.4,53.7 -71.1,54.1 -70.6,53.6 -70.3,52.9 -69.3,52.5 -68.6,52.3ZM-155.5,-19.1 -155.7,-18.9 -155.9,-19.1 -156.1,-19.7 -155.9,-20.2 -155.2,-20 -154.8,-19.5 -155.5,-19.1ZM-156.1,-20.6 -156.7,-20.9 -157.3,-21.1 -158,-21.7 -158.3,-21.6 -157.7,-21.3 -156.7,-20.5 -156.1,-20.6ZM-159.3,-22.2 -159.8,-22.1 -159.6,-21.9 -159.3,-22.2ZM-153.2,-58 -152.6,-57.9 -152.1,-57.6 -153,-57.1 -154,-56.7 -154.5,-57 -154.7,-57.5 -153.2,-58ZM9.4,-43 9.6,-42.2 9.2,-41.4 8.8,-41.6 8.5,-42.3 8.7,-42.6 9.4,-43ZM9.2,-41.2 9.8,-40.5 9.7,-39.2 9.2,-39.2 8.8,-38.9 8.4,-39.2 8.4,-40.4 8.2,-41 8.7,-40.9 9.2,-41.2ZM15.5,-38.2 15.2,-37.4 15.3,-37.1 15.1,-36.6 14.3,-37 13.8,-37.1 12.4,-37.6 12.6,-38.1 13.7,-38 14.8,-38.1 15.5,-38.2ZM23.7,-35.7 24.2,-35.4 25,-35.4 25.8,-35.4 25.7,-35.1 26.3,-35.3 26.2,-34.9 24.7,-35 24.7,-35.1 23.5,-35.3 23.7,-35.7ZM34,-35.1 34.6,-35.7 33.9,-35.2 33.5,-35.2 32.7,-35.1 32.3,-35.1 32.8,-34.6 33.7,-34.9 34,-35.1ZM12.7,-55.6 12.1,-54.8 10.9,-55.8 12.4,-56.1 12.7,-55.6ZM18.7,-57.9 18.2,-57.2 18.2,-57.6 18.7,-57.9ZM148,-45.3 147,-44.6 146.9,-44.9 148,-45.3ZM165.8,21.1 167.1,22.2 166.7,22.4 165.5,21.7 164.2,20.4 164,20.1 164.5,20.1 165.8,21.1ZM178.4,17.3 178.7,17.6 178.6,18.2 177.9,18.3 177.4,18.2 177.3,17.7 177.7,17.4 178.4,17.3ZM167.2,15.9 167.8,16.5 167.5,16.6 167.2,15.9ZM160.9,9.9 160.5,9.4 159.8,9.2 159.6,9.6 160.4,9.9 160.9,9.9ZM161.7,9.6 161.5,9.8 160.8,8.9 160.6,8.5 161.3,9.1 161.7,9.6ZM155.9,6.8 155.2,6.5 154.7,5.9 154.5,5.1 154.9,5.2 155.5,6.2 155.9,6.8ZM152.3,3.8 151.9,3.5 151.2,3 150.7,2.7 151.3,2.9 152,3.5 152.6,4.1 152.8,4.8 152.3,3.8ZM92.7,-12.8 92.9,-13.4 93,-12.6 92.6,-11.7 92.7,-12.8ZM-15.4,-28.1 -15.6,-27.9 -15.8,-28.2 -15.4,-28.1ZM-23.5,-15 -23.8,-15.2 -23.6,-14.9 -23.5,-15ZM-166.5,-53.9 -167.1,-53.5 -168.1,-53.4 -167.5,-53.9 -166.5,-53.9ZM-172.5,-52 -174.5,-52.1 -176.5,-51.9 -177.6,-51.7 -176.5,-51.6 -174.4,-51.9 -172.5,-52ZM-168.9,-63.2 -170.7,-63.4 -171.5,-63.3 -171.8,-63.7 -170.1,-63.6 -168.9,-63.2ZM-165.6,-59.9 -166.8,-59.9 -167.2,-60.2 -165.6,-60.3 -165.6,-59.9ZM-36.4,54.2 -37.8,54 -38.1,54.1 -36.5,54.6 -36.4,54.2ZM68.9,48.6 69.6,48.9 70.5,49.1 69.6,49.7 68.7,49.2 68.9,48.6ZM57.6,20.2 57.3,20.5 57.7,20.5 57.6,20.2ZM55.5,20.9 55.2,21.2 55.8,21.3 55.5,20.9ZM-105.5,-79.3 -100.1,-78.3 -99.7,-77.9 -101.3,-78 -102.9,-78.3 -105.2,-78.4 -104.2,-78.7 -105.5,-79.3ZM-96,-69 -98.4,-69 -99,-69.7 -97.5,-69.9 -96.3,-69.6 -96,-69ZM-82,-62.9 -83,-62.2 -84,-62.3 -82,-62.9ZM50,-80.9 51.5,-80.7 55,-80.8 57,-81 59,-80.8 61,-80.9 60,-81.5 56,-81.7 52,-81.3 50,-80.9ZM127.9,-26.1 128.2,-26.6 127.7,-26.4 127.9,-26.1ZM126.2,-33.5 126.9,-33.4 126.5,-33.2 126.2,-33.5ZM3.1,-39.8 3.3,-39.4 2.4,-39.5 3.1,-39.8ZM119.5,-11.4 119,-10.4 118.5,-9.3 117.2,-8.4 117.7,-9.1 118.4,-9.7 119,-10.6 119.5,-11.4ZM121.3,-12.2 120.8,-12.7 120.3,-13.5 121.2,-13.4 121.5,-13 121.3,-12.2ZM105.8,1.5 106.2,2 106.8,3 106.1,2.8 105.3,2 105.8,1.5ZM119,9.6 120.8,9.9 120.4,10.3 119,9.6ZM134.2,5.8 134.7,6.2 134.2,6.9 134.2,5.8ZM126,3.1 127.2,3.4 126.9,3.8 126.2,3.6 126,3.1ZM-172,13.6 -172.7,13.7 -172.4,13.9 -172,13.6ZM-91.3,0.3 -91.6,0.9 -91,0.9 -91.3,0.3ZM-77.5,-26.8 -77.8,-26.6 -77.9,-26.9 -77.5,-26.8ZM-77.8,-24.7 -78.3,-24.3 -77.8,-23.7 -77.8,-24.7ZM-61.7,-10.8 -60.9,-10.9 -61,-10.1 -61.9,-10 -61.7,-10.8ZM-63.7,-49.9 -62,-49.4 -63.6,-49.4 -64.5,-49.9 -63.7,-49.9ZM-63.8,-46.4 -62,-46.5 -62.5,-46 -64.2,-46.4 -63.8,-46.4ZM-60.4,-47 -61.5,-46.3 -60.6,-45.6 -59.8,-46 -60.4,-47ZM-132.7,-54 -131.7,-54.1 -132,-53 -131.2,-52.2 -132.2,-52.5 -133.1,-53.4 -132.7,-54ZM-132.7,-56.1 -133.6,-55.9 -133.2,-55 -132.1,-55 -132.7,-56.1ZM46.7,-44.6 47.3,-45.6 48.6,-46.4 49.1,-46.4 50.3,-46.9 51.2,-47 52,-46.8 53,-46.9 53.2,-46.2 53,-45.3 52.2,-45.4 51.3,-45.2 51.3,-44.5 50.3,-44.6 50.3,-44.3 51.3,-43.1 52.5,-42.8 52.7,-42.4 52.9,-42.1 52.8,-41.6 53,-41.1 52.8,-40.7 53.9,-40.6 54,-40 53.4,-40 53.2,-39.3 53.1,-38.7 53.9,-37.2 53.8,-36.9 52.3,-36.7 51.1,-36.7 50.4,-37.1 49.8,-37.2 49.2,-37.6 48.9,-38.3 48.9,-38.8 49.2,-39.1 49.4,-39.4 49.6,-40.2 50.1,-40.5 50.4,-40.3 49.8,-40.6 49.2,-41.3 48.6,-41.8 47.5,-43 47.5,-43.7 47,-44 46.7,-44.6Z"/></g>
<g id="borders" fill="none" stroke="#333" stroke-width="0.55" stroke-linejoin="round"><path d="M-123,-49 -95.2,-49 -95,-49.4 -94.6,-48.7 -93.2,-48.6 -91,-48.2 -89.6,-48 -88.4,-48.3 -84.9,-46.9 -84.6,-46.4 -84.1,-46.3 -83.6,-46.1 -82.4,-45.3 -82.1,-43.6 -82.4,-43 -83.1,-42.1 -82.7,-41.7 -81.3,-42.2 -80.2,-42.4 -78.9,-42.9 -79.2,-43.5 -76.8,-43.6 -76.3,-44.2 -75.2,-44.9 -74.7,-45 -71.5,-45 -71.1,-45.3 -70.7,-45.4 -70,-46.7 -69.2,-47.4 -68.2,-47.4 -67.8,-47.1 -67.8,-45.7 -67.1,-45.1M-141,-69.6 -141,-60.3 -139.1,-60 -137.5,-58.9 -135.5,-59.8 -134.3,-58.9 -133.4,-58.4 -132.2,-57 -130,-55.9 -130,-55.3M-117.1,-32.5 -114.7,-32.7 -114.8,-32.5 -111,-31.3 -108.2,-31.3 -108.2,-31.8 -106.5,-31.8 -105.6,-31.1 -104.5,-29.6 -103.1,-29 -102.5,-29.8 -101.4,-29.8 -100.5,-28.5 -99.5,-27.5 -99.1,-26.4 -97.5,-25.9M-92.2,-14.5 -92.2,-15.1 -91.7,-16.1 -90.4,-16.1 -91.4,-17.3 -90.8,-17.2 -90.5,-17.8 -89.2,-17.8 -88.9,-17.9 -88.3,-18.5M-89.2,-17.8 -89.2,-15.9 -88.2,-15.7M-89.2,-15.9 -89.2,-14.5 -89.6,-14.4 -90.1,-13.7M-89.3,-14.4 -88.5,-13.9 -87.8,-13.9 -87.7,-13.3M-87.3,-13 -86.6,-13.7 -85.8,-14 -85,-14.6 -84.5,-14.8 -83.2,-15M-85.7,-11.1 -84.8,-11 -84.4,-10.9 -83.7,-10.9M-82.9,-8.1 -82.8,-8.6 -82.9,-9.1 -82.6,-9.6M-71.9,-11.6 -72.4,-11.1 -72.9,-10.4 -73.3,-9.2 -72.8,-9.1 -72.4,-8.4 -72.4,-7.4 -71.1,-7 -70.1,-7 -69.4,-6.1 -67.7,-6.3 -67.3,-6.1 -67.5,-5.6 -67.8,-4.5 -67.3,-3.5 -67.3,-2.2 -67.1,-1.1M-67.1,-1.1 -67.9,-1.7 -69.8,-1.7 -69.8,-1.1 -69.2,-1 -69.3,-0.6 -70,-0.5 -70,0.2 -69.6,0.5 -69.4,1.1 -69.9,4.3M-69.9,4.3 -70.7,3.7 -70.4,3 -71.4,2.3 -72.3,2.4 -73.1,2.3 -73.7,1.3 -74.1,1 -74.4,0.5 -75.1,0.1 -75.4,0.1M-75.4,0.1 -75.8,-0.1 -76.3,-0.4 -77.4,-0.4 -77.7,-0.8 -78.9,-1.4M-75.4,0.1 -75.2,0.9 -75.5,1.6 -76.6,2.6 -77.8,3 -78.5,3.8 -79,5 -79.6,4.5 -80.4,4.4 -80.3,3.4M-60.7,-8.6 -60.2,-8.6 -59.8,-8.4 -60.6,-7.8 -60.6,-7.4 -61.1,-7 -61.1,-6.7 -61.4,-6 -60.7,-5.2M-60.7,-5.2 -60.6,-4.9 -60,-5 -60.1,-4.6 -59.8,-4.4 -59.5,-4 -59.8,-3.6 -59.8,-3.3 -60,-2.8 -59.7,-1.8 -59,-1.3 -58.5,-1.3 -58.4,-1.5 -57.7,-1.7 -57.3,-1.9 -56.8,-1.9 -56.5,-1.9M-60.7,-5.2 -61.4,-5.2 -62.8,-4 -63.1,-3.8 -64.6,-4.1 -64.8,-3.8 -64.4,-3.1 -64.3,-2.5 -63.4,-2.4 -63.4,-2.2 -64.1,-1.9 -64.2,-1.5 -65.4,-1.1 -65.5,-0.8 -66.3,-0.7 -66.9,-1.3 -67.1,-1.1M-57.1,-5.9 -57.1,-5.2 -57.3,-4.9 -57.9,-4.8 -57.9,-4.2 -57.3,-3.3 -57.2,-2.8 -56.5,-1.9M-56.5,-1.9 -55.9,-2 -55.9,-1.9 -55.1,-2.5 -54.5,-2.3 -54.1,-2.1 -53.8,-2.4 -53.6,-2.3 -52.9,-2.1 -52.6,-2.5 -51.7,-4.2M-54,-5.7 -54.5,-4.9 -54.4,-4.2 -54,-3.6 -54.2,-3.2 -54.5,-2.3M-69.9,4.3 -70.8,4.3 -72.2,5 -72.9,5.3 -73.2,6.1 -73.7,6.9 -74,7.5 -73.6,8.4 -73,9 -72.6,9.5 -72.2,10.1 -71.3,10.1 -70.5,9.5 -70.5,11 -69.5,10.9M-69.5,10.9 -68.7,12.6 -68.9,12.9 -68.9,14.5 -69.3,14.9 -69.4,15.7 -69,16.5 -69.6,17.6 -69.9,18.1M-69.9,18.1 -70.4,18.4M-69.5,10.9 -68.8,11 -68.3,10.9 -67.2,10.3 -66.6,9.9 -65.3,9.8 -65.4,11.6 -64.3,12.5 -63.2,13 -62.1,13.2 -61.7,13.5 -60.5,13.8 -60.2,15.1 -60.5,15.1 -60.2,16.3 -58.3,16.3 -58.4,16.9 -58.3,17.3 -57.7,17.6 -57.5,18.2 -57.7,19 -58.2,19.9M-69.9,18.1 -69.1,18.3 -69,19 -68.4,19.4 -68.8,20.4 -68.2,21.5 -67.8,22.9 -67.1,22.7M-67.1,22.7 -66.3,21.8 -65,22.1 -64.4,22.8 -64,22 -62.8,22M-62.8,22 -62.3,21.1 -62.3,20.5 -61.8,19.6 -60,19.3 -59.1,19.4 -58.2,19.9M-58.2,19.9 -58.2,20.2 -57.9,20.7 -57.9,22.1 -56.9,22.3 -56.5,22.1 -55.8,22.4 -55.6,22.7 -55.5,23.6 -55.4,24 -54.7,23.8 -54.3,24.6 -54.6,25.7M-62.8,22 -62.7,22.2 -61.9,23.4 -60,24 -58.8,24.8 -57.8,25.2 -57.6,25.6 -58.6,27.1 -57.6,27.4 -56.5,27.5 -55.7,27.4 -54.8,26.6 -54.6,25.7M-54.6,25.7 -53.6,26.1 -53.7,26.9 -55.2,27.9 -56.3,28.9 -57.6,30.2M-57.6,30.2 -58.1,32 -58.1,33 -58.4,33.9M-57.6,30.2 -56.9,30.1 -56,31 -55.6,30.9 -54.6,31.5 -53.8,32 -53.2,32.7 -53.7,33.2 -53.4,33.8M-67.1,22.7 -67.3,24 -68.4,24.5 -68.6,26.5 -68.3,26.9 -69,27.5 -69.7,28.5 -70,29.4 -69.9,30.3 -70.5,31.4 -70.1,33.1 -69.8,34 -70.4,36 -71.1,36.7 -71.1,37.6 -70.8,38.6 -71.4,38.9 -71.7,39.8 -71.9,40.8 -71.7,42.1 -72.1,42.3 -71.9,43.4 -71.5,44 -71.8,44.2 -71.3,44.4 -71.2,44.8 -71.7,45 -71.6,45.6 -71.9,46.9 -72.5,47.7 -72.3,48.2 -72.6,48.9 -73.4,49.3 -73.3,50.4 -73,50.7 -72.3,50.7 -72.3,51.4 -71.9,52 -69.5,52.1 -68.6,52.3M-68.6,52.6 -68.6,54.9M-1.8,-34.9 -1.7,-33.9 -1.4,-32.9 -1.1,-32.7 -1.3,-32.3 -2.6,-32.1 -3.1,-31.7 -3.6,-31.6 -3.7,-30.9 -4.9,-30.5 -5.2,-30 -6.1,-29.7 -7.1,-29.6 -8.7,-28.8 -8.7,-27.7 -8.7,-27.4M-8.7,-27.7 -13.2,-27.7M-8.7,-27.4 -8.7,-25.9 -12,-25.9 -12,-23.5 -13.1,-22.8 -13,-21.3 -17,-21.4M-8.7,-27.4 -4.9,-25M-4.9,-25 -6.5,-25 -6,-20.6 -5.5,-16.3 -5.3,-16.2 -10,-15.9 -11.3,-15.4 -11.5,-15.6 -12.2,-14.6M-4.9,-25 1.8,-20.6 2.7,-20.2 3.1,-19.7 3.2,-19.1 4.3,-19.2M4.3,-19.2 5.7,-19.6 7.8,-20.9 12,-23.5M12,-23.5 11.6,-25 10.3,-24.4 9.9,-25.4 9.3,-26.1 9.9,-27 9.8,-29.4 9.5,-30.3M8.4,-36.9 8.2,-36.4 8.4,-35.5 8.1,-34.7 7.5,-33.8 8.4,-32.7 9.1,-32.1 9.5,-30.3M9.5,-30.3 10.1,-31 10,-31.4 10.7,-32 11.5,-32.4 11.4,-33.1M25.2,-31.6 24.8,-31.1 24.9,-30.7 24.7,-30 25,-29.2 25,-22M25,-22 36.9,-22M25,-22 25,-20 24,-20 24,-19.5 15.9,-23.4M15.9,-23.4 14.9,-22.9 14.1,-22.5 13.6,-23 12,-23.5M15.9,-23.4 15.7,-20 15.3,-17.9 15.2,-16.6 14,-15.7 13.5,-14.4 14,-13.4M4.3,-19.2 4.3,-16.9 3.7,-15.6 2.8,-15.4 1,-15 0.4,-15M0.4,-15 -0.3,-14.9 -0.5,-15.1 -1.1,-15 -2,-14.6 -2.2,-14.2 -3,-13.8 -3.1,-13.5 -3.5,-13.3 -4,-13.5 -4.3,-13.2 -4.4,-12.5 -5.2,-11.4 -5.2,-10.4 -5,-10.2M0.4,-15 0.4,-14 1,-13.3 1,-12.9 2.2,-12.6 2.1,-11.9 1.4,-11.5 0.9,-11M2.1,-11.9 2.7,-12.2 3.6,-11.7 4.4,-13 5.4,-13.9 6.4,-13.6 7.3,-13.1 8.1,-13 9,-12.8 10,-13.3 11,-13.4 12.3,-13 13.1,-13.6 14,-13.4M3.6,-11.7 3.6,-11.3 3.8,-10.4 3.6,-10.3 3.1,-9.4 2.7,-8.5 2.7,-6.3M0.9,-11 0.6,-11 0,-11 -0.4,-11.1 -0.8,-11 -1.2,-11 -2.9,-11 -3,-10.4 -2.8,-9.6 -3.5,-9.9 -4.3,-9.6 -5,-10.2M0.9,-11 0.5,-10.6 0.4,-9.5 0.6,-8.3 0.5,-7.4 0.6,-6.9 1.1,-6M-0.1,-11 -0.1,-10.7 0.4,-9.5M0,-11 0,-10.3 0.4,-9.2 0.2,-8 0.6,-6.9 0.1,-5.7 -0.5,-5.3M1.9,-11 1.6,-9 1.6,-6.8 1.2,-6.1M-2.9,-11 -3,-10.4 -2.8,-9.6 -2.6,-8.2 -3.2,-6.3 -2.9,-5.4 -2.9,-5M-5,-10.2 -5.4,-10.4 -6.1,-10.1 -6.5,-10.4 -7.6,-10.1 -8.1,-10.2 -8.3,-9.8 -7.8,-8.6 -8.4,-7.7 -8.5,-7.4 -7.5,-5.3 -7.5,-4.4M-12.2,-14.6 -12.5,-13.6 -11.9,-13 -11.5,-12.4 -10.9,-12.2 -10.2,-11.8 -9.3,-12.3 -8.9,-12.1 -8.6,-11.1 -8.1,-10.2M-17.6,-14.7 -16.7,-15.6 -16.4,-16.1 -15.1,-16.6 -14.1,-16.6 -13.4,-16 -12.2,-14.6M-16.7,-13.6 -15.6,-13.7 -15,-13.9 -14.4,-13.6 -13.8,-13.5 -14.6,-13.4 -15.1,-13.5 -15.5,-13.3 -16.8,-13.2M-16.6,-12.2 -15.5,-12.3 -13.7,-12.6 -13.7,-12.2 -13.9,-12.1 -13.7,-11.8 -14.1,-11.7 -15.1,-11.1M-12.2,-14.6 -12.2,-12.4 -11.5,-12.4M-13.3,-9.5 -12.4,-9.9 -11.1,-10 -10.8,-9.7 -10.6,-9.3 -10.5,-8.3 -11.1,-8.4 -11.4,-8 -11.4,-6.8M-10.8,-9.7 -10.3,-8.5 -9.4,-7.5 -8.9,-7.3 -8.5,-7.4M14,-13.4 14.6,-13.3 14.5,-12.1 14.9,-11.5 15.5,-10 14.9,-10 14.6,-9.9 15.5,-9.9 15.7,-9.3 15,-8.7 15.6,-7.7 16.1,-7.5 17,-7.6 18.4,-8.3 19.1,-9 20.1,-9.1 21,-9.5 21.7,-10.6 22.2,-11 22.9,-11.4 22.9,-12.3 22.3,-12.6 21.9,-12.6 22,-13 22.2,-13.8 22.5,-14.1 22.6,-14.9 23,-15.7 23.9,-15.6 24,-19.5M24,-19.5 24,-15.7M14,-13.4 13.5,-12.3 13.1,-11.8 12.8,-10.5 12.3,-9 11.8,-8.4 10.9,-6.9 10.2,-6.5 9.5,-6.4 8.9,-5 8.5,-4.8M14.6,-13.3 14.9,-12.2 14.5,-12.1M15.5,-10 15.2,-9 14.4,-6.2 15,-4.8 15.4,-3.3 16,-2.3 16,-1.7M15.6,-7.7 16.6,-7.6 18.4,-8.3M9.6,-2.3 11.3,-2.3 13,-2.3 14.5,-2.2 15.9,-1.7 16,-1.7M11.3,-2.3 11.3,-1 9.8,-1.1M16,-1.7 17.1,-3.7 18.5,-3.5 19.5,-5 21.7,-4.2 23,-4.6 24.8,-4.9 26.4,-5.2 27.2,-5.6 27.4,-5 28.7,-4.5 30.8,-3.5M16,-1.7 17.8,0.7 17.5,1.6 16.4,2.7 16,3.5 14.6,5 13,4.8 12,5M11.3,-1 11.3,0.5 9.5,2M13,-2.3 13.2,-1.2 14.3,-1.3 14.5,0.5 13.9,0.9 14.2,2 13.1,2.4 11.8,2.5 11.1,3.9M12.3,6.1 13.6,5.9 16.3,5.9 16.9,7.2 17.5,8.1 19,8 19.4,7.2 20.1,7.1 20.5,6.9 21.7,7.3 22,9.9 22.2,11.1 23.9,10.9 24,12.9 21.9,12.9 22,16.1 23.2,17.5 20.9,18.3 18.3,17.3 14.2,17.4 13.5,17 11.7,17.3M30.8,-3.5 30.8,-1.8 31.2,-1.1 29.9,-0.6 29.6,0.6 29.6,1.3 29.3,2.2 29,2.8 29.3,3.3 29.4,5.9 29.7,6.6 30.8,8.3 28.4,8.5 28.9,9.7 28.5,10.8 28.4,11.8 29.3,12.4 29.6,12.2 29.7,13.3 28.9,13.2 27.4,12.1 26.6,11.9 25.4,11.3 24.3,11.3 23.9,10.9M24,-15.7 24,-12.7 23.9,-12 22.9,-11.4M24,-12.7 24.8,-12.4 26,-10.8 27.1,-10.7 28,-10.5 29,-9.4 30.4,-10 31.9,-10.5 32.4,-11.1 32.3,-12.2 33.2,-12.2 33.1,-11.4 33.8,-9.5 34.3,-10.6 34.8,-10.9 35.6,-12.4 36.3,-13.6 36.5,-14.3 36.4,-15.1 37,-17 38.4,-18 38.4,-18M22.9,-11.4 23.9,-10.1 24.6,-8.3 25.1,-8 25.8,-7 26.2,-6.5 27.2,-5.6M33.8,-9.5 34,-8.7 33,-7.8 33.6,-7.7 34.8,-6.6 35.3,-5.5 35.9,-4.8M27.2,-5.6 29.6,-4.6 30.8,-3.5M30.8,-3.5 31.9,-3.6 33.4,-3.8 34,-4.2 35.9,-4.8M35.9,-4.8 36.2,-4.5 37.7,-4.4 38.5,-3.6 39.6,-3.4 40.8,-4.3 41.9,-3.9M33.9,-4.2 34.5,-2.9 35,-1.9 34,-0.1 33.9,0.9M29.6,1.3 30.5,1.1 30.8,1 33.9,0.9M29,2.8 30.4,2.4 30.5,1.1M29.4,2.9 30.5,2.4 30.7,3.4 29.8,4.5 29.3,4.5M33.9,0.9 37.7,3.1 37.8,3.7 39.2,4.7M41.9,-3.9 41,0.9 41.6,1.7M41.9,-3.9 42.9,-4.3 44.1,-4.9 45.6,-5 47.8,-8 44.6,-8.8 43.3,-9.5 43,-10 42.8,-11M38.4,-18 38.4,-17.5 39.3,-15.9M36.4,-15.1 37.9,-15 39.3,-14.5 40.9,-14.1M41.7,-11.4 42.4,-12.5 42.8,-12.5M41.7,-11.4 41.8,-11.6 42.3,-11 42.8,-11 43.1,-11.5M40.3,10.3 39,10.9 37.5,11.6 36.5,11.7 35.3,11.4 34.6,11.5M30.8,8.3 32.2,8.9 33.2,9.7 33.5,10.5 33.1,11.6 33.3,12.4 32.7,13.7 33.2,14 34.5,14.6 35.3,16.1 35,16.8 34.4,16.2 34.3,15.5 34.5,14.6 34.6,11.5 34.3,10.2 33.7,9.4 32.8,9.2 32.2,8.9M30.8,8.3 29.6,6.6M33.1,11.6 33.2,14 30.3,15.5 29.5,16 28.8,16.4 27.6,17.3 25.3,17.7 23.2,17.5M30.3,15.5 30.3,16 31.2,15.9 32.8,16.7 32.6,20.3 32.5,21.5 31.2,22.3 29.4,22.1 28,21.5 27.7,20.5 26.2,19.3 25.3,17.7M25.3,17.7 24.2,17.9 23.6,18.3 21,18.3 20.9,21.8 19.9,22 19.9,24.8 20.2,24.9 20.8,25.9 20.9,26.8 21.6,26.7 22.8,25.5 23.3,25.3 25,25.7 25.7,25.5 26.5,24.6 27.1,23.6 28,22.8 29.4,22.1M20,24.8 19.9,28.5 17.4,28.8 16.3,28.6M31.2,22.3 31.9,24.4 32,26.3 32.9,26.2 32.6,27.5M29,29 28.5,28.6 27.5,29.2 27,29.9 27.7,30.6 28.1,30.5 29.3,29.6 29,29M31.5,25.7 31.9,25.8 31.9,26.3 31.3,27.3 30.7,26.7 31,26 31.5,25.7M-1.9,-43.4 -0.5,-42.8 0.7,-42.8 1.8,-42.3 3,-42.5M-9,-41.9 -8.3,-42.1 -6.7,-41.9 -6.4,-41.4 -6.9,-40.9 -7,-40.2 -7.1,-39.7 -7.5,-39.6 -7,-39 -7.4,-38.4 -7,-38.1 -7.5,-37.4M2.5,-51.1 3.6,-50.4 4.3,-49.9 5.7,-49.5 6.2,-49.5 6.7,-49.2 7.6,-49 8.1,-49 7.6,-47.6 6,-46.3 6.8,-46 7,-45.3 6.8,-44.5 7.5,-43.8M3.3,-51.3 4,-51.3 5,-51.5 5.6,-51 6.2,-51 5.9,-50.1 6.1,-50.1 6.2,-49.5M6.2,-51 6.2,-51.9 7.1,-52.2 6.7,-52.5 7,-53.1 7.1,-53.7M8.1,-49 7.6,-47.6 8.5,-47.8 9.6,-47.5 10.4,-47.3 12.1,-47.7 13,-47.5 12.9,-48.3 13.8,-48.8 12.7,-49.4 12.5,-50.3 14.3,-51.1 14.7,-51.1 14.6,-51.7 14.7,-52.1 14.4,-53.2 14.3,-53.9M6,-46.3 7.3,-45.9 8.4,-46 9,-45.8 10.4,-46.5 10.4,-47.3M9.6,-47.5 9.5,-47.1 10.4,-46.5 12.2,-47 13.7,-46.5 15.5,-46.7 16.5,-47.7 17.1,-48M12.1,-47.7 13,-47.5 12.9,-48.3 13.8,-48.8 14.8,-49 16.3,-48.7 16.9,-48.6 17.1,-48M13.8,-48.8 14.4,-48.6 15,-49 16.9,-48.6 17.9,-48.9 18.9,-49.4 18.6,-49.9 17.6,-50.4 16.7,-50.2 16.2,-50.7 15,-51.1 14.7,-51.1M17.1,-48 18.9,-47.8 20.7,-48.6 22.1,-48.4 22.6,-49.1 21.6,-49.5 19.8,-49.2 18.9,-49.4M16.5,-47.7 16.2,-46.9 16.6,-46.5 17.6,-46 18.9,-45.9 20.2,-46.1 21.6,-46.7 22.1,-48.4M13.7,-45.5 14.9,-45.5 15.3,-45.7 15.7,-46.2 16.6,-46.5M15.3,-45.7 16.5,-45.2 17.9,-45.1 19,-44.9 19.4,-44.9 19.2,-44.4 19.6,-44 19.4,-43.5 19.2,-43.5 18.7,-43.2 18.5,-42.5M19,-44.9 19.4,-45.2 18.9,-45.9M15.7,-44.3 16,-43.6M19.2,-43.5 19.5,-43.4 20.3,-42.9 20.6,-43.2 21,-43 20.6,-42.9 20.3,-42.3 20,-42 19.4,-41.9M20.3,-42.3 20.6,-41.9 20.5,-41.1 21,-40.6 20.7,-40.4 20.2,-39.6M20.6,-41.9 22.4,-42.3 22.9,-41.3 21,-40.9M21,-40.6 22.6,-41.1 23.4,-41.1 24.3,-41.6 25.2,-41.2 26.1,-41.3 26.6,-41.6 28,-42M22.4,-42.3 22.5,-42.5 22.9,-43.2 22.5,-43.6 22.6,-44.2 25.6,-43.7 27.2,-44.2 28.6,-43.7M19.4,-44.9 19.4,-44 19.6,-43.2 21.6,-42.2 22.4,-42.3M20.2,-46.1 20.8,-45.7 21,-45.2 21.5,-44.8 22.5,-44.7 22.7,-44.2 22.6,-44.2M22.1,-48.4 23.1,-48.1 24.4,-48 24.9,-47.7 26.6,-48.2 28.3,-47.8 28.2,-46.4 28.1,-45.6 29.6,-45.3M26.6,-48.2 26.9,-48.1 27.6,-48.5 28.7,-48.1 29.8,-46.5 30,-46.4 29.6,-45.3M22.6,-49.1 23.9,-50.4 24.1,-50.9 23.5,-51.6 24,-52.1 23.5,-52.7 23.8,-53.1 23.5,-53.9 22.7,-54.3 19.7,-54.4M22.7,-54.3 23.3,-54.2 24.5,-53.9 25.5,-54.3 26.5,-55.6 25.5,-56.2 24.9,-56.4 21.6,-56.4M22.7,-54.3 21.3,-55.2M26.5,-55.6 28.2,-56.2 27.8,-57.2 27.3,-57.5 25.3,-58 23.3,-57.9M27.3,-57.5 27.7,-57.8 27.4,-58.7 28,-59.5M23.9,-50.4 24.6,-50.4 26.1,-51.9 27.5,-51.6 28.9,-51.6 30.2,-51.4 30.6,-51.8 31.8,-52.1 32.7,-52.2 33.8,-52.3 35,-51.2 37.6,-50.4 38.6,-49.9 40.1,-49.6 39.7,-48.8 40.1,-48.3 39.7,-47.9 38.8,-47.8 38.2,-47.1M26.5,-55.6 28.2,-56.2 30.9,-55.1 30.9,-55.6 31.8,-54 31.8,-53 32.7,-52.2M28.2,-56.2 30.9,-55.6M30.9,-55.6 30.9,-55.1M28,-59.5 28.1,-60.5 29.1,-61.2 30.2,-61.8 31.5,-62.9 29.7,-64.2 30.2,-65.1 29.4,-66.1 29.9,-67.5 28.4,-68.4 28.6,-69.1 29.4,-69.2 31.1,-69.6M28.6,-69.1 25.7,-68.9 24.7,-68.6 23.6,-68.9 22.4,-68.8 21.2,-69.4 20.6,-69.1M20.6,-69.1 20,-68.6 18,-68.6 17.7,-68 16.1,-67.3 15.1,-66.2 13.6,-65 13.5,-64.6 14.1,-64.2 12.6,-63.6 12,-61.8 12.6,-61.3 12.3,-60.1 11.5,-59.4 11,-58.9M21.2,-69.4 23.9,-66M40.1,-49.6 44.4,-50.5M40.1,-49.6 40.7,-49.4M36.9,-41.3 40.4,-41 41.6,-41.5M41.6,-41.5 42.6,-41.6 43.6,-41.1 43.6,-40.3 43.8,-40 44.8,-39.7 44.4,-38.3 44.2,-38 44.8,-37.2 44.3,-37 43,-37.4 42.4,-37.2 41.2,-37.1 40,-36.9 38.7,-36.7 37.1,-36.6 36.7,-36.3 36.2,-36.7M41.6,-41.5 42.4,-42 43.6,-42.7 44.5,-42.7 45.5,-42.5 46.4,-41.9 46.7,-41.4 46.2,-41.2 45,-41.2 43.6,-41.1M45.5,-42.5 46.4,-41.9 47.3,-41.2 47.8,-41.2 48.6,-41.8M44.8,-39.7 45.6,-39.6 46.5,-38.8 47.7,-39.5 48.4,-39.4 48,-38.8 48.6,-38.3 48.9,-38.3M45,-41.2 45.2,-41 45.6,-39.6M44.8,-37.2 45.4,-36 46.1,-35.7 46.1,-35.1 45.6,-34.7 45.4,-34 46.1,-33 47.3,-32.5 47.8,-31.7 47.7,-31 48,-31 48,-30.5 48.6,-29.9M42.4,-37.2 41.3,-36.4 41,-34.4 38.8,-33.4 39.2,-32.2 40.4,-31.9 42,-31.1 44.7,-29.2 46.6,-29.1 47.5,-29 47.7,-28.5 48.4,-28.6M46.6,-29.1 47.5,-29 48,-30 47.7,-31M36.2,-36.7 36.4,-36 36,-35.8 36.1,-35.3 35.9,-34.8 36.6,-34.2 35.8,-33.3 35.6,-33.3 35.1,-33.1M38.8,-33.4 36.8,-32.3 36.1,-32.5 35.7,-32.7 35.6,-33.3M35.5,-32.4 35.5,-31.8 35.4,-31.1 35,-29.5M34.3,-31.2 34.9,-29.5M36.1,-32.5 37,-31.5 38,-30.5 37.5,-30 36.7,-29.9 36.1,-29.2 35,-29.5M38.8,-33.4 39.2,-32.2M36.1,-29.2 37.5,-30 38,-30.5 39.2,-32.2M48.4,-28.6 48.4,-28.5M51.6,-24.2 51.6,-24 52,-23 55,-22.5 55.2,-22.7 55.7,-22 55,-20 52,-19 50.8,-18.3 49.1,-18.6 48.2,-18 47.5,-17.1 47,-16.9 46.7,-17.3 45.4,-17.3 44.1,-17.4 43.4,-17.6 43.1,-17.1 42.8,-16.3M52,-19 53.1,-16.7M55.7,-22 56,-24 55.9,-24.9 56.4,-25.9M56,-24 55.2,-22.7M51.6,-24.2 51.1,-24.6M44.8,-39.7 44.1,-39.4 44.4,-38.3 44.2,-38M44.2,-38 44.8,-37.2M48.9,-38.3 48.3,-38.6 48,-38.8M44.8,-39.7 44.4,-38.3M48.9,-38.3 49,-38.4M53.9,-37.2 54.8,-37.4 55.5,-38 57.3,-38 59.2,-37.4 60.4,-36.5 61.1,-36.5 61.2,-35.7 60.8,-34.4 60.5,-33.7 60.9,-33.5 60.5,-33 60.9,-32.2 60.9,-31.5 61.7,-31.4 61.8,-30.7 60.9,-29.8 61.4,-29.3 61.8,-28.7 62.7,-28.3 62.8,-27.4 63.2,-27.2 63.3,-26.8 61.9,-26.2 61.5,-25.1M61.2,-35.7 62.2,-35.3 63,-35.4 63.2,-35.9 64,-36.3 64.5,-36.3 64.7,-37.1 65.6,-37.3 65.7,-37.7 66.2,-37.4 66.5,-37.4 67.1,-37.4 67.8,-37.1 68.1,-37 68.9,-37.3 69.2,-37.2 69.5,-37.6 70.1,-37.6 70.3,-38 70.8,-38.5 71.3,-37.9 71.5,-37.9 71.4,-37.1 71.8,-36.7 72.9,-37 73.6,-37.5 75,-37.4M60.9,-29.8 62.5,-29.3 63.6,-29.5 64.1,-29.3 64.4,-29.6 65,-29.5 66.3,-29.9 66.4,-30.7 67,-31.3 67.7,-31.3 68.6,-31.7 68.9,-31.6 69.3,-31.9 69.3,-32.5 69.7,-33.1 70.3,-33.4 69.9,-34 70.9,-34 71.2,-34.3 71.1,-34.7 71.6,-35.2 71.5,-35.7 71.3,-36.1 71.8,-36.5 71.8,-36.7M61.9,-26.2 61.5,-25.1M66.5,-25.4 67.1,-24.7M68.2,-23.7 68.8,-24.4 69.5,-24.3 70.8,-24.4 71.1,-24.7 70.6,-25 70.3,-25.7 70.2,-26.5 69.5,-26.9 70.2,-27.9 71.8,-27.9 72.8,-29 73.5,-30 74.4,-31 74.4,-31.7 75.3,-32.3 74.5,-32.8 74.1,-33.4 74.2,-34.7 75.8,-34.5 76.9,-34.7 77.8,-35.5M73.6,-37.5 75,-37.4 75.2,-37.1 76.2,-35.9 77.8,-35.5M77.8,-35.5 78.9,-34.3 78.8,-33.5 79.2,-33 79.2,-32.5 78.5,-32.6 78.7,-31.5 79.7,-30.9 80.6,-30.4 81.1,-30.2M81.1,-30.2 80.1,-28.8 81,-28.4 82,-27.9 83.3,-27.4 84.7,-27.2 85.3,-26.7 86,-26.6 87.2,-26.4 88.1,-26.4 88.2,-26.8 88.1,-27.4 88.1,-27.9M81.1,-30.2 82.3,-30.1 83.3,-29.5 83.9,-29.3 84.2,-28.8 85,-28.6 85.8,-28.2 87,-28 88.1,-27.9M88.1,-27.9 88.7,-28.1 88.8,-27.3 88.8,-27.1 89.7,-26.7 90.4,-26.9 91.2,-26.8 92,-26.8 92.1,-27.5 91.7,-27.8 90,-28.3 89.5,-28 88.8,-27.3M88.1,-26.4 88.2,-25.8 88.9,-25.2 88.3,-24.9 88.1,-24.5 88.7,-24.2 88.5,-23.6 89,-22.9 89,-22.1M88.8,-26.3 89.4,-26 89.8,-26 90.9,-25.1 92,-25.2 92.4,-25 91.8,-24.2 91.5,-24.1 91.7,-23 92.1,-23.6 92.4,-22 92.6,-21.3 92.4,-20.7M92,-26.8 93.4,-27 94.6,-27.3 95.6,-28 96.1,-29.5 97.3,-28.3M92.4,-25 93.4,-25 94.2,-25.9 95.1,-26.6 96.4,-27.3 97.1,-27.7 97.3,-28.3M92.6,-21.3 93.1,-22.7 93.3,-24.1 94.1,-23.9 94.4,-24.7 94.6,-25.2M97.3,-28.3 97.4,-27.9 98.2,-27.7 98.7,-27.5 98.9,-26.7 98.7,-25.9 97.7,-25.1 97.7,-24 98.7,-24.1 98.9,-23.1 99.5,-22.9 99.2,-22.1 100,-21.7 100.4,-21.6 101.2,-21.4 101.2,-21.8 101.8,-22.5 102.2,-22.5 102.7,-22.7 103.5,-22.7 104.5,-22.8 105.3,-23.4 105.8,-23 106.7,-22.8 106.6,-22.2 107,-21.8M97.7,-24 99.2,-22.1M99.5,-20.2 100.1,-20.4 100.5,-20.1 100.6,-20.2 101.2,-21.4M99.5,-20.2 99,-19.8 98.3,-19.7 97.8,-18.6 97.4,-18.4 97.9,-17.6 98.5,-16.8 98.9,-16.2 98.5,-15.3 98.2,-15.1 98.4,-14.6 99.1,-13.8 99.2,-13.3 99.2,-12.8 99.6,-11.9 99.2,-11M100.1,-20.4 100.6,-19.5 101.3,-19.5 101.1,-18.4 101.1,-17.5 102.1,-18.1 102.4,-17.9 103,-18 103.2,-18.3 104,-18.2 104.7,-17.4 104.8,-16.4 105.6,-15.6 105.5,-14.7 105.2,-14.3 104.3,-14.4 103,-14.2 102.3,-13.4 102.6,-12.2M105.6,-15.6 106,-14.4 106.5,-14.6 107.4,-14.2 107.6,-13.5 107.5,-12.3 105.8,-11.6 106.2,-11 105.2,-10.9 104.3,-10.5M101.2,-21.4 101.8,-21.2 101.7,-22.3 102.2,-22.5M101.8,-21.2 102.1,-20 103.2,-20.8 104.4,-20.8 104.8,-19.9 103.9,-19.3 105.1,-18.7 106.6,-17.4 107.3,-15.9 107.6,-15.2 107.4,-14.2M100.1,-6.5 101.1,-5.7 101.8,-5.8 102.1,-6.2M72.6,-21.4 72.6,-21.4M47.3,-50.3 46.7,-49.4 47,-49.2 46.5,-48.4 47.3,-47.7 48.1,-47.7 49.1,-46.4M47.3,-50.3 48.6,-50 48.7,-50.6 50.8,-51.7 52.3,-51.7 55.7,-50.6 56.8,-51 58.4,-51.1 59.6,-50.5 61.3,-50.8 61.6,-51.3 60,-52 60.9,-52.4 60.7,-52.7 61.7,-53 61,-53.7 61.4,-54 65.2,-54.4 68.2,-55 69.1,-55.4 71.2,-54.1 73.4,-53.5 74.4,-53.5 76.5,-54.2 77.8,-53.4 80,-50.9 80.6,-51.4 81.9,-50.8 83.4,-51.1 85.1,-50.1 85.5,-49.7 86.8,-49.8 87.4,-49.2M87.4,-49.2 86.6,-48.5 85.8,-48.5 85.2,-47 83.2,-47.3 82.5,-45.5 81.9,-45.3 80,-44.9 80.9,-43.2 80.3,-42.3 80.1,-42.1 78.5,-41.6 78.2,-41.2 76.9,-41.1 76.5,-40.4 75.5,-40.6 74.8,-40.4 73.8,-39.9 74,-39.7 73.7,-39.4 73.7,-39.1 73.9,-38.5 74.3,-38.6 74.9,-38.4 74.8,-38 75,-37.4M87.4,-49.2 88,-48.6 88.9,-48.1 90.3,-47.7 91,-46.9 90.6,-45.7 91,-45.3 93.5,-45 95.3,-44.2 96.3,-42.7 97.5,-42.7 99.5,-42.5 100.8,-42.7 103.3,-41.9 104.5,-41.9 105.9,-41.3 107.3,-42 109.5,-42.5 111.1,-43.4 111.8,-43.7 111.6,-44.5 112.4,-44.9 113.5,-44.8 114.5,-45.3 116,-45.7 116.7,-46.4 117.4,-46.7 118.9,-46.8 119.8,-46.7 119.7,-47 118.9,-47.7 117.3,-47.7 116.3,-47.9 115.7,-47.7 115.5,-48.1 116.2,-49.1M87.4,-49.2 87.8,-49.3 88.8,-49.5 90.7,-50.3 92.2,-50.8 93.1,-50.5 94.1,-50.5 94.8,-50 96,-49.9 97.3,-49.7 98.2,-50.4 97.8,-51 98.9,-52 100.9,-51.5 102.1,-51.3 102.3,-50.5 103.7,-50.1 104.6,-50.3 106.9,-50.3 107.9,-49.8 109.4,-49.3 110.7,-49.1 111.6,-49.4 112.9,-49.5 114.4,-50.2 115,-50.1 115.5,-49.8 116.7,-49.9M116.7,-49.9 117.9,-49.5 119.3,-50.1 119.3,-50.6 120.2,-51.6 120.7,-52 120.7,-52.5 120.2,-52.8 121,-53.3 122.2,-53.4 123.6,-53.5 125.1,-53.2 125.9,-52.8 126.6,-51.8 126.9,-51.4 127.3,-50.7 127.7,-49.8 129.4,-49.4 130.6,-48.7 131,-47.8 132.5,-47.8 133.4,-48.2 135,-48.5 134.5,-47.6 134.1,-47.2 133.8,-46.1 133.1,-45.1 131.9,-45.3 131,-45 131.3,-44.1 131.1,-42.9 130.8,-42.2M116.7,-49.9 116.2,-49.1M130.6,-42.4 130,-43 129.6,-42.4 128.1,-42 127.3,-41.5 126.9,-41.8 126.2,-41.1 125.1,-40.6 124.3,-39.9M128.3,-38.6 127.8,-38.3 127.1,-38.3 126.7,-37.8 126.2,-37.7M49.1,-46.4 49.1,-46.4M53,-42.1 54.1,-42.3 54.8,-41.4 55.5,-41.3 56,-41.3 55.9,-45 58.5,-45.6 58.7,-45.5 60.2,-44.8 61.1,-44.4 62,-43.5 64.9,-43.7 66.1,-43 66,-42 66.5,-42 66.7,-41.2 68,-41.1 68.6,-40.7 69.1,-41.4 70.4,-42.1 71,-42.3 71.8,-42.8 73.5,-42.5 73.6,-43.1 74.2,-43.3 76,-43 77.7,-43 79.1,-42.9 80.3,-42.3M52.5,-41.8 52.9,-42.1M53.9,-37.2 55.5,-38 57.3,-38 58.4,-37.5 59.2,-37.4M56,-41.3 57.1,-41.3 56.9,-41.8 58.6,-42.8 60,-42.2 60.5,-41.2 61.5,-41.3 61.9,-41.1 62.4,-40.1 63.5,-39.4 64.2,-39 65.2,-38.4 66.5,-38 66.5,-37.4M68.6,-40.7 69,-40.1 68.5,-39.5 67.7,-39.6 67.4,-39.1 68.2,-38.9 68.4,-38.2 67.8,-37.1M69,-40.1 70.6,-39.9 70.7,-40.2 71.8,-40.1 73.1,-40.9 71.9,-41.4 71.2,-42.7M70.6,-39.9 69.5,-39.5 70.5,-39.6 71.8,-39.3 73.7,-39.4M73.1,-40.9 73.8,-39.9M141,2.6 141,9.1M109.7,-2 110.4,-1.7 111.2,-1 112.4,-1.4 112.9,-1.5 113.8,-1.2 114.6,-1.4 115.1,-2.8 115.5,-3.2 115.9,-4.3 117.9,-4.1M125,9.4 125.1,8.6M-71.7,-19.7 -71.6,-19.2 -71.9,-18.8 -71.7,-18.3 -71.7,-17.8M-7.6,-55.1 -6.7,-55.2M-6.7,-55.2 -7.4,-54.6 -7.6,-54.1 -6.3,-54.1M33.1,-11.4 33,-12M24,-12.7 24,-12.7"/></g>
</defs>
<defs>
<clipPath id="clip_a"><rect x="31.3" y="17.5" width="194.70" height="84.40"/></clipPath>
<clipPath id="clip_b"><rect x="31.4" y="129.9" width="193.10" height="84.20"/></clipPath>
<clipPath id="clip_c"><rect x="29.4" y="242.5" width="195.30" height="84.10"/></clipPath>
<clipPath id="clip_d"><rect x="275.4" y="16.5" width="188.10" height="81.30"/></clipPath>
<clipPath id="clip_e"><rect x="275.4" y="129.4" width="188.10" height="81.60"/></clipPath>
<clipPath id="clip_f"><rect x="275.4" y="241.4" width="188.10" height="82.10"/></clipPath>
</defs>
<g clip-path="url(#clip_a)">
<g transform="matrix(0.54083,0,0,0.56267,128.6500,68.1400)">
<g clip-path="url(#land)" fill="#d9d9d9" stroke="none"><path d="M-126.6,-49.4 -86.8,-49.4 -82.8,-43.6 -81.2,-35.9 -82.0,-29.8 -88.4,-30.6 -96.3,-29.8 -99.5,-29.0 -104.3,-31.3 -117.1,-32.9 -123.4,-37.4 -126.6,-43.6ZM-81.8,-0.6 -75.2,-0.6 -75.2,5.8 -81.8,5.8ZM-64.8,23.2 -50.4,23.2 -50.4,35.6 -64.8,35.6ZM-75.5,43.9 -66.9,43.9 -66.9,56.3 -75.5,56.3ZM-9.0,-61.0 16.6,-63.1 35.7,-61.0 35.7,-42.2 -9.0,-41.6ZM81.9,-40.0 121.3,-41.9 126.2,-38.2 126.2,-24.3 81.9,-24.3Z"/></g>
<g clip-path="url(#land)" stroke="none"><path fill="#ebebeb" d="M-49.6,13.3 -38.6,13.3 -38.6,21.1 -49.6,21.1ZM-51.9,12.2 -39.0,12.2 -39.0,24.6 -51.9,24.6ZM35.7,-61.0 50.6,-57.0 50.6,-42.7 35.7,-42.2ZM55.0,-54.5 120.4,-55.8 121.3,-49.3 55.0,-49.3ZM75.2,-51.9 87.7,-51.9 87.7,-44.6 75.2,-44.6ZM23.0,-1.9 39.7,-1.9 39.7,23.1 23.0,23.1ZM142.8,12.8 154.7,12.8 154.7,32.7 142.8,32.7Z"/><path fill="url(#py)" d="M-108.8,-43.6 -106.5,-43.6 -106.5,-35.9 -108.8,-35.9ZM-122.6,-52.8 -121.0,-52.8 -121.0,-51.2 -122.6,-51.2ZM-108.3,-52.8 -106.7,-52.8 -106.7,-51.2 -108.3,-51.2ZM-103.5,-47.4 -101.9,-47.4 -101.9,-45.9 -103.5,-45.9ZM-93.9,-34.4 -92.3,-34.4 -92.3,-32.9 -93.9,-32.9ZM-87.6,-32.9 -86.0,-32.9 -86.0,-31.3 -87.6,-31.3ZM-83.6,-29.8 -82.0,-29.8 -82.0,-28.3 -83.6,-28.3ZM-74.6,-5.9 -72.4,-5.9 -72.4,-3.8 -74.6,-3.8ZM-69.1,24.6 -63.3,24.6 -63.3,38.4 -68.3,39.8 -69.3,32.9ZM-7.9,-43.7 3.8,-43.7 3.8,-36.5 -7.9,-36.5ZM14.4,-41.6 18.7,-41.6 18.7,-37.6 14.4,-37.6ZM29.3,-39.6 33.6,-39.6 33.6,-35.5 29.3,-35.5ZM21.9,-59.0 24.0,-59.0 24.0,-57.0 21.9,-57.0ZM11.3,-65.1 13.4,-65.1 13.4,-63.1 11.3,-63.1ZM104.0,-35.4 107.9,-35.4 107.9,-32.6 104.0,-32.6ZM109.8,-32.6 112.7,-32.6 112.7,-29.8 109.8,-29.8ZM9.6,-6.9 12.2,-6.9 12.2,-4.4 9.6,-4.4ZM30.4,1.7 39.7,1.7 39.7,8.8 30.4,8.8ZM28.6,10.6 34.1,10.6 34.1,19.5 28.6,19.5ZM146.0,23.5 149.1,23.5 149.1,26.6 146.0,26.6Z"/><path fill="url(#po)" d="M-113.9,-52.8 -110.7,-52.8 -110.7,-47.4 -113.9,-47.4ZM-78.4,12.2 -71.2,12.2 -71.2,15.6 -76.9,15.6ZM-4.7,-41.6 -0.4,-41.6 -0.4,-38.6 -4.7,-38.6ZM20.8,-40.6 25.1,-40.6 25.1,-36.5 20.8,-36.5ZM35.7,-41.6 38.9,-41.6 38.9,-37.6 35.7,-37.6ZM38.9,-42.7 50.6,-44.7 50.6,-34.5 38.9,-33.5ZM40.0,-24.3 44.7,-24.3 46.4,-16.1 42.1,-16.1ZM-22.8,-68.2 -14.3,-68.2 -14.3,-65.1 -22.8,-65.1ZM50.2,-51.1 76.2,-51.9 77.1,-43.7 50.2,-43.7ZM77.1,-42.8 86.7,-47.4 93.5,-49.3 120.4,-50.2 120.4,-40.0 93.5,-36.7 78.1,-32.6ZM35.8,-41.9 47.3,-41.9 47.3,-32.6 35.8,-32.6ZM40.6,-22.4 43.9,-22.4 43.9,-16.9 40.6,-16.9ZM80.0,-26.1 86.2,-26.1 86.2,-21.5 80.0,-21.5ZM100.8,-26.7 105.4,-26.7 105.4,-22.2 100.8,-22.2ZM35.1,-15.3 42.0,-15.3 42.0,-5.5 35.1,-5.5ZM42.0,-21.6 44.9,-21.6 44.9,-16.2 42.0,-16.2ZM12.7,11.5 18.3,11.5 18.3,17.8 12.7,17.8ZM13.7,23.1 30.4,23.1 30.4,30.3 13.7,30.3ZM122.8,30.4 126.8,30.4 126.8,34.3 122.8,34.3Z"/><path fill="url(#pO)" d="M47.3,-43.7 80.0,-43.7 79.0,-30.8 70.4,-28.0 49.2,-28.0Z"/><path fill="url(#pr)" d="M-121.0,-45.1 -113.9,-47.4 -110.7,-48.9 -106.7,-46.6 -103.5,-46.6 -101.9,-42.0 -103.5,-34.4 -98.7,-30.6 -97.9,-28.3 -100.3,-27.5 -105.1,-30.6 -108.3,-32.9 -115.5,-32.1 -120.2,-34.4 -121.8,-39.0ZM-109.9,-30.6 -104.3,-26.0 -100.3,-20.6 -97.1,-17.5 -99.5,-16.0 -104.3,-20.6 -107.5,-24.4 -110.7,-28.3ZM-79.8,6.0 -77.4,6.0 -77.4,8.5 -79.8,8.5ZM-78.0,9.9 -75.6,9.9 -75.6,12.2 -78.0,12.2ZM-75.8,13.3 -73.4,13.3 -73.4,15.4 -75.8,15.4ZM-71.8,15.4 -64.1,15.4 -64.1,21.1 -71.8,21.1ZM-71.9,15.6 -64.8,15.6 -64.0,23.2 -64.8,31.5 -61.9,39.8 -63.3,44.6 -67.6,50.1 -71.2,50.8 -72.6,42.5 -72.6,28.7ZM-11.1,-36.5 3.8,-36.9 3.8,-32.0 -9.0,-28.4ZM52.1,-49.3 74.2,-49.6 74.2,-44.6 52.1,-44.6ZM55.0,-41.9 64.6,-41.9 64.6,-37.2 55.0,-37.2ZM64.6,-34.5 74.2,-34.5 74.2,-28.9 64.6,-28.9ZM79.0,-40.9 87.7,-45.9 93.5,-47.8 118.5,-48.3 118.5,-40.9 93.5,-38.5 80.0,-34.8ZM36.4,-14.4 40.7,-14.4 40.7,-9.1 36.4,-9.1ZM23.9,-14.4 26.1,-14.4 26.1,-12.3 23.9,-12.3ZM16.5,28.5 27.6,28.5 27.6,35.6 16.5,35.6ZM114.9,28.9 122.8,28.9 122.8,35.8 114.9,35.8ZM126.8,29.7 150.7,29.7 150.7,38.1 126.8,38.1Z"/><path fill="url(#pR)" d="M-118.6,-32.9 -112.3,-25.2 -113.9,-24.4 -119.4,-30.6ZM-71.9,17.7 -69.1,17.7 -69.1,30.1 -70.5,39.8 -71.9,39.8ZM93.5,-45.6 114.6,-46.5 114.6,-41.9 93.5,-40.0ZM134.8,31.2 147.5,31.2 147.5,35.8 134.8,35.8Z"/><path fill="#ffffff" d="M52.1,-36.3 57.9,-36.3 57.9,-30.8 52.1,-30.8ZM62.7,-40.0 66.5,-40.0 66.5,-36.3 62.7,-36.3ZM74.2,-35.4 78.1,-35.4 78.1,-31.7 74.2,-31.7ZM85.8,-36.3 91.5,-36.3 91.5,-33.5 85.8,-33.5ZM95.4,-35.9 99.2,-35.9 99.2,-33.5 95.4,-33.5Z"/></g>
<use href="#borders"/>
<use href="#coast"/>
</g></g>
<g clip-path="url(#clip_b)">
<g transform="matrix(0.53639,0,0,0.56133,127.9500,180.4200)">
<g clip-path="url(#land)" fill="#d9d9d9" stroke="none"><path d="M-127.2,-50.1 -82.2,-50.1 -77.4,-42.4 -75.8,-34.7 -80.6,-30.1 -91.8,-29.3 -91.8,-17.8 -99.9,-17.1 -111.1,-24.0 -120.8,-33.2 -127.2,-39.3ZM-89.4,-14.1 -24.1,-14.1 -24.1,59.8 -89.4,59.8ZM-14.1,-13.2 26.2,-13.2 51.4,-14.8 56.4,-3.6 56.4,8.2 -10.7,8.2 -14.1,-3.6ZM101.1,-46.4 122.5,-53.6 133.3,-51.5 133.3,-41.3 124.7,-18.8 101.1,-18.8ZM5.8,-11.4 50.8,-11.4 50.8,35.2 5.8,35.2ZM112.0,11.9 158.9,11.9 158.9,42.4 112.0,42.4ZM102.8,-43.4 123.4,-43.4 123.4,-50.6 130.9,-50.6 130.9,-39.9 123.4,-20.1 102.8,-20.1Z"/></g>
<g clip-path="url(#land)" stroke="none"><path fill="url(#py)" d="M-106.3,-47.8 -101.5,-47.8 -101.5,-43.9 -106.3,-43.9ZM-107.9,-24.7 -104.7,-24.7 -104.7,-20.9 -107.9,-20.9ZM-99.9,-22.4 -96.7,-22.4 -96.7,-19.4 -99.9,-19.4ZM-54.8,14.5 -52.9,14.5 -52.9,16.3 -54.8,16.3ZM-50.1,16.8 -48.2,16.8 -48.2,18.6 -50.1,18.6ZM-61.8,21.3 -59.9,21.3 -59.9,23.1 -61.8,23.1ZM-58.3,34.8 -56.4,34.8 -56.4,36.6 -58.3,36.6ZM-66.5,37.1 -64.7,37.1 -64.7,38.9 -66.5,38.9ZM-74.8,-5.7 -72.9,-5.7 -72.9,-3.9 -74.8,-3.9ZM-41.8,14.5 -39.9,14.5 -39.9,16.3 -41.8,16.3ZM-4.0,-14.8 -0.7,-14.8 -0.7,-11.6 -4.0,-11.6ZM31.2,-10.0 34.6,-10.0 34.6,-6.8 31.2,-6.8ZM32.9,1.3 37.9,1.3 37.9,6.1 32.9,6.1ZM-10.7,-41.2 -7.4,-41.2 -7.4,-38.5 -10.7,-38.5ZM-1.8,-42.2 3.8,-42.2 3.8,-39.6 -1.8,-39.6ZM3.8,-47.1 7.2,-47.1 7.2,-44.9 3.8,-44.9ZM47.6,-54.5 49.9,-54.5 49.9,-52.4 47.6,-52.4ZM58.3,-40.6 60.5,-40.6 60.5,-38.5 58.3,-38.5ZM77.5,-20.8 84.0,-20.8 84.0,-12.6 77.5,-12.6ZM31.1,3.8 37.6,3.8 37.6,10.1 31.1,10.1ZM18.9,8.3 22.6,8.3 22.6,11.9 18.9,11.9ZM33.9,24.4 37.6,24.4 37.6,28.0 33.9,28.0ZM20.8,26.2 24.5,26.2 24.5,29.8 20.8,29.8ZM123.3,27.1 127.0,27.1 127.0,29.8 123.3,29.8ZM143.0,33.4 145.8,33.4 145.8,36.1 143.0,36.1ZM99.9,-15.9 103.6,-15.9 103.6,-12.3 99.9,-12.3ZM100.9,-16.6 102.8,-16.6 102.8,-14.8 100.9,-14.8Z"/><path fill="url(#po)" d="M-115.9,-40.1 -107.9,-40.1 -107.9,-37.0 -115.9,-37.0ZM-111.1,-48.5 -107.9,-48.5 -107.9,-45.5 -111.1,-45.5ZM-41.1,8.5 -37.6,8.5 -37.6,11.8 -41.1,11.8ZM-70.5,29.9 -68.2,29.9 -68.2,33.2 -70.5,33.2ZM-15.8,-19.6 51.4,-20.4 51.4,-14.8 26.2,-14.0 11.1,-14.5 -15.8,-16.4ZM4.9,-47.1 15.0,-44.9 15.0,-41.7 4.9,-43.3ZM39.2,-52.9 48.2,-53.5 48.2,-43.8 39.2,-43.8ZM48.2,-52.9 69.4,-52.9 69.4,-50.8 48.2,-50.8ZM67.2,-35.3 78.4,-35.3 78.4,-27.5 67.2,-27.5ZM70.6,-44.9 73.9,-44.9 73.9,-41.7 70.6,-41.7ZM42.6,-35.3 44.8,-35.3 44.8,-33.1 42.6,-33.1ZM80.8,-43.3 84.0,-43.3 84.0,-40.3 80.8,-40.3ZM86.1,-47.4 89.3,-47.4 89.3,-44.4 86.1,-44.4ZM103.3,-41.3 109.7,-41.3 109.7,-38.2 103.3,-38.2ZM66.8,-46.4 71.1,-46.4 71.1,-43.3 66.8,-43.3ZM73.3,-48.5 76.5,-48.5 76.5,-45.4 73.3,-45.4ZM75.4,-31.1 90.4,-31.1 90.4,-14.7 77.5,-14.7 75.4,-22.9ZM41.1,-41.3 46.5,-41.3 46.5,-35.1 41.1,-35.1ZM17.0,22.6 22.6,22.6 22.6,29.8 17.0,29.8ZM24.5,20.0 28.3,20.0 28.3,24.4 24.5,24.4ZM32.0,10.1 35.8,10.1 35.8,13.7 32.0,13.7ZM26.4,-15.0 35.8,-15.0 35.8,-7.8 26.4,-7.8ZM131.7,26.2 134.5,26.2 134.5,28.9 131.7,28.9ZM140.2,27.1 143.5,27.1 143.5,30.7 140.2,30.7ZM146.2,27.1 150.5,27.1 150.5,30.7 146.2,30.7ZM102.8,-42.5 108.4,-42.5 108.4,-39.9 102.8,-39.9ZM110.3,-38.1 114.0,-38.1 114.0,-34.5 110.3,-34.5ZM116.8,-38.1 119.6,-38.1 119.6,-36.3 116.8,-36.3Z"/><path fill="url(#pr)" d="M-100.7,-31.6 -98.3,-31.6 -98.3,-24.7 -100.7,-24.7ZM-105.0,-26.6 -102.3,-26.6 -102.3,-24.0 -105.0,-24.0ZM-82.3,4.0 -80.0,4.0 -80.0,6.2 -82.3,6.2ZM-14.9,-19.3 -3.2,-19.3 -3.2,-17.0 -14.9,-17.0ZM0.2,-20.4 10.3,-20.4 10.3,-15.6 0.2,-15.6ZM25.4,-18.0 37.1,-18.0 37.1,-14.0 25.4,-14.0ZM39.6,-22.8 47.2,-22.8 49.7,-13.2 48.0,-6.8 45.5,-6.8 39.6,-13.2ZM8.6,-33.2 11.1,-33.2 11.1,-30.8 8.6,-30.8ZM17.0,-33.2 19.5,-33.2 19.5,-30.8 17.0,-30.8ZM46.3,-26.0 48.8,-26.0 48.8,-23.6 46.3,-23.6ZM-6.2,-40.6 -4.0,-40.6 -4.0,-38.5 -6.2,-38.5ZM13.9,-41.7 18.4,-41.7 18.4,-38.5 13.9,-38.5ZM21.7,-42.2 25.1,-42.2 25.1,-38.5 21.7,-38.5ZM28.4,-42.8 32.9,-42.8 32.9,-39.6 28.4,-39.6ZM6.1,-38.3 8.3,-38.3 8.3,-36.4 6.1,-36.4ZM9.4,-34.2 11.7,-34.2 11.7,-32.1 9.4,-32.1ZM16.1,-33.1 18.4,-33.1 18.4,-31.0 16.1,-31.0ZM41.5,-52.4 46.5,-52.4 46.5,-47.1 41.5,-47.1ZM48.2,-41.7 50.4,-41.7 50.4,-37.4 48.2,-37.4ZM64.7,-33.1 77.5,-33.1 77.5,-22.9 71.1,-22.9 64.7,-27.0ZM41.1,-16.7 47.5,-16.7 47.5,-4.4 41.1,-4.4ZM22.6,13.7 26.4,13.7 26.4,17.3 22.6,17.3ZM28.3,17.3 32.0,17.3 32.0,20.9 28.3,20.9ZM35.8,-18.6 50.8,-18.6 50.8,-2.4 43.3,-0.6 35.8,-7.8ZM119.5,18.2 128.0,18.2 128.0,24.4 119.5,24.4ZM137.4,20.0 147.7,20.0 147.7,25.3 137.4,25.3ZM80.3,-42.5 82.1,-42.5 82.1,-40.8 80.3,-40.8ZM97.1,-42.5 100.9,-42.5 100.9,-39.9 97.1,-39.9Z"/><path fill="url(#pR)" d="M-117.6,-34.7 -112.7,-34.7 -108.7,-27.0 -110.3,-24.7 -115.1,-28.6ZM-74.1,-12.3 -70.5,-12.3 -70.5,-9.6 -74.1,-9.6ZM43.8,-19.6 46.7,-19.6 47.7,-14.0 45.5,-10.8 43.8,-14.0ZM22.5,-42.8 24.7,-42.8 24.7,-38.5 22.5,-38.5ZM44.8,-43.8 47.1,-43.8 47.1,-37.4 44.8,-37.4Z"/></g>
<use href="#borders"/>
<use href="#coast"/>
</g></g>
<g clip-path="url(#clip_c)">
<g transform="matrix(0.54250,0,0,0.56067,127.0500,292.9600)">
<g clip-path="url(#land)" stroke="none"><path fill="#ebebeb" d="M-57.0,2.2 -34.7,4.3 -35.8,22.7 -54.9,24.8Z"/><path fill="url(#pY)" d="M17.4,-8.0 42.8,-8.0 41.8,14.5 17.4,14.5ZM21.6,-1.9 38.6,-1.9 38.6,14.5 21.6,14.5Z"/><path fill="url(#py)" d="M-101.8,-28.3 -98.6,-28.3 -98.6,-22.2 -101.8,-22.2ZM-85.1,-24.5 -81.2,-24.5 -81.2,-22.2 -85.1,-22.2ZM-74.8,-6.0 -71.6,-6.0 -71.6,-3.7 -74.8,-3.7ZM-90.7,-15.3 -87.5,-15.3 -87.5,-13.0 -90.7,-13.0ZM92.3,-30.0 110.9,-30.0 110.9,-10.3 92.3,-10.3ZM81.8,-12.4 85.1,-12.4 85.1,-9.2 81.8,-9.2ZM33.3,8.4 36.5,8.4 36.5,11.4 33.3,11.4ZM-54.9,14.5 -46.4,14.5 -46.4,22.7 -54.9,22.7ZM-68.1,26.8 -63.0,26.8 -63.0,35.0 -68.1,35.0ZM-74.0,-12.1 -69.8,-12.1 -69.8,-8.0 -74.0,-8.0ZM-67.6,-8.0 -63.4,-8.0 -63.4,-3.9 -67.6,-3.9ZM-61.3,-6.0 -57.0,-6.0 -57.0,-2.9 -61.3,-2.9ZM146.5,16.5 153.1,25.4 151.8,34.4 149.2,34.4 149.2,25.4Z"/><path fill="url(#po)" d="M-120.1,-38.3 -112.2,-39.1 -104.2,-34.5 -97.1,-29.9 -96.3,-17.6 -102.6,-16.8 -110.6,-22.2 -116.9,-29.9ZM101.6,-27.3 105.3,-27.3 105.3,-23.8 101.6,-23.8ZM103.4,-17.5 107.2,-17.5 107.2,-13.9 103.4,-13.9ZM-8.9,-33.8 35.3,-33.2 35.3,-29.1 -8.9,-29.5ZM-8.9,-28.5 -4.5,-28.5 -4.5,-25.3 -8.9,-25.3ZM-0.1,-36.0 4.3,-36.0 4.3,-33.8 -0.1,-33.8ZM11.0,-28.5 15.4,-28.5 15.4,-25.3 11.0,-25.3ZM22.0,-27.4 25.3,-27.4 25.3,-24.2 22.0,-24.2ZM28.7,-25.3 32.0,-25.3 32.0,-22.0 28.7,-22.0ZM46.4,-23.1 50.8,-23.1 50.8,-18.8 46.4,-18.8ZM53.0,-16.7 57.4,-16.7 57.4,-12.4 53.0,-12.4ZM75.1,-21.0 78.4,-21.0 78.4,-17.8 75.1,-17.8ZM77.3,-14.6 80.6,-14.6 80.6,-11.3 77.3,-11.3ZM79.5,-8.1 82.9,-8.1 82.9,-4.9 79.5,-4.9ZM84.0,-18.8 87.3,-18.8 87.3,-15.6 84.0,-15.6ZM-17.8,-23.1 -13.4,-23.1 -13.4,-19.9 -17.8,-19.9ZM-8.9,-16.7 -4.5,-16.7 -4.5,-13.5 -8.9,-13.5ZM6.5,-12.4 11.0,-12.4 11.0,-9.2 6.5,-9.2ZM17.6,-18.8 22.0,-18.8 22.0,-15.6 17.6,-15.6ZM24.2,-6.0 28.7,-6.0 28.7,-2.8 24.2,-2.8ZM28.0,4.3 31.2,4.3 31.2,7.3 28.0,7.3ZM13.2,14.5 36.5,14.5 36.5,34.0 17.4,35.0 13.2,26.8ZM33.3,-14.2 53.4,-14.2 51.3,-3.9 45.0,0.2 34.4,-1.9ZM-48.5,0.2 -35.8,3.2 -35.8,6.3 -48.5,4.3ZM-44.3,8.4 -35.8,8.4 -35.8,12.5 -44.3,12.5ZM114.8,20.3 122.7,17.7 130.6,11.3 141.2,11.3 145.2,15.2 153.1,25.4 151.8,34.4 141.2,35.0 133.3,34.4 117.4,34.4ZM130.6,10.7 137.2,10.7 137.2,13.9 130.6,13.9Z"/><path fill="url(#pO)" d="M44.1,-8.1 59.6,-12.4 61.8,-6.0 46.4,-1.7ZM39.7,-14.6 49.7,-14.6 49.7,-1.7 39.7,-1.7ZM23.8,18.6 30.1,18.6 30.1,24.8 23.8,24.8Z"/><path fill="url(#pr)" d="M-119.3,-37.6 -112.2,-38.3 -107.4,-34.5 -109.0,-25.3 -113.7,-28.3 -116.9,-31.4ZM-8.9,-33.0 37.5,-32.5 37.5,-30.0 -8.9,-30.4ZM36.4,-39.2 50.8,-39.2 50.8,-27.4 38.6,-27.4ZM48.6,-40.2 77.3,-39.2 78.4,-23.1 50.8,-23.1ZM33.5,-29.5 38.0,-29.5 38.0,-1.7 33.5,-1.7ZM38.6,-27.4 44.1,-27.4 48.6,-1.7 43.0,-1.7ZM14.2,16.6 22.7,16.6 23.8,31.9 17.4,34.0 14.2,24.8ZM36.5,-14.2 51.3,-14.2 49.2,-6.0 38.6,-5.0ZM-82.5,4.3 -79.9,4.3 -79.9,6.7 -82.5,6.7ZM-79.3,9.4 -76.8,9.4 -76.8,11.8 -79.3,11.8ZM-76.5,14.5 -74.0,14.5 -74.0,17.0 -76.5,17.0ZM-73.6,16.6 -71.0,16.6 -71.0,19.0 -73.6,19.0ZM115.4,21.6 122.7,21.6 124.0,24.1 133.3,24.1 138.6,22.9 139.9,33.1 133.3,33.7 117.4,33.7ZM142.5,22.9 150.5,24.1 150.5,33.1 142.5,33.1Z"/><path fill="url(#pR)" d="M-116.1,-33.7 -110.6,-33.0 -109.0,-26.8 -112.9,-28.3ZM11.0,-32.3 37.5,-32.1 37.5,-30.6 11.0,-30.8Z"/><path fill="#ffffff" d="M57.4,-34.9 61.8,-34.9 61.8,-31.7 57.4,-31.7ZM66.3,-29.5 69.6,-29.5 69.6,-26.3 66.3,-26.3ZM53.0,-28.5 56.3,-28.5 56.3,-25.3 53.0,-25.3ZM122.7,15.2 130.6,15.2 130.6,22.9 122.7,22.9ZM133.3,16.5 139.9,16.5 139.9,20.9 133.3,20.9ZM139.9,34.4 151.8,34.4 151.8,42.1 139.9,42.1Z"/></g>
<use href="#borders"/>
<use href="#coast"/>
</g></g>
<g clip-path="url(#clip_d)">
<g transform="matrix(0.52250,0,0,0.54200,369.4500,65.2800)">
<g clip-path="url(#land)" stroke="none"><path fill="url(#pc)" d="M-123.2,-49.3 -101.1,-49.3 -101.1,-41.0 -103.0,-35.4 -97.2,-29.8 -96.3,-26.1 -99.2,-25.2 -104.0,-27.1 -105.9,-22.4 -99.2,-17.8 -98.2,-14.6 -103.0,-15.4 -106.9,-19.6 -111.7,-24.6 -119.4,-30.8 -123.6,-35.4 -124.6,-42.8ZM-65.2,24.7 -61.3,24.7 -61.3,35.3 -65.2,35.3ZM12.0,-44.4 17.1,-44.4 17.1,-36.1 12.0,-36.1ZM30.9,-41.1 41.2,-41.1 41.2,-34.4 30.9,-34.4ZM114.9,28.1 153.7,28.1 153.7,36.1 146.2,40.9 134.7,37.7 114.9,35.6Z"/><path fill="url(#pb)" d="M-119.4,-46.5 -103.0,-46.5 -103.0,-37.3 -101.1,-30.8 -104.0,-28.9 -108.8,-30.8 -115.5,-34.5 -120.3,-39.1ZM-107.8,-26.1 -101.1,-18.7 -103.0,-16.8 -107.8,-22.4ZM-122.3,-52.5 -120.0,-52.5 -120.0,-50.2 -122.3,-50.2ZM-112.6,-52.5 -110.3,-52.5 -110.3,-50.2 -112.6,-50.2ZM-88.6,-33.9 -84.7,-33.9 -84.7,-30.8 -88.6,-30.8ZM-93.4,-30.8 -90.9,-30.8 -90.9,-28.7 -93.4,-28.7ZM-82.8,-28.4 -80.5,-28.4 -80.5,-26.1 -82.8,-26.1ZM-140.6,-63.2 -138.6,-63.2 -138.6,-61.4 -140.6,-61.4ZM-70.7,17.3 -63.0,17.3 -61.3,29.0 -63.0,39.6 -64.1,50.2 -69.6,51.2 -71.9,39.6 -71.9,26.9ZM-80.7,6.7 -78.5,6.7 -78.5,8.8 -80.7,8.8ZM-77.4,12.0 -75.2,12.0 -75.2,14.1 -77.4,14.1ZM-75.2,14.1 -73.0,14.1 -73.0,16.3 -75.2,16.3ZM-57.5,30.0 -54.2,30.0 -54.2,33.2 -57.5,33.2ZM-19.0,-67.7 -15.6,-67.7 -15.6,-65.2 -19.0,-65.2ZM13.7,-69.0 15.8,-69.0 15.8,-66.8 13.7,-66.8ZM22.3,-60.7 24.4,-60.7 24.4,-58.5 22.3,-58.5ZM-8.7,-43.6 -0.1,-43.6 -0.1,-36.9 -8.7,-36.9ZM-10.4,-36.1 10.2,-36.9 10.2,-32.8 -5.3,-29.4 -10.4,-29.4ZM5.1,-44.4 8.5,-44.4 8.5,-41.1 5.1,-41.1ZM22.3,-42.7 27.5,-42.7 27.5,-34.4 22.3,-34.4ZM44.7,-43.6 53.3,-46.1 58.5,-46.1 58.5,-27.8 48.1,-27.8 44.7,-37.7ZM50.4,-51.8 83.3,-52.2 119.7,-49.4 119.7,-35.6 102.5,-37.0 85.3,-33.7 77.6,-28.2 58.5,-28.2 48.9,-31.9ZM81.4,-28.2 87.2,-28.2 87.2,-20.8 81.4,-20.8ZM96.7,-22.7 100.6,-22.7 100.6,-17.1 96.7,-17.1ZM102.5,-28.2 106.3,-28.2 106.3,-22.7 102.5,-22.7ZM104.4,-32.8 108.2,-32.8 108.2,-30.0 104.4,-30.0ZM110.1,-31.9 113.0,-31.9 113.0,-30.0 110.1,-30.0ZM39.3,-43.0 47.0,-43.0 47.0,-31.9 39.3,-31.9ZM39.3,-22.7 47.0,-22.7 47.0,-9.7 39.3,-9.7ZM39.6,-22.9 47.3,-19.7 46.2,-12.3 41.8,-13.3ZM34.1,-13.3 41.8,-13.3 40.7,-4.9 34.1,-4.9ZM53.9,-28.2 58.8,-28.2 58.8,-21.8 53.9,-21.8ZM9.9,-8.0 14.7,-8.0 14.7,-3.8 9.9,-3.8ZM23.1,-14.4 26.4,-14.4 26.4,-11.2 23.1,-11.2ZM27.5,-2.7 34.1,-2.7 34.1,1.5 27.5,1.5ZM27.5,5.7 37.4,5.7 36.3,14.2 28.6,14.2ZM13.2,10.0 18.7,10.0 18.7,18.5 13.2,18.5ZM25.3,14.2 34.1,16.3 34.1,22.7 25.3,22.7ZM16.5,24.8 31.9,24.8 29.7,35.4 18.7,35.4ZM144.3,15.9 146.2,15.9 146.2,17.8 144.3,17.8ZM149.2,20.7 151.2,20.7 151.2,22.6 149.2,22.6ZM124.8,8.3 127.3,8.3 127.3,9.9 124.8,9.9Z"/><path fill="url(#pB)" d="M-113.6,-42.8 -104.9,-42.8 -104.9,-33.5 -111.7,-34.5ZM-70.1,20.5 -65.2,20.5 -65.2,48.1 -69.2,48.1ZM53.7,-50.0 77.6,-50.0 77.6,-45.7 53.7,-45.7ZM87.2,-46.6 117.8,-47.6 117.8,-41.5 87.2,-39.6ZM115.7,29.7 123.1,29.7 123.1,34.5 115.7,34.5ZM134.7,30.5 151.2,30.5 151.2,36.1 144.6,38.5 135.5,36.1Z"/><path fill="#ffffff" d="M58.5,-37.4 64.2,-37.4 64.2,-32.8 58.5,-32.8ZM70.0,-43.0 73.8,-43.0 73.8,-39.3 70.0,-39.3ZM92.9,-39.3 96.7,-39.3 96.7,-36.5 92.9,-36.5ZM66.1,-52.2 83.3,-52.2 83.3,-50.3 66.1,-50.3ZM80.5,-43.0 85.3,-43.0 85.3,-37.4 80.5,-37.4ZM50.8,-43.0 54.6,-43.0 54.6,-39.3 50.8,-39.3ZM100.6,-41.1 105.4,-41.1 105.4,-37.4 100.6,-37.4Z"/></g>
<use href="#borders"/>
<use href="#coast"/>
</g></g>
<g clip-path="url(#clip_e)">
<g transform="matrix(0.52250,0,0,0.54400,369.4500,178.3600)">
<g clip-path="url(#land)" stroke="none"><path fill="url(#pc)" d="M-109.5,-48.3 -100.7,-47.3 -100.7,-43.0 -109.5,-44.1ZM31.7,-52.6 68.0,-53.6 68.0,-45.2 31.7,-44.1ZM-1.3,-46.2 11.9,-46.2 11.9,-40.9 -1.3,-40.9ZM20.7,-45.2 29.5,-45.2 29.5,-40.9 20.7,-40.9ZM36.1,-43.0 44.9,-43.0 44.9,-38.8 36.1,-38.8ZM-3.5,-20.9 7.5,-20.9 7.5,-13.5 -3.5,-13.5ZM22.9,-18.7 33.9,-18.7 33.9,-14.5 22.9,-14.5ZM28.4,-21.9 44.9,-24.0 47.1,-7.1 31.7,-5.0ZM-18.9,-20.2 33.9,-19.8 33.9,-15.2 -18.9,-15.6ZM48.9,-55.0 68.7,-53.9 68.7,-48.6 48.9,-48.6ZM77.5,-48.6 84.1,-48.6 84.1,-44.4 77.5,-44.4ZM92.9,-42.3 108.3,-42.3 108.3,-38.1 92.9,-38.1ZM127.0,-46.5 130.3,-46.5 130.3,-43.4 127.0,-43.4ZM98.4,-20.1 103.9,-20.1 103.9,-10.6 98.4,-10.6ZM26.1,-15.4 51.1,-15.4 49.1,-6.1 39.5,-0.6 29.9,-4.3ZM29.9,3.1 39.5,3.1 39.5,10.5 29.9,10.5ZM14.5,8.7 39.5,8.7 39.5,25.3 14.5,25.3ZM119.8,18.8 129.4,18.8 129.4,25.3 119.8,25.3ZM136.2,18.8 146.8,18.8 146.8,24.4 136.2,24.4Z"/><path fill="url(#pb)" d="M-116.1,-39.9 -108.4,-39.9 -108.4,-35.7 -116.1,-35.7ZM-117.2,-33.5 -98.5,-32.5 -99.6,-21.9 -105.1,-23.0 -113.9,-25.1ZM-83.1,-30.4 -79.8,-30.4 -79.8,-28.3 -83.1,-28.3ZM-75.4,-6.1 -72.5,-6.1 -72.5,-3.3 -75.4,-3.3ZM-57.8,-6.1 -54.5,-6.1 -54.5,-2.9 -57.8,-2.9ZM-74.7,-10.9 -72.1,-10.9 -72.1,-8.4 -74.7,-8.4ZM-74.7,-5.9 -72.7,-5.9 -72.7,-3.5 -74.7,-3.5ZM-59.2,-5.9 -56.6,-5.9 -56.6,-3.5 -59.2,-3.5ZM-82.5,4.0 -80.4,4.0 -80.4,6.5 -82.5,6.5ZM-45.0,4.0 -42.4,4.0 -42.4,6.5 -45.0,6.5ZM-41.1,7.7 -37.2,7.7 -37.2,12.7 -41.1,12.7ZM-50.2,16.4 -47.6,16.4 -47.6,18.9 -50.2,18.9ZM-64.4,18.9 -60.5,18.9 -60.5,22.6 -64.4,22.6ZM-70.8,30.1 -68.3,30.1 -68.3,32.5 -70.8,32.5ZM-59.2,33.8 -56.6,33.8 -56.6,36.3 -59.2,36.3ZM-65.7,41.2 -63.1,41.2 -63.1,43.7 -65.7,43.7ZM-25.6,-17.6 -23.5,-17.6 -23.5,-15.9 -25.6,-15.9ZM40.5,-53.6 51.5,-53.6 51.5,-47.3 40.5,-47.3ZM-15.6,-20.9 -7.9,-20.9 -7.9,-16.6 -15.6,-16.6ZM9.7,-16.6 16.3,-16.6 16.3,-13.5 9.7,-13.5ZM35.0,-17.7 41.6,-17.7 41.6,-10.3 35.7,-10.3ZM44.9,-33.5 49.3,-33.5 49.3,-30.4 44.9,-30.4ZM55.9,-26.1 60.3,-26.1 60.3,-21.9 55.9,-21.9ZM40.5,-26.1 44.9,-26.1 44.9,-21.9 40.5,-21.9ZM110.5,-40.2 121.5,-40.2 119.3,-33.9 111.6,-33.9ZM116.7,-48.6 119.3,-48.6 119.3,-44.4 116.7,-44.4ZM66.5,-33.9 88.5,-31.7 86.3,-19.1 79.7,-8.5 73.1,-12.7 66.5,-25.4ZM22.2,12.4 27.0,12.4 27.0,17.0 22.2,17.0ZM15.5,17.0 20.3,17.0 20.3,20.7 15.5,20.7ZM31.8,14.2 36.6,14.2 36.6,17.9 31.8,17.9ZM17.4,27.5 21.2,27.5 21.2,30.5 17.4,30.5ZM35.7,-11.7 41.4,-11.7 41.4,-7.0 35.7,-7.0ZM120.8,19.8 127.5,19.8 127.5,24.4 120.8,24.4ZM137.1,19.8 144.8,19.8 144.8,23.8 137.1,23.8ZM132.3,27.2 134.3,27.2 134.3,29.0 132.3,29.0ZM139.1,27.2 141.9,27.2 141.9,29.9 139.1,29.9ZM146.8,28.1 149.6,28.1 149.6,31.8 146.8,31.8ZM142.9,32.7 144.8,32.7 144.8,35.5 142.9,35.5ZM142.9,37.3 144.4,37.3 144.4,39.2 142.9,39.2ZM130.4,15.1 132.3,15.1 132.3,17.0 130.4,17.0ZM112.1,6.8 114.1,6.8 114.1,8.7 112.1,8.7ZM99.6,-15.4 101.6,-15.4 101.6,-12.6 99.6,-12.6Z"/><path fill="url(#pB)" d="M-75.4,-11.4 -71.0,-11.4 -71.0,-7.5 -75.4,-7.5ZM68.7,-42.7 75.3,-42.7 75.3,-38.1 68.7,-38.1Z"/></g>
<use href="#borders"/>
<use href="#coast"/>
</g></g>
<g clip-path="url(#clip_f)">
<g transform="matrix(0.52250,0,0,0.54733,369.4500,290.6600)">
<g clip-path="url(#land)" stroke="none"><path fill="url(#pc)" d="M-57.2,12.9 -46.3,12.9 -46.3,22.1 -57.2,22.1ZM-10.4,-35.8 39.7,-36.7 39.7,-27.5 28.1,-25.7 10.8,-27.5 -10.4,-29.4ZM32.0,-30.3 45.5,-31.2 45.5,-4.5 32.0,-4.5ZM1.2,-10.1 14.6,-10.1 14.6,-4.5 1.2,-4.5ZM5.5,-11.1 16.5,-11.1 16.5,-4.8 5.5,-4.8ZM25.3,1.5 40.7,1.5 40.7,12.0 25.3,12.0ZM73.9,-24.5 77.2,-24.5 79.4,-7.7 76.1,-7.7ZM98.1,-28.7 111.3,-28.7 111.3,-3.5 98.1,-3.5Z"/><path fill="url(#pb)" d="M-120.3,-37.6 -113.6,-38.6 -104.0,-34.0 -97.2,-28.5 -96.3,-17.4 -102.1,-16.5 -107.8,-21.1 -115.5,-26.6 -120.3,-34.0ZM-84.7,-23.9 -80.9,-23.9 -80.9,-21.1 -84.7,-21.1ZM-90.5,-14.7 -87.6,-14.7 -87.6,-11.9 -90.5,-11.9ZM-72.2,-11.9 -67.4,-11.9 -67.4,-5.5 -72.2,-5.5ZM-57.8,-7.3 -50.1,-7.3 -50.1,-1.8 -57.8,-1.8ZM-81.8,2.8 -78.9,2.8 -78.9,6.5 -81.8,6.5ZM-73.0,-11.4 -68.1,-11.4 -68.1,-6.8 -73.0,-6.8ZM-58.4,-5.6 -53.6,-5.6 -53.6,-2.2 -58.4,-2.2ZM-48.7,0.2 -43.9,0.2 -43.9,2.5 -48.7,2.5ZM-41.5,2.5 -35.4,2.5 -35.4,7.1 -41.5,7.1ZM-82.6,3.6 -80.2,3.6 -80.2,5.9 -82.6,5.9ZM-77.8,10.6 -74.2,10.6 -74.2,14.0 -77.8,14.0ZM-74.2,15.2 -70.5,15.2 -70.5,17.5 -74.2,17.5ZM-56.0,14.0 -51.2,14.0 -51.2,19.8 -56.0,19.8ZM-65.7,17.5 -59.6,17.5 -59.6,23.3 -65.7,23.3ZM-70.5,27.9 -64.5,27.9 -64.5,34.8 -70.5,34.8ZM-10.4,-35.8 39.7,-36.7 39.7,-32.1 -10.4,-31.2ZM-9.4,-34.9 6.9,-34.9 6.9,-29.4 -9.4,-29.4ZM12.7,-35.8 39.7,-35.8 39.7,-30.3 12.7,-30.3ZM37.8,-17.4 45.5,-17.4 43.5,-6.4 37.8,-6.4ZM45.5,-39.5 77.6,-41.3 77.6,-32.1 70.5,-22.9 58.9,-22.0 45.5,-26.6ZM-16.2,-13.7 -10.4,-13.7 -10.4,-8.2 -16.2,-8.2ZM33.9,-11.9 41.6,-11.9 41.6,-4.5 33.9,-4.5ZM29.7,-19.5 53.8,-19.5 49.4,-6.9 42.8,1.5 31.9,-0.6ZM12.1,12.0 38.5,12.0 36.3,24.6 25.3,35.1 16.5,33.0 12.1,22.5ZM58.5,-39.2 73.9,-37.1 73.9,-20.3 58.5,-20.3ZM81.6,-13.0 83.8,-13.0 83.8,-10.9 81.6,-10.9ZM83.8,-18.2 86.0,-18.2 86.0,-16.1 83.8,-16.1ZM84.9,-24.5 89.3,-24.5 89.3,-20.3 84.9,-20.3ZM100.3,-26.6 105.8,-26.6 105.8,-21.4 100.3,-21.4ZM99.2,-15.1 105.8,-15.1 105.8,-8.8 99.2,-8.8ZM115.0,21.8 125.6,13.5 144.8,11.7 154.5,22.7 154.5,33.8 144.8,35.6 135.2,32.8 116.0,31.9ZM163.1,-5.7 165.0,-5.7 165.0,-3.4 163.1,-3.4Z"/><path fill="url(#pB)" d="M-116.5,-34.9 -105.9,-33.0 -101.1,-26.6 -104.0,-22.0 -111.7,-26.6ZM55.1,-37.6 70.5,-38.5 70.5,-30.3 55.1,-30.3ZM34.1,-15.3 43.9,-15.3 43.9,-3.7 34.1,-3.7ZM15.4,17.3 31.9,17.3 29.7,30.9 19.8,32.0ZM165.0,20.0 167.0,20.0 167.0,22.4 165.0,22.4Z"/><path fill="#ef8b6a" d="M98.1,-19.3 100.3,-19.3 100.3,-17.2 98.1,-17.2Z"/><path fill="#ffffff" d="M125.6,18.1 138.1,18.1 138.1,24.6 125.6,24.6ZM137.1,27.3 140.6,27.3 140.6,31.6 137.1,31.6Z"/></g>
<use href="#borders"/>
<use href="#coast"/>
</g></g>
<rect x="31.3" y="17.5" width="194.70" height="84.40" fill="none" stroke="#444" stroke-width="0.7"/>
<line x1="29.50" y1="17.50" x2="31.30" y2="17.50" stroke="#333" stroke-width="0.75"/>
<line x1="29.50" y1="34.38" x2="31.30" y2="34.38" stroke="#333" stroke-width="0.75"/>
<text transform="translate(28.00,36.28) scale(1.01,1)" font-size="5.3" text-anchor="end" fill="#222">60° N</text>
<line x1="29.50" y1="51.26" x2="31.30" y2="51.26" stroke="#333" stroke-width="0.75"/>
<text transform="translate(28.00,53.16) scale(1.01,1)" font-size="5.3" text-anchor="end" fill="#222">30° N</text>
<line x1="29.50" y1="68.14" x2="31.30" y2="68.14" stroke="#333" stroke-width="0.75"/>
<text transform="translate(28.00,70.04) scale(1.01,1)" font-size="5.3" text-anchor="end" fill="#222">0°</text>
<line x1="29.50" y1="85.02" x2="31.30" y2="85.02" stroke="#333" stroke-width="0.75"/>
<text transform="translate(28.00,86.92) scale(1.01,1)" font-size="5.3" text-anchor="end" fill="#222">30° S</text>
<line x1="29.50" y1="101.90" x2="31.30" y2="101.90" stroke="#333" stroke-width="0.75"/>
<text transform="translate(28.00,103.80) scale(1.01,1)" font-size="5.3" text-anchor="end" fill="#222">60° S</text>
<line x1="31.30" y1="101.90" x2="31.30" y2="103.70" stroke="#333" stroke-width="0.75"/>
<line x1="63.75" y1="101.90" x2="63.75" y2="103.70" stroke="#333" stroke-width="0.75"/>
<text transform="translate(63.75,109.40) scale(1.01,1)" font-size="5.3" text-anchor="middle" fill="#222">120° W</text>
<line x1="96.20" y1="101.90" x2="96.20" y2="103.70" stroke="#333" stroke-width="0.75"/>
<text transform="translate(96.20,109.40) scale(1.01,1)" font-size="5.3" text-anchor="middle" fill="#222">60° W</text>
<line x1="128.65" y1="101.90" x2="128.65" y2="103.70" stroke="#333" stroke-width="0.75"/>
<text transform="translate(128.65,109.40) scale(1.01,1)" font-size="5.3" text-anchor="middle" fill="#222">0°</text>
<line x1="161.10" y1="101.90" x2="161.10" y2="103.70" stroke="#333" stroke-width="0.75"/>
<text transform="translate(161.10,109.40) scale(1.01,1)" font-size="5.3" text-anchor="middle" fill="#222">60° E</text>
<line x1="193.55" y1="101.90" x2="193.55" y2="103.70" stroke="#333" stroke-width="0.75"/>
<text transform="translate(193.55,109.40) scale(1.01,1)" font-size="5.3" text-anchor="middle" fill="#222">120° E</text>
<line x1="226.00" y1="101.90" x2="226.00" y2="103.70" stroke="#333" stroke-width="0.75"/>
<text transform="translate(128.65,116.90) scale(0.94,1)" font-size="6.8" text-anchor="middle" fill="#222">Longitude</text>
<text transform="translate(11.9,59.70) rotate(-90)" x="0" y="0" font-size="6.8" text-anchor="middle" fill="#222">Latitude</text>
<text x="28.90" y="24.50" font-size="9.5" text-anchor="end">(a)</text>
<rect x="31.4" y="129.9" width="193.10" height="84.20" fill="none" stroke="#444" stroke-width="0.7"/>
<line x1="29.60" y1="129.90" x2="31.40" y2="129.90" stroke="#333" stroke-width="0.75"/>
<line x1="29.60" y1="146.74" x2="31.40" y2="146.74" stroke="#333" stroke-width="0.75"/>
<text transform="translate(28.10,148.64) scale(1.01,1)" font-size="5.3" text-anchor="end" fill="#222">60° N</text>
<line x1="29.60" y1="163.58" x2="31.40" y2="163.58" stroke="#333" stroke-width="0.75"/>
<text transform="translate(28.10,165.48) scale(1.01,1)" font-size="5.3" text-anchor="end" fill="#222">30° N</text>
<line x1="29.60" y1="180.42" x2="31.40" y2="180.42" stroke="#333" stroke-width="0.75"/>
<text transform="translate(28.10,182.32) scale(1.01,1)" font-size="5.3" text-anchor="end" fill="#222">0°</text>
<line x1="29.60" y1="197.26" x2="31.40" y2="197.26" stroke="#333" stroke-width="0.75"/>
<text transform="translate(28.10,199.16) scale(1.01,1)" font-size="5.3" text-anchor="end" fill="#222">30° S</text>
<line x1="29.60" y1="214.10" x2="31.40" y2="214.10" stroke="#333" stroke-width="0.75"/>
<text transform="translate(28.10,216.00) scale(1.01,1)" font-size="5.3" text-anchor="end" fill="#222">60° S</text>
<line x1="31.40" y1="214.10" x2="31.40" y2="215.90" stroke="#333" stroke-width="0.75"/>
<line x1="63.58" y1="214.10" x2="63.58" y2="215.90" stroke="#333" stroke-width="0.75"/>
<text transform="translate(63.58,221.60) scale(1.01,1)" font-size="5.3" text-anchor="middle" fill="#222">120° W</text>
<line x1="95.77" y1="214.10" x2="95.77" y2="215.90" stroke="#333" stroke-width="0.75"/>
<text transform="translate(95.77,221.60) scale(1.01,1)" font-size="5.3" text-anchor="middle" fill="#222">60° W</text>
<line x1="127.95" y1="214.10" x2="127.95" y2="215.90" stroke="#333" stroke-width="0.75"/>
<text transform="translate(127.95,221.60) scale(1.01,1)" font-size="5.3" text-anchor="middle" fill="#222">0°</text>
<line x1="160.13" y1="214.10" x2="160.13" y2="215.90" stroke="#333" stroke-width="0.75"/>
<text transform="translate(160.13,221.60) scale(1.01,1)" font-size="5.3" text-anchor="middle" fill="#222">60° E</text>
<line x1="192.32" y1="214.10" x2="192.32" y2="215.90" stroke="#333" stroke-width="0.75"/>
<text transform="translate(192.32,221.60) scale(1.01,1)" font-size="5.3" text-anchor="middle" fill="#222">120° E</text>
<line x1="224.50" y1="214.10" x2="224.50" y2="215.90" stroke="#333" stroke-width="0.75"/>
<text transform="translate(127.95,229.10) scale(0.94,1)" font-size="6.8" text-anchor="middle" fill="#222">Longitude</text>
<text transform="translate(11.9,172.00) rotate(-90)" x="0" y="0" font-size="6.8" text-anchor="middle" fill="#222">Latitude</text>
<text x="29.00" y="136.90" font-size="9.5" text-anchor="end">(b)</text>
<rect x="29.4" y="242.5" width="195.30" height="84.10" fill="none" stroke="#444" stroke-width="0.7"/>
<line x1="27.60" y1="242.50" x2="29.40" y2="242.50" stroke="#333" stroke-width="0.75"/>
<line x1="27.60" y1="259.32" x2="29.40" y2="259.32" stroke="#333" stroke-width="0.75"/>
<text transform="translate(26.10,261.22) scale(1.01,1)" font-size="5.3" text-anchor="end" fill="#222">60° N</text>
<line x1="27.60" y1="276.14" x2="29.40" y2="276.14" stroke="#333" stroke-width="0.75"/>
<text transform="translate(26.10,278.04) scale(1.01,1)" font-size="5.3" text-anchor="end" fill="#222">30° N</text>
<line x1="27.60" y1="292.96" x2="29.40" y2="292.96" stroke="#333" stroke-width="0.75"/>
<text transform="translate(26.10,294.86) scale(1.01,1)" font-size="5.3" text-anchor="end" fill="#222">0°</text>
<line x1="27.60" y1="309.78" x2="29.40" y2="309.78" stroke="#333" stroke-width="0.75"/>
<text transform="translate(26.10,311.68) scale(1.01,1)" font-size="5.3" text-anchor="end" fill="#222">30° S</text>
<line x1="27.60" y1="326.60" x2="29.40" y2="326.60" stroke="#333" stroke-width="0.75"/>
<text transform="translate(26.10,328.50) scale(1.01,1)" font-size="5.3" text-anchor="end" fill="#222">60° S</text>
<line x1="29.40" y1="326.60" x2="29.40" y2="328.40" stroke="#333" stroke-width="0.75"/>
<line x1="61.95" y1="326.60" x2="61.95" y2="328.40" stroke="#333" stroke-width="0.75"/>
<text transform="translate(61.95,334.10) scale(1.01,1)" font-size="5.3" text-anchor="middle" fill="#222">120° W</text>
<line x1="94.50" y1="326.60" x2="94.50" y2="328.40" stroke="#333" stroke-width="0.75"/>
<text transform="translate(94.50,334.10) scale(1.01,1)" font-size="5.3" text-anchor="middle" fill="#222">60° W</text>
<line x1="127.05" y1="326.60" x2="127.05" y2="328.40" stroke="#333" stroke-width="0.75"/>
<text transform="translate(127.05,334.10) scale(1.01,1)" font-size="5.3" text-anchor="middle" fill="#222">0°</text>
<line x1="159.60" y1="326.60" x2="159.60" y2="328.40" stroke="#333" stroke-width="0.75"/>
<text transform="translate(159.60,334.10) scale(1.01,1)" font-size="5.3" text-anchor="middle" fill="#222">60° E</text>
<line x1="192.15" y1="326.60" x2="192.15" y2="328.40" stroke="#333" stroke-width="0.75"/>
<text transform="translate(192.15,334.10) scale(1.01,1)" font-size="5.3" text-anchor="middle" fill="#222">120° E</text>
<line x1="224.70" y1="326.60" x2="224.70" y2="328.40" stroke="#333" stroke-width="0.75"/>
<text transform="translate(127.05,341.60) scale(0.94,1)" font-size="6.8" text-anchor="middle" fill="#222">Longitude</text>
<text transform="translate(11.9,284.55) rotate(-90)" x="0" y="0" font-size="6.8" text-anchor="middle" fill="#222">Latitude</text>
<text x="27.00" y="249.50" font-size="9.5" text-anchor="end">(c)</text>
<rect x="275.4" y="16.5" width="188.10" height="81.30" fill="none" stroke="#444" stroke-width="0.7"/>
<line x1="273.60" y1="16.50" x2="275.40" y2="16.50" stroke="#333" stroke-width="0.75"/>
<line x1="273.60" y1="32.76" x2="275.40" y2="32.76" stroke="#333" stroke-width="0.75"/>
<text transform="translate(272.10,34.66) scale(1.01,1)" font-size="5.3" text-anchor="end" fill="#222">60° N</text>
<line x1="273.60" y1="49.02" x2="275.40" y2="49.02" stroke="#333" stroke-width="0.75"/>
<text transform="translate(272.10,50.92) scale(1.01,1)" font-size="5.3" text-anchor="end" fill="#222">30° N</text>
<line x1="273.60" y1="65.28" x2="275.40" y2="65.28" stroke="#333" stroke-width="0.75"/>
<text transform="translate(272.10,67.18) scale(1.01,1)" font-size="5.3" text-anchor="end" fill="#222">0°</text>
<line x1="273.60" y1="81.54" x2="275.40" y2="81.54" stroke="#333" stroke-width="0.75"/>
<text transform="translate(272.10,83.44) scale(1.01,1)" font-size="5.3" text-anchor="end" fill="#222">30° S</text>
<line x1="273.60" y1="97.80" x2="275.40" y2="97.80" stroke="#333" stroke-width="0.75"/>
<text transform="translate(272.10,99.70) scale(1.01,1)" font-size="5.3" text-anchor="end" fill="#222">60° S</text>
<line x1="275.40" y1="97.80" x2="275.40" y2="99.60" stroke="#333" stroke-width="0.75"/>
<line x1="306.75" y1="97.80" x2="306.75" y2="99.60" stroke="#333" stroke-width="0.75"/>
<text transform="translate(306.75,105.30) scale(1.01,1)" font-size="5.3" text-anchor="middle" fill="#222">120° W</text>
<line x1="338.10" y1="97.80" x2="338.10" y2="99.60" stroke="#333" stroke-width="0.75"/>
<text transform="translate(338.10,105.30) scale(1.01,1)" font-size="5.3" text-anchor="middle" fill="#222">60° W</text>
<line x1="369.45" y1="97.80" x2="369.45" y2="99.60" stroke="#333" stroke-width="0.75"/>
<text transform="translate(369.45,105.30) scale(1.01,1)" font-size="5.3" text-anchor="middle" fill="#222">0°</text>
<line x1="400.80" y1="97.80" x2="400.80" y2="99.60" stroke="#333" stroke-width="0.75"/>
<text transform="translate(400.80,105.30) scale(1.01,1)" font-size="5.3" text-anchor="middle" fill="#222">60° E</text>
<line x1="432.15" y1="97.80" x2="432.15" y2="99.60" stroke="#333" stroke-width="0.75"/>
<text transform="translate(432.15,105.30) scale(1.01,1)" font-size="5.3" text-anchor="middle" fill="#222">120° E</text>
<line x1="463.50" y1="97.80" x2="463.50" y2="99.60" stroke="#333" stroke-width="0.75"/>
<text transform="translate(369.45,112.80) scale(0.94,1)" font-size="6.8" text-anchor="middle" fill="#222">Longitude</text>
<text transform="translate(256.0,57.15) rotate(-90)" x="0" y="0" font-size="6.8" text-anchor="middle" fill="#222">Latitude</text>
<text x="273.00" y="23.50" font-size="9.5" text-anchor="end">(d)</text>
<rect x="275.4" y="129.4" width="188.10" height="81.60" fill="none" stroke="#444" stroke-width="0.7"/>
<line x1="273.60" y1="129.40" x2="275.40" y2="129.40" stroke="#333" stroke-width="0.75"/>
<line x1="273.60" y1="145.72" x2="275.40" y2="145.72" stroke="#333" stroke-width="0.75"/>
<text transform="translate(272.10,147.62) scale(1.01,1)" font-size="5.3" text-anchor="end" fill="#222">60° N</text>
<line x1="273.60" y1="162.04" x2="275.40" y2="162.04" stroke="#333" stroke-width="0.75"/>
<text transform="translate(272.10,163.94) scale(1.01,1)" font-size="5.3" text-anchor="end" fill="#222">30° N</text>
<line x1="273.60" y1="178.36" x2="275.40" y2="178.36" stroke="#333" stroke-width="0.75"/>
<text transform="translate(272.10,180.26) scale(1.01,1)" font-size="5.3" text-anchor="end" fill="#222">0°</text>
<line x1="273.60" y1="194.68" x2="275.40" y2="194.68" stroke="#333" stroke-width="0.75"/>
<text transform="translate(272.10,196.58) scale(1.01,1)" font-size="5.3" text-anchor="end" fill="#222">30° S</text>
<line x1="273.60" y1="211.00" x2="275.40" y2="211.00" stroke="#333" stroke-width="0.75"/>
<text transform="translate(272.10,212.90) scale(1.01,1)" font-size="5.3" text-anchor="end" fill="#222">60° S</text>
<line x1="275.40" y1="211.00" x2="275.40" y2="212.80" stroke="#333" stroke-width="0.75"/>
<line x1="306.75" y1="211.00" x2="306.75" y2="212.80" stroke="#333" stroke-width="0.75"/>
<text transform="translate(306.75,218.50) scale(1.01,1)" font-size="5.3" text-anchor="middle" fill="#222">120° W</text>
<line x1="338.10" y1="211.00" x2="338.10" y2="212.80" stroke="#333" stroke-width="0.75"/>
<text transform="translate(338.10,218.50) scale(1.01,1)" font-size="5.3" text-anchor="middle" fill="#222">60° W</text>
<line x1="369.45" y1="211.00" x2="369.45" y2="212.80" stroke="#333" stroke-width="0.75"/>
<text transform="translate(369.45,218.50) scale(1.01,1)" font-size="5.3" text-anchor="middle" fill="#222">0°</text>
<line x1="400.80" y1="211.00" x2="400.80" y2="212.80" stroke="#333" stroke-width="0.75"/>
<text transform="translate(400.80,218.50) scale(1.01,1)" font-size="5.3" text-anchor="middle" fill="#222">60° E</text>
<line x1="432.15" y1="211.00" x2="432.15" y2="212.80" stroke="#333" stroke-width="0.75"/>
<text transform="translate(432.15,218.50) scale(1.01,1)" font-size="5.3" text-anchor="middle" fill="#222">120° E</text>
<line x1="463.50" y1="211.00" x2="463.50" y2="212.80" stroke="#333" stroke-width="0.75"/>
<text transform="translate(369.45,226.00) scale(0.94,1)" font-size="6.8" text-anchor="middle" fill="#222">Longitude</text>
<text transform="translate(256.0,170.20) rotate(-90)" x="0" y="0" font-size="6.8" text-anchor="middle" fill="#222">Latitude</text>
<text x="273.00" y="136.40" font-size="9.5" text-anchor="end">(e)</text>
<rect x="275.4" y="241.4" width="188.10" height="82.10" fill="none" stroke="#444" stroke-width="0.7"/>
<line x1="273.60" y1="241.40" x2="275.40" y2="241.40" stroke="#333" stroke-width="0.75"/>
<line x1="273.60" y1="257.82" x2="275.40" y2="257.82" stroke="#333" stroke-width="0.75"/>
<text transform="translate(272.10,259.72) scale(1.01,1)" font-size="5.3" text-anchor="end" fill="#222">60° N</text>
<line x1="273.60" y1="274.24" x2="275.40" y2="274.24" stroke="#333" stroke-width="0.75"/>
<text transform="translate(272.10,276.14) scale(1.01,1)" font-size="5.3" text-anchor="end" fill="#222">30° N</text>
<line x1="273.60" y1="290.66" x2="275.40" y2="290.66" stroke="#333" stroke-width="0.75"/>
<text transform="translate(272.10,292.56) scale(1.01,1)" font-size="5.3" text-anchor="end" fill="#222">0°</text>
<line x1="273.60" y1="307.08" x2="275.40" y2="307.08" stroke="#333" stroke-width="0.75"/>
<text transform="translate(272.10,308.98) scale(1.01,1)" font-size="5.3" text-anchor="end" fill="#222">30° S</text>
<line x1="273.60" y1="323.50" x2="275.40" y2="323.50" stroke="#333" stroke-width="0.75"/>
<text transform="translate(272.10,325.40) scale(1.01,1)" font-size="5.3" text-anchor="end" fill="#222">60° S</text>
<line x1="275.40" y1="323.50" x2="275.40" y2="325.30" stroke="#333" stroke-width="0.75"/>
<line x1="306.75" y1="323.50" x2="306.75" y2="325.30" stroke="#333" stroke-width="0.75"/>
<text transform="translate(306.75,331.00) scale(1.01,1)" font-size="5.3" text-anchor="middle" fill="#222">120° W</text>
<line x1="338.10" y1="323.50" x2="338.10" y2="325.30" stroke="#333" stroke-width="0.75"/>
<text transform="translate(338.10,331.00) scale(1.01,1)" font-size="5.3" text-anchor="middle" fill="#222">60° W</text>
<line x1="369.45" y1="323.50" x2="369.45" y2="325.30" stroke="#333" stroke-width="0.75"/>
<text transform="translate(369.45,331.00) scale(1.01,1)" font-size="5.3" text-anchor="middle" fill="#222">0°</text>
<line x1="400.80" y1="323.50" x2="400.80" y2="325.30" stroke="#333" stroke-width="0.75"/>
<text transform="translate(400.80,331.00) scale(1.01,1)" font-size="5.3" text-anchor="middle" fill="#222">60° E</text>
<line x1="432.15" y1="323.50" x2="432.15" y2="325.30" stroke="#333" stroke-width="0.75"/>
<text transform="translate(432.15,331.00) scale(1.01,1)" font-size="5.3" text-anchor="middle" fill="#222">120° E</text>
<line x1="463.50" y1="323.50" x2="463.50" y2="325.30" stroke="#333" stroke-width="0.75"/>
<text transform="translate(369.45,338.50) scale(0.94,1)" font-size="6.8" text-anchor="middle" fill="#222">Longitude</text>
<text transform="translate(256.0,282.45) rotate(-90)" x="0" y="0" font-size="6.8" text-anchor="middle" fill="#222">Latitude</text>
<text x="273.00" y="248.40" font-size="9.5" text-anchor="end">(f)</text>
<rect x="237.90" y="91.01" width="4" height="4.24" fill="#d9d9d9"/>
<rect x="237.90" y="86.81" width="4" height="4.24" fill="#ffffcc"/>
<rect x="237.90" y="82.62" width="4" height="4.24" fill="#fff5b5"/>
<rect x="237.90" y="78.42" width="4" height="4.24" fill="#ffec9d"/>
<rect x="237.90" y="74.23" width="4" height="4.24" fill="#fee187"/>
<rect x="237.90" y="70.04" width="4" height="4.24" fill="#fed470"/>
<rect x="237.90" y="65.84" width="4" height="4.24" fill="#febf5a"/>
<rect x="237.90" y="61.65" width="4" height="4.24" fill="#feab49"/>
<rect x="237.90" y="57.45" width="4" height="4.24" fill="#fd9740"/>
<rect x="237.90" y="53.26" width="4" height="4.24" fill="#fd7c37"/>
<rect x="237.90" y="49.06" width="4" height="4.24" fill="#fc5b2e"/>
<rect x="237.90" y="44.87" width="4" height="4.24" fill="#f43d25"/>
<rect x="237.90" y="40.68" width="4" height="4.24" fill="#e6211e"/>
<rect x="237.90" y="36.48" width="4" height="4.24" fill="#d41020"/>
<rect x="237.90" y="32.29" width="4" height="4.24" fill="#c00225"/>
<rect x="237.90" y="28.09" width="4" height="4.24" fill="#a10026"/>
<rect x="237.90" y="23.90" width="4" height="4.24" fill="#800026"/>
<rect x="237.90" y="23.90" width="4" height="71.30" fill="none" stroke="#777" stroke-width="0.3"/>
<line x1="241.90" y1="93.10" x2="243.20" y2="93.10" stroke="#333" stroke-width="0.5"/>
<text transform="translate(244.90,95.00) scale(1.01,1)" font-size="5.3" fill="#222">0</text>
<line x1="241.90" y1="76.33" x2="243.20" y2="76.33" stroke="#333" stroke-width="0.5"/>
<text transform="translate(244.90,78.23) scale(1.01,1)" font-size="5.3" fill="#222">4</text>
<line x1="241.90" y1="59.55" x2="243.20" y2="59.55" stroke="#333" stroke-width="0.5"/>
<text transform="translate(244.90,61.45) scale(1.01,1)" font-size="5.3" fill="#222">8</text>
<line x1="241.90" y1="42.77" x2="243.20" y2="42.77" stroke="#333" stroke-width="0.5"/>
<text transform="translate(244.90,44.67) scale(1.01,1)" font-size="5.3" fill="#222">12</text>
<line x1="241.90" y1="26.00" x2="243.20" y2="26.00" stroke="#333" stroke-width="0.5"/>
<text transform="translate(244.90,27.90) scale(1.01,1)" font-size="5.3" fill="#222">16</text>
<line x1="241.90" y1="88.91" x2="242.70" y2="88.91" stroke="#555" stroke-width="0.3"/>
<line x1="241.90" y1="84.71" x2="242.70" y2="84.71" stroke="#555" stroke-width="0.3"/>
<line x1="241.90" y1="80.52" x2="242.70" y2="80.52" stroke="#555" stroke-width="0.3"/>
<line x1="241.90" y1="72.13" x2="242.70" y2="72.13" stroke="#555" stroke-width="0.3"/>
<line x1="241.90" y1="67.94" x2="242.70" y2="67.94" stroke="#555" stroke-width="0.3"/>
<line x1="241.90" y1="63.74" x2="242.70" y2="63.74" stroke="#555" stroke-width="0.3"/>
<line x1="241.90" y1="55.36" x2="242.70" y2="55.36" stroke="#555" stroke-width="0.3"/>
<line x1="241.90" y1="51.16" x2="242.70" y2="51.16" stroke="#555" stroke-width="0.3"/>
<line x1="241.90" y1="46.97" x2="242.70" y2="46.97" stroke="#555" stroke-width="0.3"/>
<line x1="241.90" y1="38.58" x2="242.70" y2="38.58" stroke="#555" stroke-width="0.3"/>
<line x1="241.90" y1="34.39" x2="242.70" y2="34.39" stroke="#555" stroke-width="0.3"/>
<line x1="241.90" y1="30.19" x2="242.70" y2="30.19" stroke="#555" stroke-width="0.3"/>
<rect x="236.70" y="203.61" width="4" height="4.24" fill="#d9d9d9"/>
<rect x="236.70" y="199.41" width="4" height="4.24" fill="#ffffcc"/>
<rect x="236.70" y="195.22" width="4" height="4.24" fill="#fff5b5"/>
<rect x="236.70" y="191.02" width="4" height="4.24" fill="#ffec9d"/>
<rect x="236.70" y="186.83" width="4" height="4.24" fill="#fee187"/>
<rect x="236.70" y="182.64" width="4" height="4.24" fill="#fed470"/>
<rect x="236.70" y="178.44" width="4" height="4.24" fill="#febf5a"/>
<rect x="236.70" y="174.25" width="4" height="4.24" fill="#feab49"/>
<rect x="236.70" y="170.05" width="4" height="4.24" fill="#fd9740"/>
<rect x="236.70" y="165.86" width="4" height="4.24" fill="#fd7c37"/>
<rect x="236.70" y="161.66" width="4" height="4.24" fill="#fc5b2e"/>
<rect x="236.70" y="157.47" width="4" height="4.24" fill="#f43d25"/>
<rect x="236.70" y="153.28" width="4" height="4.24" fill="#e6211e"/>
<rect x="236.70" y="149.08" width="4" height="4.24" fill="#d41020"/>
<rect x="236.70" y="144.89" width="4" height="4.24" fill="#c00225"/>
<rect x="236.70" y="140.69" width="4" height="4.24" fill="#a10026"/>
<rect x="236.70" y="136.50" width="4" height="4.24" fill="#800026"/>
<rect x="236.70" y="136.50" width="4" height="71.30" fill="none" stroke="#777" stroke-width="0.3"/>
<line x1="240.70" y1="205.70" x2="242.00" y2="205.70" stroke="#333" stroke-width="0.5"/>
<text transform="translate(243.70,207.60) scale(1.01,1)" font-size="5.3" fill="#222">0</text>
<line x1="240.70" y1="188.93" x2="242.00" y2="188.93" stroke="#333" stroke-width="0.5"/>
<text transform="translate(243.70,190.83) scale(1.01,1)" font-size="5.3" fill="#222">4</text>
<line x1="240.70" y1="172.15" x2="242.00" y2="172.15" stroke="#333" stroke-width="0.5"/>
<text transform="translate(243.70,174.05) scale(1.01,1)" font-size="5.3" fill="#222">8</text>
<line x1="240.70" y1="155.37" x2="242.00" y2="155.37" stroke="#333" stroke-width="0.5"/>
<text transform="translate(243.70,157.27) scale(1.01,1)" font-size="5.3" fill="#222">12</text>
<line x1="240.70" y1="138.60" x2="242.00" y2="138.60" stroke="#333" stroke-width="0.5"/>
<text transform="translate(243.70,140.50) scale(1.01,1)" font-size="5.3" fill="#222">16</text>
<line x1="240.70" y1="201.51" x2="241.50" y2="201.51" stroke="#555" stroke-width="0.3"/>
<line x1="240.70" y1="197.31" x2="241.50" y2="197.31" stroke="#555" stroke-width="0.3"/>
<line x1="240.70" y1="193.12" x2="241.50" y2="193.12" stroke="#555" stroke-width="0.3"/>
<line x1="240.70" y1="184.73" x2="241.50" y2="184.73" stroke="#555" stroke-width="0.3"/>
<line x1="240.70" y1="180.54" x2="241.50" y2="180.54" stroke="#555" stroke-width="0.3"/>
<line x1="240.70" y1="176.34" x2="241.50" y2="176.34" stroke="#555" stroke-width="0.3"/>
<line x1="240.70" y1="167.96" x2="241.50" y2="167.96" stroke="#555" stroke-width="0.3"/>
<line x1="240.70" y1="163.76" x2="241.50" y2="163.76" stroke="#555" stroke-width="0.3"/>
<line x1="240.70" y1="159.57" x2="241.50" y2="159.57" stroke="#555" stroke-width="0.3"/>
<line x1="240.70" y1="151.18" x2="241.50" y2="151.18" stroke="#555" stroke-width="0.3"/>
<line x1="240.70" y1="146.99" x2="241.50" y2="146.99" stroke="#555" stroke-width="0.3"/>
<line x1="240.70" y1="142.79" x2="241.50" y2="142.79" stroke="#555" stroke-width="0.3"/>
<rect x="237.00" y="316.11" width="4" height="4.24" fill="#d9d9d9"/>
<rect x="237.00" y="311.91" width="4" height="4.24" fill="#ffffcc"/>
<rect x="237.00" y="307.72" width="4" height="4.24" fill="#fff5b5"/>
<rect x="237.00" y="303.52" width="4" height="4.24" fill="#ffec9d"/>
<rect x="237.00" y="299.33" width="4" height="4.24" fill="#fee187"/>
<rect x="237.00" y="295.14" width="4" height="4.24" fill="#fed470"/>
<rect x="237.00" y="290.94" width="4" height="4.24" fill="#febf5a"/>
<rect x="237.00" y="286.75" width="4" height="4.24" fill="#feab49"/>
<rect x="237.00" y="282.55" width="4" height="4.24" fill="#fd9740"/>
<rect x="237.00" y="278.36" width="4" height="4.24" fill="#fd7c37"/>
<rect x="237.00" y="274.16" width="4" height="4.24" fill="#fc5b2e"/>
<rect x="237.00" y="269.97" width="4" height="4.24" fill="#f43d25"/>
<rect x="237.00" y="265.78" width="4" height="4.24" fill="#e6211e"/>
<rect x="237.00" y="261.58" width="4" height="4.24" fill="#d41020"/>
<rect x="237.00" y="257.39" width="4" height="4.24" fill="#c00225"/>
<rect x="237.00" y="253.19" width="4" height="4.24" fill="#a10026"/>
<rect x="237.00" y="249.00" width="4" height="4.24" fill="#800026"/>
<rect x="237.00" y="249.00" width="4" height="71.30" fill="none" stroke="#777" stroke-width="0.3"/>
<line x1="241.00" y1="318.20" x2="242.30" y2="318.20" stroke="#333" stroke-width="0.5"/>
<text transform="translate(244.00,320.10) scale(1.01,1)" font-size="5.3" fill="#222">0</text>
<line x1="241.00" y1="301.43" x2="242.30" y2="301.43" stroke="#333" stroke-width="0.5"/>
<text transform="translate(244.00,303.33) scale(1.01,1)" font-size="5.3" fill="#222">4</text>
<line x1="241.00" y1="284.65" x2="242.30" y2="284.65" stroke="#333" stroke-width="0.5"/>
<text transform="translate(244.00,286.55) scale(1.01,1)" font-size="5.3" fill="#222">8</text>
<line x1="241.00" y1="267.87" x2="242.30" y2="267.87" stroke="#333" stroke-width="0.5"/>
<text transform="translate(244.00,269.77) scale(1.01,1)" font-size="5.3" fill="#222">12</text>
<line x1="241.00" y1="251.10" x2="242.30" y2="251.10" stroke="#333" stroke-width="0.5"/>
<text transform="translate(244.00,253.00) scale(1.01,1)" font-size="5.3" fill="#222">16</text>
<line x1="241.00" y1="314.01" x2="241.80" y2="314.01" stroke="#555" stroke-width="0.3"/>
<line x1="241.00" y1="309.81" x2="241.80" y2="309.81" stroke="#555" stroke-width="0.3"/>
<line x1="241.00" y1="305.62" x2="241.80" y2="305.62" stroke="#555" stroke-width="0.3"/>
<line x1="241.00" y1="297.23" x2="241.80" y2="297.23" stroke="#555" stroke-width="0.3"/>
<line x1="241.00" y1="293.04" x2="241.80" y2="293.04" stroke="#555" stroke-width="0.3"/>
<line x1="241.00" y1="288.84" x2="241.80" y2="288.84" stroke="#555" stroke-width="0.3"/>
<line x1="241.00" y1="280.46" x2="241.80" y2="280.46" stroke="#555" stroke-width="0.3"/>
<line x1="241.00" y1="276.26" x2="241.80" y2="276.26" stroke="#555" stroke-width="0.3"/>
<line x1="241.00" y1="272.07" x2="241.80" y2="272.07" stroke="#555" stroke-width="0.3"/>
<line x1="241.00" y1="263.68" x2="241.80" y2="263.68" stroke="#555" stroke-width="0.3"/>
<line x1="241.00" y1="259.49" x2="241.80" y2="259.49" stroke="#555" stroke-width="0.3"/>
<line x1="241.00" y1="255.29" x2="241.80" y2="255.29" stroke="#555" stroke-width="0.3"/>
<rect x="475.20" y="79.87" width="3.8" height="11.38" fill="#ef8b6a"/>
<rect x="475.20" y="68.53" width="3.8" height="11.38" fill="#f5b6a1"/>
<rect x="475.20" y="57.20" width="3.8" height="11.38" fill="#a9d8e7"/>
<rect x="475.20" y="45.87" width="3.8" height="11.38" fill="#70b4d8"/>
<rect x="475.20" y="34.53" width="3.8" height="11.38" fill="#4b8fc6"/>
<rect x="475.20" y="23.20" width="3.8" height="11.38" fill="#1d62a6"/>
<rect x="475.20" y="23.20" width="3.8" height="68.00" fill="none" stroke="#777" stroke-width="0.3"/>
<line x1="479.00" y1="91.20" x2="480.50" y2="91.20" stroke="#333" stroke-width="0.5"/>
<text transform="translate(481.70,93.10) scale(1.01,1)" font-size="5.3" fill="#222">−50</text>
<line x1="479.00" y1="68.53" x2="480.50" y2="68.53" stroke="#333" stroke-width="0.5"/>
<text transform="translate(481.70,70.43) scale(1.01,1)" font-size="5.3" fill="#222">0</text>
<line x1="479.00" y1="45.87" x2="480.50" y2="45.87" stroke="#333" stroke-width="0.5"/>
<text transform="translate(481.70,47.77) scale(1.01,1)" font-size="5.3" fill="#222">50</text>
<line x1="479.00" y1="23.20" x2="480.50" y2="23.20" stroke="#333" stroke-width="0.5"/>
<text transform="translate(481.70,25.10) scale(1.01,1)" font-size="5.3" fill="#222">100</text>
<line x1="479.00" y1="79.87" x2="480.00" y2="79.87" stroke="#555" stroke-width="0.3"/>
<line x1="479.00" y1="57.20" x2="480.00" y2="57.20" stroke="#555" stroke-width="0.3"/>
<line x1="479.00" y1="34.53" x2="480.00" y2="34.53" stroke="#555" stroke-width="0.3"/>
<text transform="translate(489.70,60.50)" font-size="7" fill="#222">%</text>
<rect x="475.40" y="192.17" width="3.8" height="11.38" fill="#ef8b6a"/>
<rect x="475.40" y="180.83" width="3.8" height="11.38" fill="#f5b6a1"/>
<rect x="475.40" y="169.50" width="3.8" height="11.38" fill="#a9d8e7"/>
<rect x="475.40" y="158.17" width="3.8" height="11.38" fill="#70b4d8"/>
<rect x="475.40" y="146.83" width="3.8" height="11.38" fill="#4b8fc6"/>
<rect x="475.40" y="135.50" width="3.8" height="11.38" fill="#1d62a6"/>
<rect x="475.40" y="135.50" width="3.8" height="68.00" fill="none" stroke="#777" stroke-width="0.3"/>
<line x1="479.20" y1="203.50" x2="480.70" y2="203.50" stroke="#333" stroke-width="0.5"/>
<text transform="translate(481.90,205.40) scale(1.01,1)" font-size="5.3" fill="#222">−50</text>
<line x1="479.20" y1="180.83" x2="480.70" y2="180.83" stroke="#333" stroke-width="0.5"/>
<text transform="translate(481.90,182.73) scale(1.01,1)" font-size="5.3" fill="#222">0</text>
<line x1="479.20" y1="158.17" x2="480.70" y2="158.17" stroke="#333" stroke-width="0.5"/>
<text transform="translate(481.90,160.07) scale(1.01,1)" font-size="5.3" fill="#222">50</text>
<line x1="479.20" y1="135.50" x2="480.70" y2="135.50" stroke="#333" stroke-width="0.5"/>
<text transform="translate(481.90,137.40) scale(1.01,1)" font-size="5.3" fill="#222">100</text>
<line x1="479.20" y1="192.17" x2="480.20" y2="192.17" stroke="#555" stroke-width="0.3"/>
<line x1="479.20" y1="169.50" x2="480.20" y2="169.50" stroke="#555" stroke-width="0.3"/>
<line x1="479.20" y1="146.83" x2="480.20" y2="146.83" stroke="#555" stroke-width="0.3"/>
<text transform="translate(489.90,172.80)" font-size="7" fill="#222">%</text>
<rect x="475.60" y="304.67" width="3.8" height="11.38" fill="#ef8b6a"/>
<rect x="475.60" y="293.33" width="3.8" height="11.38" fill="#f5b6a1"/>
<rect x="475.60" y="282.00" width="3.8" height="11.38" fill="#a9d8e7"/>
<rect x="475.60" y="270.67" width="3.8" height="11.38" fill="#70b4d8"/>
<rect x="475.60" y="259.33" width="3.8" height="11.38" fill="#4b8fc6"/>
<rect x="475.60" y="248.00" width="3.8" height="11.38" fill="#1d62a6"/>
<rect x="475.60" y="248.00" width="3.8" height="68.00" fill="none" stroke="#777" stroke-width="0.3"/>
<line x1="479.40" y1="316.00" x2="480.90" y2="316.00" stroke="#333" stroke-width="0.5"/>
<text transform="translate(482.10,317.90) scale(1.01,1)" font-size="5.3" fill="#222">−50</text>
<line x1="479.40" y1="293.33" x2="480.90" y2="293.33" stroke="#333" stroke-width="0.5"/>
<text transform="translate(482.10,295.23) scale(1.01,1)" font-size="5.3" fill="#222">0</text>
<line x1="479.40" y1="270.67" x2="480.90" y2="270.67" stroke="#333" stroke-width="0.5"/>
<text transform="translate(482.10,272.57) scale(1.01,1)" font-size="5.3" fill="#222">50</text>
<line x1="479.40" y1="248.00" x2="480.90" y2="248.00" stroke="#333" stroke-width="0.5"/>
<text transform="translate(482.10,249.90) scale(1.01,1)" font-size="5.3" fill="#222">100</text>
<line x1="479.40" y1="304.67" x2="480.40" y2="304.67" stroke="#555" stroke-width="0.3"/>
<line x1="479.40" y1="282.00" x2="480.40" y2="282.00" stroke="#555" stroke-width="0.3"/>
<line x1="479.40" y1="259.33" x2="480.40" y2="259.33" stroke="#555" stroke-width="0.3"/>
<text transform="translate(490.10,285.30)" font-size="7" fill="#222">%</text>
<text transform="translate(200.4,12.5) scale(0.95,1)" font-size="10" fill="#111">Temperate C<tspan font-size="5.8" dx="0.3" dy="2.0">3</tspan><tspan dy="-2.0" dx="0.2"> grassland</tspan></text>
<text transform="translate(223.6,122.5) scale(0.95,1)" font-size="10" fill="#111">C<tspan font-size="5.8" dx="0.3" dy="2.0">4</tspan><tspan dy="-2.0" dx="0.2"> grassland</tspan></text>
<text transform="translate(212.2,234.5) scale(0.95,1)" font-size="10" fill="#111">Tropical C<tspan font-size="5.8" dx="0.3" dy="2.0">3</tspan><tspan dy="-2.0" dx="0.2"> grassland</tspan></text>
</svg></body></html>
